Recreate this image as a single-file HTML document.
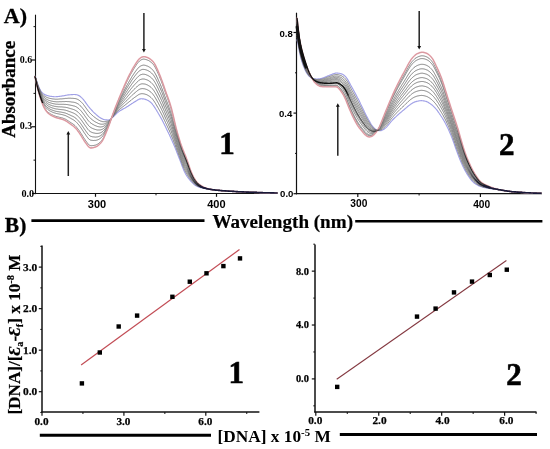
<!DOCTYPE html>
<html><head><meta charset="utf-8"><style>
html,body{margin:0;padding:0;background:#fff;}
svg{display:block;will-change:transform;}
</style></head><body>
<svg width="550" height="449" viewBox="0 0 550 449">
<rect width="550" height="449" fill="#fff"/>
<line x1="35.5" y1="14.7" x2="35.5" y2="194.1" stroke="#111" stroke-width="1.1"/>
<line x1="35" y1="193.5" x2="277.5" y2="193.5" stroke="#111" stroke-width="1.1"/>
<line x1="32" y1="193.5" x2="35.5" y2="193.5" stroke="#111" stroke-width="1.2"/>
<line x1="32" y1="126.75" x2="35.5" y2="126.75" stroke="#111" stroke-width="1.2"/>
<line x1="32" y1="60.0" x2="35.5" y2="60.0" stroke="#111" stroke-width="1.2"/>
<line x1="33.5" y1="160.125" x2="35.5" y2="160.125" stroke="#111" stroke-width="1"/>
<line x1="33.5" y1="93.375" x2="35.5" y2="93.375" stroke="#111" stroke-width="1"/>
<line x1="33.5" y1="26.625" x2="35.5" y2="26.625" stroke="#111" stroke-width="1"/>
<line x1="95.5" y1="193.5" x2="95.5" y2="196.8" stroke="#111" stroke-width="1.2"/>
<line x1="216.5" y1="193.5" x2="216.5" y2="196.8" stroke="#111" stroke-width="1.2"/>
<line x1="156.0" y1="193.5" x2="156.0" y2="195.3" stroke="#111" stroke-width="1"/>
<polyline points="35.0,76.2 35.5,77.3 36.0,78.7 36.5,80.3 37.0,81.9 37.5,83.4 38.0,84.8 38.5,86.1 39.0,87.3 39.5,88.4 40.0,89.4 40.5,90.3 41.0,91.1 41.5,91.8 42.0,92.4 42.5,92.9 43.0,93.4 43.5,93.8 44.0,94.1 44.5,94.4 45.0,94.7 45.5,94.9 46.0,95.1 46.5,95.3 47.0,95.5 47.5,95.6 48.0,95.8 48.5,95.9 49.0,96.0 49.5,96.1 50.0,96.2 50.5,96.3 51.0,96.3 51.5,96.4 52.0,96.5 52.5,96.5 53.0,96.6 53.5,96.6 54.0,96.7 54.5,96.7 55.0,96.7 55.5,96.7 56.0,96.7 56.5,96.6 57.0,96.6 57.5,96.6 58.0,96.5 58.5,96.5 59.0,96.4 59.5,96.3 60.0,96.3 60.5,96.2 61.0,96.1 61.5,96.1 62.0,96.0 62.5,95.9 63.0,95.8 63.5,95.8 64.0,95.7 64.5,95.6 65.0,95.5 65.5,95.4 66.0,95.3 66.5,95.2 67.0,95.1 67.5,95.0 68.0,94.9 68.5,94.9 69.0,94.8 69.5,94.8 70.0,94.7 70.5,94.7 71.0,94.6 71.5,94.6 72.0,94.6 72.5,94.6 73.0,94.5 73.5,94.5 74.0,94.5 74.5,94.5 75.0,94.5 75.5,94.6 76.0,94.6 76.5,94.7 77.0,94.8 77.5,95.0 78.0,95.2 78.5,95.4 79.0,95.6 79.5,95.9 80.0,96.3 80.5,96.7 81.0,97.1 81.5,97.6 82.0,98.0 82.5,98.6 83.0,99.1 83.5,99.7 84.0,100.3 84.5,101.0 85.0,101.7 85.5,102.4 86.0,103.1 86.5,103.8 87.0,104.5 87.5,105.2 88.0,105.9 88.5,106.5 89.0,107.1 89.5,107.7 90.0,108.3 90.5,108.9 91.0,109.4 91.5,110.0 92.0,110.5 92.5,111.0 93.0,111.6 93.5,112.1 94.0,112.6 94.5,113.0 95.0,113.5 95.5,113.9 96.0,114.4 96.5,114.8 97.0,115.3 97.5,115.7 98.0,116.1 98.5,116.5 99.0,116.9 99.5,117.2 100.0,117.6 100.5,117.9 101.0,118.2 101.5,118.4 102.0,118.7 102.5,118.9 103.0,119.2 103.5,119.4 104.0,119.5 104.5,119.7 105.0,119.8 105.5,119.8 106.0,119.9 106.5,119.9 107.0,119.9 107.5,120.0 108.0,120.0 108.5,120.0 109.0,119.9 109.5,119.8 110.0,119.6 110.5,119.2 111.0,118.9 111.5,118.4 112.0,117.9 112.5,117.5 113.0,117.0 113.5,116.5 114.0,116.0 114.5,115.5 115.0,115.0 115.5,114.5 116.0,114.0 116.5,113.5 117.0,113.0 117.5,112.6 118.0,112.2 118.5,111.8 119.0,111.5 119.5,111.1 120.0,110.8 120.5,110.5 121.0,110.2 121.5,109.9 122.0,109.6 122.5,109.4 123.0,109.1 123.5,108.8 124.0,108.5 124.5,108.3 125.0,108.0 125.5,107.7 126.0,107.4 126.5,107.1 127.0,106.8 127.5,106.5 128.0,106.2 128.5,105.8 129.0,105.5 129.5,105.2 130.0,104.8 130.5,104.5 131.0,104.2 131.5,103.8 132.0,103.5 132.5,103.2 133.0,102.9 133.5,102.5 134.0,102.2 134.5,101.9 135.0,101.6 135.5,101.4 136.0,101.1 136.5,100.8 137.0,100.4 137.5,100.1 138.0,99.8 138.5,99.6 139.0,99.3 139.5,99.1 140.0,98.9 140.5,98.8 141.0,98.8 141.5,98.7 142.0,98.8 142.5,98.8 143.0,98.9 143.5,98.9 144.0,99.0 144.5,99.1 145.0,99.2 145.5,99.4 146.0,99.6 146.5,99.8 147.0,100.0 147.5,100.3 148.0,100.5 148.5,100.8 149.0,101.1 149.5,101.5 150.0,101.8 150.5,102.2 151.0,102.7 151.5,103.2 152.0,103.7 152.5,104.3 153.0,105.0 153.5,105.6 154.0,106.4 154.5,107.1 155.0,107.9 155.5,108.7 156.0,109.5 156.5,110.3 157.0,111.1 157.5,112.0 158.0,112.8 158.5,113.7 159.0,114.5 159.5,115.4 160.0,116.2 160.5,117.1 161.0,118.0 161.5,118.9 162.0,119.8 162.5,120.8 163.0,121.8 163.5,122.8 164.0,123.8 164.5,124.8 165.0,125.8 165.5,126.8 166.0,127.8 166.5,128.9 167.0,129.9 167.5,130.9 168.0,132.0 168.5,133.0 169.0,134.1 169.5,135.1 170.0,136.2 170.5,137.3 171.0,138.4 171.5,139.5 172.0,140.6 172.5,141.8 173.0,142.9 173.5,144.1 174.0,145.2 174.5,146.4 175.0,147.6 175.5,148.9 176.0,150.1 176.5,151.4 177.0,152.7 177.5,153.9 178.0,155.2 178.5,156.5 179.0,157.7 179.5,159.0 180.0,160.3 180.5,161.6 181.0,163.0 181.5,164.3 182.0,165.7 182.5,167.0 183.0,168.3 183.5,169.5 184.0,170.7 184.5,171.8 185.0,172.8 185.5,173.8 186.0,174.7 186.5,175.5 187.0,176.3 187.5,177.0 188.0,177.7 188.5,178.4 189.0,179.0 189.5,179.6 190.0,180.2 190.5,180.8 191.0,181.3 191.5,181.9 192.0,182.4 192.5,182.9 193.0,183.4 193.5,183.8 194.0,184.3 194.5,184.7 195.0,185.1 195.5,185.4 196.0,185.8 196.5,186.1 197.0,186.3 197.5,186.5 198.0,186.7 198.5,186.9 199.0,187.1 199.5,187.3 200.0,187.4 200.5,187.6 201.0,187.7 201.5,187.8 202.0,188.0 202.5,188.1 203.0,188.2 203.5,188.3 204.0,188.4 204.5,188.5 205.0,188.6 205.5,188.7 206.0,188.8 206.5,188.9 207.0,189.0 207.5,189.0 208.0,189.1 208.5,189.2 209.0,189.3 209.5,189.3 210.0,189.4 210.5,189.5 211.0,189.5 211.5,189.6 212.0,189.7 212.5,189.7 213.0,189.8 213.5,189.8 214.0,189.9 214.5,189.9 215.0,190.0 215.5,190.0 216.0,190.1 216.5,190.1 217.0,190.2 217.5,190.2 218.0,190.3 218.5,190.3 219.0,190.4 219.5,190.4 220.0,190.5 220.5,190.5 221.0,190.5 221.5,190.6 222.0,190.6 222.5,190.7 223.0,190.7 223.5,190.7 224.0,190.8 224.5,190.8 225.0,190.9 225.5,190.9 226.0,190.9 226.5,191.0 227.0,191.0 227.5,191.0 228.0,191.1 228.5,191.1 229.0,191.1 229.5,191.2 230.0,191.2 230.5,191.2 231.0,191.3 231.5,191.3 232.0,191.3 232.5,191.4 233.0,191.4 233.5,191.4 234.0,191.4 234.5,191.5 235.0,191.5 235.5,191.5 236.0,191.6 236.5,191.6 237.0,191.6 237.5,191.6 238.0,191.7 238.5,191.7 239.0,191.7 239.5,191.7 240.0,191.8 240.5,191.8 241.0,191.8 241.5,191.8 242.0,191.9 242.5,191.9 243.0,191.9 243.5,191.9 244.0,192.0 244.5,192.0 245.0,192.0 245.5,192.0 246.0,192.0 246.5,192.1 247.0,192.1 247.5,192.1 248.0,192.1 248.5,192.1 249.0,192.2 249.5,192.2 250.0,192.2 250.5,192.2 251.0,192.2 251.5,192.3 252.0,192.3 252.5,192.3 253.0,192.3 253.5,192.3 254.0,192.3 254.5,192.4 255.0,192.4 255.5,192.4 256.0,192.4 256.5,192.4 257.0,192.5 257.5,192.5 258.0,192.5 258.5,192.5 259.0,192.5 259.5,192.5 260.0,192.6 260.5,192.6 261.0,192.6 261.5,192.6 262.0,192.6 262.5,192.6 263.0,192.7 263.5,192.7 264.0,192.7 264.5,192.7 265.0,192.7 265.5,192.7 266.0,192.7 266.5,192.8 267.0,192.8 267.5,192.8 268.0,192.8 268.5,192.8 269.0,192.8 269.5,192.8 270.0,192.8 270.5,192.9 271.0,192.9 271.5,192.9 272.0,192.9 272.5,192.9 273.0,192.9 273.5,192.9 274.0,192.9 274.5,193.0 275.0,193.0 275.5,193.0 276.0,193.0 276.5,193.0 277.0,193.0" fill="none" stroke="#a0a0e6" stroke-width="1.15" stroke-opacity="1.0" stroke-linejoin="round" stroke-linecap="round"/>
<polyline points="35.0,76.3 35.5,77.5 36.0,79.0 36.5,80.7 37.0,82.3 37.5,83.9 38.0,85.4 38.5,86.7 39.0,88.0 39.5,89.2 40.0,90.2 40.5,91.2 41.0,92.1 41.5,92.9 42.0,93.6 42.5,94.3 43.0,94.8 43.5,95.3 44.0,95.7 44.5,96.1 45.0,96.4 45.5,96.7 46.0,97.0 46.5,97.2 47.0,97.5 47.5,97.7 48.0,97.9 48.5,98.0 49.0,98.2 49.5,98.3 50.0,98.4 50.5,98.5 51.0,98.6 51.5,98.7 52.0,98.8 52.5,98.9 53.0,99.0 53.5,99.0 54.0,99.1 54.5,99.1 55.0,99.2 55.5,99.2 56.0,99.2 56.5,99.2 57.0,99.2 57.5,99.2 58.0,99.1 58.5,99.1 59.0,99.1 59.5,99.0 60.0,99.0 60.5,98.9 61.0,98.9 61.5,98.9 62.0,98.8 62.5,98.8 63.0,98.7 63.5,98.7 64.0,98.6 64.5,98.6 65.0,98.5 65.5,98.4 66.0,98.4 66.5,98.4 67.0,98.3 67.5,98.3 68.0,98.3 68.5,98.2 69.0,98.2 69.5,98.2 70.0,98.2 70.5,98.2 71.0,98.3 71.5,98.3 72.0,98.3 72.5,98.3 73.0,98.3 73.5,98.4 74.0,98.4 74.5,98.5 75.0,98.5 75.5,98.6 76.0,98.7 76.5,98.9 77.0,99.1 77.5,99.3 78.0,99.5 78.5,99.8 79.0,100.1 79.5,100.5 80.0,100.9 80.5,101.3 81.0,101.8 81.5,102.3 82.0,102.8 82.5,103.3 83.0,103.9 83.5,104.5 84.0,105.2 84.5,105.9 85.0,106.6 85.5,107.3 86.0,108.0 86.5,108.7 87.0,109.4 87.5,110.1 88.0,110.8 88.5,111.4 89.0,112.0 89.5,112.5 90.0,113.1 90.5,113.6 91.0,114.1 91.5,114.6 92.0,115.0 92.5,115.5 93.0,115.9 93.5,116.4 94.0,116.8 94.5,117.2 95.0,117.6 95.5,117.9 96.0,118.3 96.5,118.7 97.0,119.0 97.5,119.3 98.0,119.7 98.5,120.0 99.0,120.3 99.5,120.5 100.0,120.7 100.5,121.0 101.0,121.1 101.5,121.3 102.0,121.4 102.5,121.6 103.0,121.7 103.5,121.7 104.0,121.7 104.5,121.7 105.0,121.6 105.5,121.6 106.0,121.5 106.5,121.3 107.0,121.2 107.5,121.1 108.0,120.9 108.5,120.8 109.0,120.6 109.5,120.3 110.0,119.9 110.5,119.5 111.0,118.9 111.5,118.4 112.0,117.8 112.5,117.2 113.0,116.6 113.5,116.0 114.0,115.4 114.5,114.8 115.0,114.2 115.5,113.6 116.0,113.0 116.5,112.4 117.0,111.9 117.5,111.3 118.0,110.8 118.5,110.3 119.0,109.9 119.5,109.4 120.0,109.0 120.5,108.6 121.0,108.2 121.5,107.8 122.0,107.4 122.5,107.0 123.0,106.6 123.5,106.3 124.0,105.9 124.5,105.5 125.0,105.1 125.5,104.7 126.0,104.3 126.5,103.9 127.0,103.5 127.5,103.1 128.0,102.7 128.5,102.3 129.0,101.9 129.5,101.5 130.0,101.1 130.5,100.7 131.0,100.3 131.5,99.8 132.0,99.4 132.5,99.0 133.0,98.7 133.5,98.3 134.0,97.9 134.5,97.5 135.0,97.2 135.5,96.8 136.0,96.5 136.5,96.1 137.0,95.8 137.5,95.4 138.0,95.1 138.5,94.7 139.0,94.4 139.5,94.2 140.0,94.0 140.5,93.9 141.0,93.8 141.5,93.7 142.0,93.7 142.5,93.7 143.0,93.8 143.5,93.8 144.0,93.9 144.5,94.0 145.0,94.1 145.5,94.3 146.0,94.4 146.5,94.6 147.0,94.8 147.5,95.1 148.0,95.4 148.5,95.7 149.0,96.0 149.5,96.3 150.0,96.7 150.5,97.1 151.0,97.5 151.5,98.0 152.0,98.5 152.5,99.1 153.0,99.7 153.5,100.4 154.0,101.1 154.5,101.8 155.0,102.6 155.5,103.4 156.0,104.3 156.5,105.1 157.0,106.0 157.5,106.9 158.0,107.7 158.5,108.6 159.0,109.5 159.5,110.4 160.0,111.3 160.5,112.2 161.0,113.2 161.5,114.1 162.0,115.1 162.5,116.1 163.0,117.2 163.5,118.2 164.0,119.3 164.5,120.3 165.0,121.4 165.5,122.5 166.0,123.5 166.5,124.6 167.0,125.7 167.5,126.7 168.0,127.8 168.5,128.9 169.0,130.0 169.5,131.1 170.0,132.3 170.5,133.4 171.0,134.6 171.5,135.8 172.0,137.0 172.5,138.2 173.0,139.5 173.5,140.8 174.0,142.1 174.5,143.4 175.0,144.7 175.5,146.0 176.0,147.4 176.5,148.7 177.0,150.1 177.5,151.4 178.0,152.7 178.5,154.1 179.0,155.4 179.5,156.7 180.0,158.0 180.5,159.4 181.0,160.7 181.5,162.1 182.0,163.4 182.5,164.8 183.0,166.0 183.5,167.3 184.0,168.5 184.5,169.6 185.0,170.6 185.5,171.6 186.0,172.5 186.5,173.4 187.0,174.3 187.5,175.1 188.0,175.9 188.5,176.7 189.0,177.4 189.5,178.1 190.0,178.8 190.5,179.5 191.0,180.1 191.5,180.8 192.0,181.3 192.5,181.9 193.0,182.5 193.5,183.0 194.0,183.5 194.5,184.0 195.0,184.4 195.5,184.8 196.0,185.2 196.5,185.5 197.0,185.8 197.5,186.1 198.0,186.3 198.5,186.5 199.0,186.8 199.5,186.9 200.0,187.1 200.5,187.3 201.0,187.5 201.5,187.6 202.0,187.8 202.5,187.9 203.0,188.0 203.5,188.1 204.0,188.3 204.5,188.4 205.0,188.5 205.5,188.6 206.0,188.7 206.5,188.8 207.0,188.9 207.5,189.0 208.0,189.1 208.5,189.1 209.0,189.2 209.5,189.3 210.0,189.4 210.5,189.4 211.0,189.5 211.5,189.6 212.0,189.6 212.5,189.7 213.0,189.8 213.5,189.8 214.0,189.9 214.5,189.9 215.0,190.0 215.5,190.0 216.0,190.1 216.5,190.1 217.0,190.2 217.5,190.2 218.0,190.3 218.5,190.3 219.0,190.4 219.5,190.4 220.0,190.5 220.5,190.5 221.0,190.6 221.5,190.6 222.0,190.6 222.5,190.7 223.0,190.7 223.5,190.8 224.0,190.8 224.5,190.8 225.0,190.9 225.5,190.9 226.0,190.9 226.5,191.0 227.0,191.0 227.5,191.0 228.0,191.1 228.5,191.1 229.0,191.1 229.5,191.2 230.0,191.2 230.5,191.2 231.0,191.3 231.5,191.3 232.0,191.3 232.5,191.4 233.0,191.4 233.5,191.4 234.0,191.4 234.5,191.5 235.0,191.5 235.5,191.5 236.0,191.6 236.5,191.6 237.0,191.6 237.5,191.6 238.0,191.7 238.5,191.7 239.0,191.7 239.5,191.7 240.0,191.8 240.5,191.8 241.0,191.8 241.5,191.8 242.0,191.9 242.5,191.9 243.0,191.9 243.5,191.9 244.0,192.0 244.5,192.0 245.0,192.0 245.5,192.0 246.0,192.0 246.5,192.1 247.0,192.1 247.5,192.1 248.0,192.1 248.5,192.1 249.0,192.2 249.5,192.2 250.0,192.2 250.5,192.2 251.0,192.2 251.5,192.3 252.0,192.3 252.5,192.3 253.0,192.3 253.5,192.3 254.0,192.3 254.5,192.4 255.0,192.4 255.5,192.4 256.0,192.4 256.5,192.4 257.0,192.5 257.5,192.5 258.0,192.5 258.5,192.5 259.0,192.5 259.5,192.5 260.0,192.6 260.5,192.6 261.0,192.6 261.5,192.6 262.0,192.6 262.5,192.6 263.0,192.7 263.5,192.7 264.0,192.7 264.5,192.7 265.0,192.7 265.5,192.7 266.0,192.7 266.5,192.8 267.0,192.8 267.5,192.8 268.0,192.8 268.5,192.8 269.0,192.8 269.5,192.8 270.0,192.8 270.5,192.9 271.0,192.9 271.5,192.9 272.0,192.9 272.5,192.9 273.0,192.9 273.5,192.9 274.0,192.9 274.5,193.0 275.0,193.0 275.5,193.0 276.0,193.0 276.5,193.0 277.0,193.0" fill="none" stroke="#6c6c6c" stroke-width="0.85" stroke-opacity="1.0" stroke-linejoin="round" stroke-linecap="round"/>
<polyline points="35.0,76.3 35.5,77.6 36.0,79.3 36.5,81.1 37.0,82.8 37.5,84.5 38.0,86.0 38.5,87.4 39.0,88.7 39.5,90.0 40.0,91.1 40.5,92.2 41.0,93.2 41.5,94.1 42.0,94.9 42.5,95.6 43.0,96.2 43.5,96.8 44.0,97.3 44.5,97.8 45.0,98.2 45.5,98.6 46.0,98.9 46.5,99.2 47.0,99.5 47.5,99.7 48.0,100.0 48.5,100.2 49.0,100.4 49.5,100.5 50.0,100.7 50.5,100.8 51.0,100.9 51.5,101.1 52.0,101.2 52.5,101.3 53.0,101.4 53.5,101.5 54.0,101.5 54.5,101.6 55.0,101.7 55.5,101.7 56.0,101.7 56.5,101.8 57.0,101.8 57.5,101.8 58.0,101.8 58.5,101.8 59.0,101.7 59.5,101.7 60.0,101.7 60.5,101.7 61.0,101.7 61.5,101.7 62.0,101.6 62.5,101.6 63.0,101.6 63.5,101.6 64.0,101.6 64.5,101.6 65.0,101.5 65.5,101.5 66.0,101.5 66.5,101.5 67.0,101.6 67.5,101.6 68.0,101.6 68.5,101.6 69.0,101.7 69.5,101.7 70.0,101.8 70.5,101.8 71.0,101.9 71.5,102.0 72.0,102.0 72.5,102.1 73.0,102.2 73.5,102.2 74.0,102.3 74.5,102.4 75.0,102.6 75.5,102.7 76.0,102.9 76.5,103.1 77.0,103.3 77.5,103.6 78.0,103.9 78.5,104.2 79.0,104.6 79.5,105.0 80.0,105.5 80.5,105.9 81.0,106.5 81.5,107.0 82.0,107.6 82.5,108.2 83.0,108.8 83.5,109.4 84.0,110.1 84.5,110.8 85.0,111.5 85.5,112.2 86.0,112.9 86.5,113.6 87.0,114.3 87.5,115.0 88.0,115.7 88.5,116.3 89.0,116.9 89.5,117.4 90.0,117.9 90.5,118.3 91.0,118.8 91.5,119.2 92.0,119.6 92.5,120.0 93.0,120.3 93.5,120.7 94.0,121.0 94.5,121.4 95.0,121.7 95.5,122.0 96.0,122.3 96.5,122.5 97.0,122.8 97.5,123.0 98.0,123.3 98.5,123.5 99.0,123.7 99.5,123.8 100.0,124.0 100.5,124.1 101.0,124.1 101.5,124.2 102.0,124.2 102.5,124.2 103.0,124.2 103.5,124.1 104.0,123.9 104.5,123.8 105.0,123.5 105.5,123.3 106.0,123.0 106.5,122.8 107.0,122.5 107.5,122.2 108.0,121.9 108.5,121.6 109.0,121.2 109.5,120.8 110.0,120.3 110.5,119.7 111.0,119.0 111.5,118.3 112.0,117.6 112.5,116.9 113.0,116.2 113.5,115.5 114.0,114.8 114.5,114.1 115.0,113.4 115.5,112.7 116.0,112.0 116.5,111.3 117.0,110.7 117.5,110.0 118.0,109.4 118.5,108.9 119.0,108.3 119.5,107.8 120.0,107.2 120.5,106.7 121.0,106.2 121.5,105.7 122.0,105.2 122.5,104.7 123.0,104.2 123.5,103.7 124.0,103.2 124.5,102.7 125.0,102.2 125.5,101.7 126.0,101.2 126.5,100.8 127.0,100.3 127.5,99.8 128.0,99.3 128.5,98.8 129.0,98.3 129.5,97.8 130.0,97.3 130.5,96.8 131.0,96.3 131.5,95.8 132.0,95.3 132.5,94.9 133.0,94.4 133.5,94.0 134.0,93.5 134.5,93.1 135.0,92.7 135.5,92.3 136.0,91.9 136.5,91.4 137.0,91.0 137.5,90.6 138.0,90.2 138.5,89.9 139.0,89.5 139.5,89.3 140.0,89.0 140.5,88.9 141.0,88.8 141.5,88.7 142.0,88.6 142.5,88.6 143.0,88.6 143.5,88.7 144.0,88.7 144.5,88.8 145.0,88.9 145.5,89.1 146.0,89.2 146.5,89.4 147.0,89.7 147.5,89.9 148.0,90.2 148.5,90.4 149.0,90.7 149.5,91.1 150.0,91.4 150.5,91.8 151.0,92.2 151.5,92.7 152.0,93.2 152.5,93.8 153.0,94.4 153.5,95.1 154.0,95.8 154.5,96.5 155.0,97.3 155.5,98.2 156.0,99.0 156.5,99.9 157.0,100.8 157.5,101.7 158.0,102.6 158.5,103.5 159.0,104.5 159.5,105.4 160.0,106.3 160.5,107.3 161.0,108.3 161.5,109.3 162.0,110.4 162.5,111.4 163.0,112.5 163.5,113.6 164.0,114.7 164.5,115.8 165.0,117.0 165.5,118.1 166.0,119.2 166.5,120.3 167.0,121.4 167.5,122.5 168.0,123.7 168.5,124.8 169.0,125.9 169.5,127.1 170.0,128.3 170.5,129.5 171.0,130.7 171.5,132.0 172.0,133.3 172.5,134.7 173.0,136.0 173.5,137.4 174.0,138.9 174.5,140.3 175.0,141.7 175.5,143.2 176.0,144.6 176.5,146.0 177.0,147.5 177.5,148.9 178.0,150.2 178.5,151.6 179.0,153.0 179.5,154.4 180.0,155.7 180.5,157.1 181.0,158.5 181.5,159.8 182.0,161.2 182.5,162.5 183.0,163.8 183.5,165.0 184.0,166.2 184.5,167.4 185.0,168.4 185.5,169.4 186.0,170.4 186.5,171.4 187.0,172.3 187.5,173.2 188.0,174.1 188.5,175.0 189.0,175.8 189.5,176.6 190.0,177.4 190.5,178.2 191.0,178.9 191.5,179.6 192.0,180.3 192.5,181.0 193.0,181.6 193.5,182.2 194.0,182.7 194.5,183.2 195.0,183.7 195.5,184.2 196.0,184.6 196.5,185.0 197.0,185.3 197.5,185.6 198.0,185.9 198.5,186.2 199.0,186.4 199.5,186.6 200.0,186.8 200.5,187.0 201.0,187.2 201.5,187.4 202.0,187.5 202.5,187.7 203.0,187.9 203.5,188.0 204.0,188.1 204.5,188.3 205.0,188.4 205.5,188.5 206.0,188.6 206.5,188.7 207.0,188.8 207.5,188.9 208.0,189.0 208.5,189.1 209.0,189.2 209.5,189.3 210.0,189.3 210.5,189.4 211.0,189.5 211.5,189.6 212.0,189.6 212.5,189.7 213.0,189.8 213.5,189.8 214.0,189.9 214.5,189.9 215.0,190.0 215.5,190.0 216.0,190.1 216.5,190.2 217.0,190.2 217.5,190.2 218.0,190.3 218.5,190.3 219.0,190.4 219.5,190.4 220.0,190.5 220.5,190.5 221.0,190.6 221.5,190.6 222.0,190.6 222.5,190.7 223.0,190.7 223.5,190.8 224.0,190.8 224.5,190.8 225.0,190.9 225.5,190.9 226.0,190.9 226.5,191.0 227.0,191.0 227.5,191.0 228.0,191.1 228.5,191.1 229.0,191.1 229.5,191.2 230.0,191.2 230.5,191.2 231.0,191.3 231.5,191.3 232.0,191.3 232.5,191.4 233.0,191.4 233.5,191.4 234.0,191.4 234.5,191.5 235.0,191.5 235.5,191.5 236.0,191.6 236.5,191.6 237.0,191.6 237.5,191.6 238.0,191.7 238.5,191.7 239.0,191.7 239.5,191.7 240.0,191.8 240.5,191.8 241.0,191.8 241.5,191.8 242.0,191.9 242.5,191.9 243.0,191.9 243.5,191.9 244.0,192.0 244.5,192.0 245.0,192.0 245.5,192.0 246.0,192.0 246.5,192.1 247.0,192.1 247.5,192.1 248.0,192.1 248.5,192.1 249.0,192.2 249.5,192.2 250.0,192.2 250.5,192.2 251.0,192.2 251.5,192.3 252.0,192.3 252.5,192.3 253.0,192.3 253.5,192.3 254.0,192.3 254.5,192.4 255.0,192.4 255.5,192.4 256.0,192.4 256.5,192.4 257.0,192.5 257.5,192.5 258.0,192.5 258.5,192.5 259.0,192.5 259.5,192.5 260.0,192.6 260.5,192.6 261.0,192.6 261.5,192.6 262.0,192.6 262.5,192.6 263.0,192.7 263.5,192.7 264.0,192.7 264.5,192.7 265.0,192.7 265.5,192.7 266.0,192.7 266.5,192.8 267.0,192.8 267.5,192.8 268.0,192.8 268.5,192.8 269.0,192.8 269.5,192.8 270.0,192.8 270.5,192.9 271.0,192.9 271.5,192.9 272.0,192.9 272.5,192.9 273.0,192.9 273.5,192.9 274.0,192.9 274.5,193.0 275.0,193.0 275.5,193.0 276.0,193.0 276.5,193.0 277.0,193.0" fill="none" stroke="#6c6c6c" stroke-width="0.85" stroke-opacity="1.0" stroke-linejoin="round" stroke-linecap="round"/>
<polyline points="35.0,76.4 35.5,77.8 36.0,79.5 36.5,81.4 37.0,83.2 37.5,85.0 38.0,86.6 38.5,88.0 39.0,89.4 39.5,90.7 40.0,92.0 40.5,93.1 41.0,94.2 41.5,95.2 42.0,96.1 42.5,96.9 43.0,97.6 43.5,98.3 44.0,98.9 44.5,99.4 45.0,99.9 45.5,100.3 46.0,100.7 46.5,101.0 47.0,101.4 47.5,101.7 48.0,101.9 48.5,102.2 49.0,102.4 49.5,102.6 50.0,102.8 50.5,102.9 51.0,103.1 51.5,103.2 52.0,103.4 52.5,103.5 53.0,103.6 53.5,103.7 54.0,103.8 54.5,103.9 55.0,104.0 55.5,104.1 56.0,104.1 56.5,104.2 57.0,104.2 57.5,104.2 58.0,104.2 58.5,104.3 59.0,104.3 59.5,104.3 60.0,104.3 60.5,104.3 61.0,104.3 61.5,104.3 62.0,104.3 62.5,104.3 63.0,104.3 63.5,104.3 64.0,104.3 64.5,104.4 65.0,104.4 65.5,104.4 66.0,104.5 66.5,104.5 67.0,104.6 67.5,104.6 68.0,104.7 68.5,104.8 69.0,104.9 69.5,105.0 70.0,105.1 70.5,105.2 71.0,105.3 71.5,105.4 72.0,105.5 72.5,105.6 73.0,105.7 73.5,105.9 74.0,106.0 74.5,106.1 75.0,106.3 75.5,106.5 76.0,106.8 76.5,107.0 77.0,107.3 77.5,107.7 78.0,108.0 78.5,108.4 79.0,108.8 79.5,109.3 80.0,109.8 80.5,110.3 81.0,110.8 81.5,111.4 82.0,112.0 82.5,112.7 83.0,113.3 83.5,114.0 84.0,114.7 84.5,115.4 85.0,116.1 85.5,116.8 86.0,117.5 86.5,118.2 87.0,118.9 87.5,119.6 88.0,120.3 88.5,120.9 89.0,121.4 89.5,121.9 90.0,122.4 90.5,122.8 91.0,123.2 91.5,123.5 92.0,123.8 92.5,124.2 93.0,124.5 93.5,124.7 94.0,125.0 94.5,125.3 95.0,125.5 95.5,125.7 96.0,125.9 96.5,126.1 97.0,126.3 97.5,126.5 98.0,126.6 98.5,126.7 99.0,126.8 99.5,126.9 100.0,126.9 100.5,127.0 101.0,126.9 101.5,126.9 102.0,126.8 102.5,126.7 103.0,126.5 103.5,126.3 104.0,126.0 104.5,125.7 105.0,125.3 105.5,124.9 106.0,124.5 106.5,124.1 107.0,123.7 107.5,123.3 108.0,122.8 108.5,122.3 109.0,121.8 109.5,121.2 110.0,120.6 110.5,119.9 111.0,119.1 111.5,118.3 112.0,117.5 112.5,116.7 113.0,115.9 113.5,115.1 114.0,114.3 114.5,113.5 115.0,112.7 115.5,111.9 116.0,111.1 116.5,110.3 117.0,109.6 117.5,108.8 118.0,108.1 118.5,107.5 119.0,106.8 119.5,106.2 120.0,105.5 120.5,104.9 121.0,104.3 121.5,103.7 122.0,103.1 122.5,102.5 123.0,101.9 123.5,101.3 124.0,100.7 124.5,100.1 125.0,99.5 125.5,98.9 126.0,98.4 126.5,97.8 127.0,97.2 127.5,96.6 128.0,96.0 128.5,95.4 129.0,94.9 129.5,94.3 130.0,93.7 130.5,93.2 131.0,92.6 131.5,92.1 132.0,91.5 132.5,91.0 133.0,90.5 133.5,89.9 134.0,89.4 134.5,89.0 135.0,88.5 135.5,88.0 136.0,87.5 136.5,87.1 137.0,86.6 137.5,86.1 138.0,85.7 138.5,85.3 139.0,85.0 139.5,84.7 140.0,84.4 140.5,84.2 141.0,84.1 141.5,83.9 142.0,83.9 142.5,83.8 143.0,83.8 143.5,83.9 144.0,83.9 144.5,84.0 145.0,84.1 145.5,84.2 146.0,84.4 146.5,84.6 147.0,84.8 147.5,85.0 148.0,85.3 148.5,85.6 149.0,85.9 149.5,86.2 150.0,86.5 150.5,86.9 151.0,87.3 151.5,87.8 152.0,88.3 152.5,88.9 153.0,89.5 153.5,90.1 154.0,90.8 154.5,91.6 155.0,92.4 155.5,93.2 156.0,94.1 156.5,95.0 157.0,95.9 157.5,96.9 158.0,97.8 158.5,98.8 159.0,99.8 159.5,100.7 160.0,101.7 160.5,102.7 161.0,103.8 161.5,104.8 162.0,105.9 162.5,107.0 163.0,108.2 163.5,109.3 164.0,110.5 164.5,111.6 165.0,112.8 165.5,114.0 166.0,115.1 166.5,116.3 167.0,117.4 167.5,118.6 168.0,119.8 168.5,120.9 169.0,122.1 169.5,123.3 170.0,124.6 170.5,125.8 171.0,127.1 171.5,128.5 172.0,129.9 172.5,131.3 173.0,132.8 173.5,134.3 174.0,135.9 174.5,137.4 175.0,139.0 175.5,140.5 176.0,142.0 176.5,143.5 177.0,145.0 177.5,146.5 178.0,147.9 178.5,149.4 179.0,150.8 179.5,152.2 180.0,153.6 180.5,155.0 181.0,156.3 181.5,157.7 182.0,159.1 182.5,160.4 183.0,161.7 183.5,162.9 184.0,164.1 184.5,165.3 185.0,166.4 185.5,167.4 186.0,168.4 186.5,169.4 187.0,170.4 187.5,171.4 188.0,172.4 188.5,173.4 189.0,174.3 189.5,175.2 190.0,176.1 190.5,177.0 191.0,177.8 191.5,178.6 192.0,179.3 192.5,180.0 193.0,180.7 193.5,181.4 194.0,182.0 194.5,182.5 195.0,183.1 195.5,183.6 196.0,184.0 196.5,184.4 197.0,184.8 197.5,185.2 198.0,185.5 198.5,185.8 199.0,186.1 199.5,186.3 200.0,186.5 200.5,186.8 201.0,187.0 201.5,187.2 202.0,187.3 202.5,187.5 203.0,187.7 203.5,187.8 204.0,188.0 204.5,188.1 205.0,188.3 205.5,188.4 206.0,188.5 206.5,188.6 207.0,188.7 207.5,188.9 208.0,188.9 208.5,189.0 209.0,189.1 209.5,189.2 210.0,189.3 210.5,189.4 211.0,189.5 211.5,189.5 212.0,189.6 212.5,189.7 213.0,189.8 213.5,189.8 214.0,189.9 214.5,189.9 215.0,190.0 215.5,190.1 216.0,190.1 216.5,190.2 217.0,190.2 217.5,190.3 218.0,190.3 218.5,190.3 219.0,190.4 219.5,190.4 220.0,190.5 220.5,190.5 221.0,190.6 221.5,190.6 222.0,190.6 222.5,190.7 223.0,190.7 223.5,190.8 224.0,190.8 224.5,190.8 225.0,190.9 225.5,190.9 226.0,190.9 226.5,191.0 227.0,191.0 227.5,191.0 228.0,191.1 228.5,191.1 229.0,191.1 229.5,191.2 230.0,191.2 230.5,191.2 231.0,191.3 231.5,191.3 232.0,191.3 232.5,191.4 233.0,191.4 233.5,191.4 234.0,191.4 234.5,191.5 235.0,191.5 235.5,191.5 236.0,191.6 236.5,191.6 237.0,191.6 237.5,191.6 238.0,191.7 238.5,191.7 239.0,191.7 239.5,191.7 240.0,191.8 240.5,191.8 241.0,191.8 241.5,191.8 242.0,191.9 242.5,191.9 243.0,191.9 243.5,191.9 244.0,192.0 244.5,192.0 245.0,192.0 245.5,192.0 246.0,192.0 246.5,192.1 247.0,192.1 247.5,192.1 248.0,192.1 248.5,192.1 249.0,192.2 249.5,192.2 250.0,192.2 250.5,192.2 251.0,192.2 251.5,192.3 252.0,192.3 252.5,192.3 253.0,192.3 253.5,192.3 254.0,192.3 254.5,192.4 255.0,192.4 255.5,192.4 256.0,192.4 256.5,192.4 257.0,192.5 257.5,192.5 258.0,192.5 258.5,192.5 259.0,192.5 259.5,192.5 260.0,192.6 260.5,192.6 261.0,192.6 261.5,192.6 262.0,192.6 262.5,192.6 263.0,192.7 263.5,192.7 264.0,192.7 264.5,192.7 265.0,192.7 265.5,192.7 266.0,192.7 266.5,192.8 267.0,192.8 267.5,192.8 268.0,192.8 268.5,192.8 269.0,192.8 269.5,192.8 270.0,192.8 270.5,192.9 271.0,192.9 271.5,192.9 272.0,192.9 272.5,192.9 273.0,192.9 273.5,192.9 274.0,192.9 274.5,193.0 275.0,193.0 275.5,193.0 276.0,193.0 276.5,193.0 277.0,193.0" fill="none" stroke="#6c6c6c" stroke-width="0.85" stroke-opacity="1.0" stroke-linejoin="round" stroke-linecap="round"/>
<polyline points="35.0,76.5 35.5,77.9 36.0,79.8 36.5,81.8 37.0,83.7 37.5,85.5 38.0,87.1 38.5,88.7 39.0,90.1 39.5,91.5 40.0,92.8 40.5,94.0 41.0,95.2 41.5,96.3 42.0,97.3 42.5,98.2 43.0,99.0 43.5,99.7 44.0,100.4 44.5,101.0 45.0,101.5 45.5,102.0 46.0,102.5 46.5,102.9 47.0,103.3 47.5,103.6 48.0,103.9 48.5,104.2 49.0,104.5 49.5,104.7 50.0,104.9 50.5,105.1 51.0,105.3 51.5,105.4 52.0,105.6 52.5,105.8 53.0,105.9 53.5,106.0 54.0,106.2 54.5,106.3 55.0,106.4 55.5,106.4 56.0,106.5 56.5,106.6 57.0,106.6 57.5,106.7 58.0,106.7 58.5,106.8 59.0,106.8 59.5,106.8 60.0,106.9 60.5,106.9 61.0,106.9 61.5,106.9 62.0,107.0 62.5,107.0 63.0,107.0 63.5,107.1 64.0,107.1 64.5,107.2 65.0,107.3 65.5,107.3 66.0,107.4 66.5,107.5 67.0,107.6 67.5,107.7 68.0,107.9 68.5,108.0 69.0,108.1 69.5,108.3 70.0,108.4 70.5,108.6 71.0,108.7 71.5,108.9 72.0,109.0 72.5,109.2 73.0,109.3 73.5,109.5 74.0,109.7 74.5,109.9 75.0,110.1 75.5,110.4 76.0,110.7 76.5,111.0 77.0,111.3 77.5,111.7 78.0,112.1 78.5,112.6 79.0,113.1 79.5,113.6 80.0,114.1 80.5,114.7 81.0,115.3 81.5,115.9 82.0,116.5 82.5,117.2 83.0,117.9 83.5,118.6 84.0,119.3 84.5,120.0 85.0,120.7 85.5,121.4 86.0,122.1 86.5,122.9 87.0,123.6 87.5,124.2 88.0,124.9 88.5,125.5 89.0,126.0 89.5,126.5 90.0,126.9 90.5,127.3 91.0,127.6 91.5,127.9 92.0,128.1 92.5,128.4 93.0,128.6 93.5,128.8 94.0,129.0 94.5,129.2 95.0,129.4 95.5,129.5 96.0,129.7 96.5,129.8 97.0,129.9 97.5,130.0 98.0,130.0 98.5,130.0 99.0,130.0 99.5,130.0 100.0,130.0 100.5,129.9 101.0,129.8 101.5,129.6 102.0,129.4 102.5,129.2 103.0,128.9 103.5,128.5 104.0,128.1 104.5,127.6 105.0,127.1 105.5,126.6 106.0,126.0 106.5,125.5 107.0,124.9 107.5,124.3 108.0,123.7 108.5,123.1 109.0,122.4 109.5,121.7 110.0,120.9 110.5,120.1 111.0,119.2 111.5,118.3 112.0,117.4 112.5,116.4 113.0,115.5 113.5,114.6 114.0,113.7 114.5,112.8 115.0,111.9 115.5,111.0 116.0,110.2 116.5,109.3 117.0,108.5 117.5,107.6 118.0,106.8 118.5,106.1 119.0,105.3 119.5,104.6 120.0,103.8 120.5,103.1 121.0,102.4 121.5,101.7 122.0,101.0 122.5,100.3 123.0,99.6 123.5,98.9 124.0,98.2 124.5,97.5 125.0,96.8 125.5,96.1 126.0,95.4 126.5,94.8 127.0,94.1 127.5,93.4 128.0,92.8 128.5,92.1 129.0,91.4 129.5,90.8 130.0,90.2 130.5,89.5 131.0,88.9 131.5,88.3 132.0,87.7 132.5,87.1 133.0,86.5 133.5,85.9 134.0,85.3 134.5,84.8 135.0,84.2 135.5,83.7 136.0,83.2 136.5,82.7 137.0,82.1 137.5,81.6 138.0,81.2 138.5,80.7 139.0,80.3 139.5,80.0 140.0,79.7 140.5,79.5 141.0,79.3 141.5,79.2 142.0,79.1 142.5,79.0 143.0,79.0 143.5,79.0 144.0,79.0 144.5,79.1 145.0,79.2 145.5,79.4 146.0,79.5 146.5,79.7 147.0,79.9 147.5,80.1 148.0,80.4 148.5,80.6 149.0,80.9 149.5,81.3 150.0,81.6 150.5,82.0 151.0,82.4 151.5,82.9 152.0,83.4 152.5,83.9 153.0,84.5 153.5,85.1 154.0,85.8 154.5,86.6 155.0,87.4 155.5,88.3 156.0,89.1 156.5,90.1 157.0,91.0 157.5,92.0 158.0,93.0 158.5,94.0 159.0,95.0 159.5,96.0 160.0,97.1 160.5,98.1 161.0,99.2 161.5,100.3 162.0,101.4 162.5,102.6 163.0,103.8 163.5,105.0 164.0,106.2 164.5,107.4 165.0,108.6 165.5,109.8 166.0,111.1 166.5,112.2 167.0,113.4 167.5,114.6 168.0,115.8 168.5,117.0 169.0,118.3 169.5,119.5 170.0,120.8 170.5,122.1 171.0,123.5 171.5,124.9 172.0,126.4 172.5,128.0 173.0,129.6 173.5,131.2 174.0,132.9 174.5,134.5 175.0,136.2 175.5,137.8 176.0,139.4 176.5,141.0 177.0,142.6 177.5,144.1 178.0,145.6 178.5,147.1 179.0,148.5 179.5,150.0 180.0,151.4 180.5,152.8 181.0,154.2 181.5,155.6 182.0,156.9 182.5,158.3 183.0,159.5 183.5,160.8 184.0,162.0 184.5,163.2 185.0,164.3 185.5,165.4 186.0,166.4 186.5,167.5 187.0,168.5 187.5,169.6 188.0,170.7 188.5,171.7 189.0,172.8 189.5,173.8 190.0,174.8 190.5,175.8 191.0,176.7 191.5,177.5 192.0,178.4 192.5,179.1 193.0,179.9 193.5,180.6 194.0,181.2 194.5,181.8 195.0,182.4 195.5,183.0 196.0,183.5 196.5,183.9 197.0,184.4 197.5,184.7 198.0,185.1 198.5,185.4 199.0,185.7 199.5,186.0 200.0,186.3 200.5,186.5 201.0,186.7 201.5,186.9 202.0,187.2 202.5,187.3 203.0,187.5 203.5,187.7 204.0,187.9 204.5,188.0 205.0,188.2 205.5,188.3 206.0,188.4 206.5,188.6 207.0,188.7 207.5,188.8 208.0,188.9 208.5,189.0 209.0,189.1 209.5,189.2 210.0,189.3 210.5,189.4 211.0,189.4 211.5,189.5 212.0,189.6 212.5,189.7 213.0,189.7 213.5,189.8 214.0,189.9 214.5,189.9 215.0,190.0 215.5,190.1 216.0,190.1 216.5,190.2 217.0,190.2 217.5,190.3 218.0,190.3 218.5,190.3 219.0,190.4 219.5,190.4 220.0,190.5 220.5,190.5 221.0,190.6 221.5,190.6 222.0,190.6 222.5,190.7 223.0,190.7 223.5,190.8 224.0,190.8 224.5,190.8 225.0,190.9 225.5,190.9 226.0,190.9 226.5,191.0 227.0,191.0 227.5,191.0 228.0,191.1 228.5,191.1 229.0,191.1 229.5,191.2 230.0,191.2 230.5,191.2 231.0,191.3 231.5,191.3 232.0,191.3 232.5,191.4 233.0,191.4 233.5,191.4 234.0,191.4 234.5,191.5 235.0,191.5 235.5,191.5 236.0,191.6 236.5,191.6 237.0,191.6 237.5,191.6 238.0,191.7 238.5,191.7 239.0,191.7 239.5,191.7 240.0,191.8 240.5,191.8 241.0,191.8 241.5,191.8 242.0,191.9 242.5,191.9 243.0,191.9 243.5,191.9 244.0,192.0 244.5,192.0 245.0,192.0 245.5,192.0 246.0,192.0 246.5,192.1 247.0,192.1 247.5,192.1 248.0,192.1 248.5,192.1 249.0,192.2 249.5,192.2 250.0,192.2 250.5,192.2 251.0,192.2 251.5,192.3 252.0,192.3 252.5,192.3 253.0,192.3 253.5,192.3 254.0,192.3 254.5,192.4 255.0,192.4 255.5,192.4 256.0,192.4 256.5,192.4 257.0,192.5 257.5,192.5 258.0,192.5 258.5,192.5 259.0,192.5 259.5,192.5 260.0,192.6 260.5,192.6 261.0,192.6 261.5,192.6 262.0,192.6 262.5,192.6 263.0,192.7 263.5,192.7 264.0,192.7 264.5,192.7 265.0,192.7 265.5,192.7 266.0,192.7 266.5,192.8 267.0,192.8 267.5,192.8 268.0,192.8 268.5,192.8 269.0,192.8 269.5,192.8 270.0,192.8 270.5,192.9 271.0,192.9 271.5,192.9 272.0,192.9 272.5,192.9 273.0,192.9 273.5,192.9 274.0,192.9 274.5,193.0 275.0,193.0 275.5,193.0 276.0,193.0 276.5,193.0 277.0,193.0" fill="none" stroke="#6c6c6c" stroke-width="0.85" stroke-opacity="1.0" stroke-linejoin="round" stroke-linecap="round"/>
<polyline points="35.0,76.6 35.5,78.1 36.0,80.0 36.5,82.1 37.0,84.1 37.5,86.0 38.0,87.7 38.5,89.3 39.0,90.8 39.5,92.3 40.0,93.6 40.5,95.0 41.0,96.2 41.5,97.4 42.0,98.4 42.5,99.4 43.0,100.3 43.5,101.2 44.0,101.9 44.5,102.6 45.0,103.2 45.5,103.8 46.0,104.3 46.5,104.7 47.0,105.2 47.5,105.6 48.0,105.9 48.5,106.2 49.0,106.5 49.5,106.8 50.0,107.0 50.5,107.2 51.0,107.4 51.5,107.6 52.0,107.8 52.5,108.0 53.0,108.1 53.5,108.3 54.0,108.4 54.5,108.6 55.0,108.7 55.5,108.8 56.0,108.9 56.5,109.0 57.0,109.1 57.5,109.1 58.0,109.2 58.5,109.3 59.0,109.3 59.5,109.4 60.0,109.4 60.5,109.5 61.0,109.5 61.5,109.6 62.0,109.6 62.5,109.7 63.0,109.8 63.5,109.8 64.0,109.9 64.5,110.0 65.0,110.1 65.5,110.2 66.0,110.3 66.5,110.5 67.0,110.7 67.5,110.8 68.0,111.0 68.5,111.2 69.0,111.4 69.5,111.6 70.0,111.7 70.5,111.9 71.0,112.1 71.5,112.3 72.0,112.5 72.5,112.7 73.0,112.9 73.5,113.1 74.0,113.4 74.5,113.6 75.0,113.9 75.5,114.2 76.0,114.5 76.5,114.9 77.0,115.3 77.5,115.8 78.0,116.2 78.5,116.7 79.0,117.3 79.5,117.8 80.0,118.4 80.5,119.0 81.0,119.7 81.5,120.3 82.0,121.0 82.5,121.7 83.0,122.4 83.5,123.2 84.0,123.9 84.5,124.6 85.0,125.3 85.5,126.0 86.0,126.7 86.5,127.4 87.0,128.1 87.5,128.8 88.0,129.5 88.5,130.1 89.0,130.6 89.5,131.0 90.0,131.4 90.5,131.7 91.0,132.0 91.5,132.2 92.0,132.4 92.5,132.6 93.0,132.7 93.5,132.9 94.0,133.0 94.5,133.1 95.0,133.2 95.5,133.3 96.0,133.4 96.5,133.4 97.0,133.4 97.5,133.4 98.0,133.4 98.5,133.3 99.0,133.2 99.5,133.1 100.0,133.0 100.5,132.8 101.0,132.6 101.5,132.3 102.0,132.0 102.5,131.6 103.0,131.2 103.5,130.7 104.0,130.1 104.5,129.5 105.0,128.9 105.5,128.2 106.0,127.5 106.5,126.8 107.0,126.1 107.5,125.4 108.0,124.6 108.5,123.9 109.0,123.1 109.5,122.2 110.0,121.3 110.5,120.3 111.0,119.3 111.5,118.3 112.0,117.2 112.5,116.2 113.0,115.1 113.5,114.1 114.0,113.1 114.5,112.1 115.0,111.2 115.5,110.2 116.0,109.2 116.5,108.3 117.0,107.4 117.5,106.4 118.0,105.6 118.5,104.7 119.0,103.8 119.5,103.0 120.0,102.2 120.5,101.3 121.0,100.5 121.5,99.7 122.0,98.9 122.5,98.1 123.0,97.3 123.5,96.5 124.0,95.7 124.5,94.9 125.0,94.1 125.5,93.3 126.0,92.5 126.5,91.8 127.0,91.0 127.5,90.3 128.0,89.5 128.5,88.8 129.0,88.0 129.5,87.3 130.0,86.6 130.5,85.9 131.0,85.2 131.5,84.5 132.0,83.8 132.5,83.2 133.0,82.5 133.5,81.9 134.0,81.2 134.5,80.6 135.0,80.0 135.5,79.4 136.0,78.9 136.5,78.3 137.0,77.7 137.5,77.2 138.0,76.7 138.5,76.2 139.0,75.8 139.5,75.4 140.0,75.1 140.5,74.8 141.0,74.6 141.5,74.5 142.0,74.3 142.5,74.2 143.0,74.2 143.5,74.2 144.0,74.2 144.5,74.3 145.0,74.4 145.5,74.5 146.0,74.7 146.5,74.9 147.0,75.1 147.5,75.3 148.0,75.5 148.5,75.8 149.0,76.1 149.5,76.4 150.0,76.7 150.5,77.1 151.0,77.5 151.5,77.9 152.0,78.4 152.5,79.0 153.0,79.5 153.5,80.2 154.0,80.9 154.5,81.6 155.0,82.4 155.5,83.3 156.0,84.2 156.5,85.2 157.0,86.2 157.5,87.2 158.0,88.2 158.5,89.3 159.0,90.3 159.5,91.4 160.0,92.4 160.5,93.5 161.0,94.6 161.5,95.8 162.0,97.0 162.5,98.2 163.0,99.4 163.5,100.7 164.0,102.0 164.5,103.2 165.0,104.5 165.5,105.8 166.0,107.0 166.5,108.2 167.0,109.5 167.5,110.7 168.0,111.9 168.5,113.2 169.0,114.4 169.5,115.7 170.0,117.1 170.5,118.5 171.0,119.9 171.5,121.4 172.0,123.0 172.5,124.7 173.0,126.4 173.5,128.1 174.0,129.9 174.5,131.6 175.0,133.4 175.5,135.1 176.0,136.8 176.5,138.5 177.0,140.1 177.5,141.7 178.0,143.3 178.5,144.8 179.0,146.3 179.5,147.8 180.0,149.2 180.5,150.7 181.0,152.1 181.5,153.5 182.0,154.8 182.5,156.2 183.0,157.4 183.5,158.7 184.0,159.9 184.5,161.1 185.0,162.2 185.5,163.3 186.0,164.4 186.5,165.6 187.0,166.7 187.5,167.8 188.0,169.0 188.5,170.1 189.0,171.3 189.5,172.4 190.0,173.5 190.5,174.5 191.0,175.5 191.5,176.5 192.0,177.4 192.5,178.2 193.0,179.0 193.5,179.8 194.0,180.5 194.5,181.2 195.0,181.8 195.5,182.4 196.0,182.9 196.5,183.4 197.0,183.9 197.5,184.3 198.0,184.7 198.5,185.1 199.0,185.4 199.5,185.7 200.0,186.0 200.5,186.2 201.0,186.5 201.5,186.7 202.0,187.0 202.5,187.2 203.0,187.4 203.5,187.6 204.0,187.7 204.5,187.9 205.0,188.1 205.5,188.2 206.0,188.4 206.5,188.5 207.0,188.6 207.5,188.7 208.0,188.8 208.5,189.0 209.0,189.1 209.5,189.2 210.0,189.2 210.5,189.3 211.0,189.4 211.5,189.5 212.0,189.6 212.5,189.7 213.0,189.7 213.5,189.8 214.0,189.9 214.5,189.9 215.0,190.0 215.5,190.1 216.0,190.1 216.5,190.2 217.0,190.2 217.5,190.3 218.0,190.3 218.5,190.4 219.0,190.4 219.5,190.4 220.0,190.5 220.5,190.5 221.0,190.6 221.5,190.6 222.0,190.7 222.5,190.7 223.0,190.7 223.5,190.8 224.0,190.8 224.5,190.8 225.0,190.9 225.5,190.9 226.0,190.9 226.5,191.0 227.0,191.0 227.5,191.0 228.0,191.1 228.5,191.1 229.0,191.1 229.5,191.2 230.0,191.2 230.5,191.2 231.0,191.3 231.5,191.3 232.0,191.3 232.5,191.4 233.0,191.4 233.5,191.4 234.0,191.4 234.5,191.5 235.0,191.5 235.5,191.5 236.0,191.6 236.5,191.6 237.0,191.6 237.5,191.6 238.0,191.7 238.5,191.7 239.0,191.7 239.5,191.7 240.0,191.8 240.5,191.8 241.0,191.8 241.5,191.8 242.0,191.9 242.5,191.9 243.0,191.9 243.5,191.9 244.0,192.0 244.5,192.0 245.0,192.0 245.5,192.0 246.0,192.0 246.5,192.1 247.0,192.1 247.5,192.1 248.0,192.1 248.5,192.1 249.0,192.2 249.5,192.2 250.0,192.2 250.5,192.2 251.0,192.2 251.5,192.3 252.0,192.3 252.5,192.3 253.0,192.3 253.5,192.3 254.0,192.3 254.5,192.4 255.0,192.4 255.5,192.4 256.0,192.4 256.5,192.4 257.0,192.5 257.5,192.5 258.0,192.5 258.5,192.5 259.0,192.5 259.5,192.5 260.0,192.6 260.5,192.6 261.0,192.6 261.5,192.6 262.0,192.6 262.5,192.6 263.0,192.7 263.5,192.7 264.0,192.7 264.5,192.7 265.0,192.7 265.5,192.7 266.0,192.7 266.5,192.8 267.0,192.8 267.5,192.8 268.0,192.8 268.5,192.8 269.0,192.8 269.5,192.8 270.0,192.8 270.5,192.9 271.0,192.9 271.5,192.9 272.0,192.9 272.5,192.9 273.0,192.9 273.5,192.9 274.0,192.9 274.5,193.0 275.0,193.0 275.5,193.0 276.0,193.0 276.5,193.0 277.0,193.0" fill="none" stroke="#6c6c6c" stroke-width="0.85" stroke-opacity="1.0" stroke-linejoin="round" stroke-linecap="round"/>
<polyline points="35.0,76.7 35.5,78.3 36.0,80.3 36.5,82.4 37.0,84.5 37.5,86.5 38.0,88.3 38.5,89.9 39.0,91.5 39.5,93.0 40.0,94.5 40.5,95.9 41.0,97.2 41.5,98.5 42.0,99.6 42.5,100.7 43.0,101.7 43.5,102.6 44.0,103.4 44.5,104.2 45.0,104.9 45.5,105.5 46.0,106.1 46.5,106.6 47.0,107.1 47.5,107.5 48.0,107.9 48.5,108.2 49.0,108.6 49.5,108.8 50.0,109.1 50.5,109.4 51.0,109.6 51.5,109.8 52.0,110.0 52.5,110.2 53.0,110.4 53.5,110.6 54.0,110.7 54.5,110.9 55.0,111.0 55.5,111.2 56.0,111.3 56.5,111.4 57.0,111.5 57.5,111.6 58.0,111.7 58.5,111.7 59.0,111.8 59.5,111.9 60.0,112.0 60.5,112.0 61.0,112.1 61.5,112.2 62.0,112.3 62.5,112.4 63.0,112.5 63.5,112.6 64.0,112.7 64.5,112.8 65.0,112.9 65.5,113.1 66.0,113.3 66.5,113.5 67.0,113.7 67.5,113.9 68.0,114.1 68.5,114.4 69.0,114.6 69.5,114.8 70.0,115.1 70.5,115.3 71.0,115.5 71.5,115.8 72.0,116.0 72.5,116.2 73.0,116.5 73.5,116.7 74.0,117.0 74.5,117.3 75.0,117.6 75.5,118.0 76.0,118.4 76.5,118.9 77.0,119.3 77.5,119.8 78.0,120.4 78.5,120.9 79.0,121.5 79.5,122.1 80.0,122.7 80.5,123.4 81.0,124.0 81.5,124.7 82.0,125.5 82.5,126.2 83.0,127.0 83.5,127.7 84.0,128.5 84.5,129.2 85.0,129.9 85.5,130.6 86.0,131.3 86.5,132.0 87.0,132.7 87.5,133.4 88.0,134.1 88.5,134.6 89.0,135.1 89.5,135.6 90.0,135.9 90.5,136.2 91.0,136.4 91.5,136.5 92.0,136.7 92.5,136.8 93.0,136.8 93.5,136.9 94.0,137.0 94.5,137.0 95.0,137.0 95.5,137.1 96.0,137.1 96.5,137.0 97.0,137.0 97.5,136.9 98.0,136.7 98.5,136.6 99.0,136.4 99.5,136.2 100.0,136.0 100.5,135.7 101.0,135.4 101.5,135.0 102.0,134.6 102.5,134.1 103.0,133.5 103.5,132.9 104.0,132.2 104.5,131.5 105.0,130.7 105.5,129.9 106.0,129.0 106.5,128.2 107.0,127.3 107.5,126.4 108.0,125.6 108.5,124.6 109.0,123.7 109.5,122.7 110.0,121.6 110.5,120.5 111.0,119.4 111.5,118.2 112.0,117.1 112.5,115.9 113.0,114.8 113.5,113.7 114.0,112.6 114.5,111.5 115.0,110.4 115.5,109.4 116.0,108.3 116.5,107.3 117.0,106.3 117.5,105.3 118.0,104.3 118.5,103.3 119.0,102.3 119.5,101.4 120.0,100.5 120.5,99.5 121.0,98.6 121.5,97.7 122.0,96.8 122.5,95.9 123.0,95.0 123.5,94.1 124.0,93.2 124.5,92.3 125.0,91.4 125.5,90.5 126.0,89.7 126.5,88.8 127.0,87.9 127.5,87.1 128.0,86.3 128.5,85.5 129.0,84.7 129.5,83.9 130.0,83.1 130.5,82.3 131.0,81.5 131.5,80.7 132.0,80.0 132.5,79.3 133.0,78.5 133.5,77.8 134.0,77.1 134.5,76.5 135.0,75.8 135.5,75.2 136.0,74.5 136.5,73.9 137.0,73.3 137.5,72.7 138.0,72.1 138.5,71.6 139.0,71.2 139.5,70.8 140.0,70.5 140.5,70.2 141.0,69.9 141.5,69.7 142.0,69.6 142.5,69.4 143.0,69.4 143.5,69.4 144.0,69.4 144.5,69.5 145.0,69.6 145.5,69.7 146.0,69.8 146.5,70.0 147.0,70.2 147.5,70.4 148.0,70.6 148.5,70.9 149.0,71.2 149.5,71.5 150.0,71.8 150.5,72.2 151.0,72.6 151.5,73.0 152.0,73.5 152.5,74.0 153.0,74.6 153.5,75.2 154.0,75.9 154.5,76.7 155.0,77.5 155.5,78.4 156.0,79.3 156.5,80.3 157.0,81.3 157.5,82.4 158.0,83.4 158.5,84.5 159.0,85.6 159.5,86.7 160.0,87.8 160.5,88.9 161.0,90.1 161.5,91.3 162.0,92.5 162.5,93.8 163.0,95.1 163.5,96.4 164.0,97.7 164.5,99.0 165.0,100.4 165.5,101.7 166.0,102.9 166.5,104.2 167.0,105.5 167.5,106.8 168.0,108.0 168.5,109.3 169.0,110.6 169.5,112.0 170.0,113.4 170.5,114.8 171.0,116.3 171.5,117.9 172.0,119.6 172.5,121.3 173.0,123.1 173.5,125.0 174.0,126.9 174.5,128.8 175.0,130.6 175.5,132.5 176.0,134.3 176.5,136.0 177.0,137.7 177.5,139.3 178.0,140.9 178.5,142.5 179.0,144.1 179.5,145.6 180.0,147.1 180.5,148.6 181.0,150.0 181.5,151.4 182.0,152.7 182.5,154.1 183.0,155.3 183.5,156.6 184.0,157.8 184.5,159.0 185.0,160.1 185.5,161.3 186.0,162.5 186.5,163.6 187.0,164.8 187.5,166.0 188.0,167.3 188.5,168.5 189.0,169.7 189.5,171.0 190.0,172.2 190.5,173.3 191.0,174.4 191.5,175.4 192.0,176.4 192.5,177.3 193.0,178.2 193.5,179.0 194.0,179.7 194.5,180.5 195.0,181.1 195.5,181.8 196.0,182.4 196.5,182.9 197.0,183.4 197.5,183.9 198.0,184.3 198.5,184.7 199.0,185.0 199.5,185.4 200.0,185.7 200.5,186.0 201.0,186.3 201.5,186.5 202.0,186.8 202.5,187.0 203.0,187.2 203.5,187.4 204.0,187.6 204.5,187.8 205.0,188.0 205.5,188.1 206.0,188.3 206.5,188.4 207.0,188.6 207.5,188.7 208.0,188.8 208.5,188.9 209.0,189.0 209.5,189.1 210.0,189.2 210.5,189.3 211.0,189.4 211.5,189.5 212.0,189.6 212.5,189.7 213.0,189.7 213.5,189.8 214.0,189.9 214.5,189.9 215.0,190.0 215.5,190.1 216.0,190.1 216.5,190.2 217.0,190.2 217.5,190.3 218.0,190.3 218.5,190.4 219.0,190.4 219.5,190.4 220.0,190.5 220.5,190.5 221.0,190.6 221.5,190.6 222.0,190.7 222.5,190.7 223.0,190.7 223.5,190.8 224.0,190.8 224.5,190.8 225.0,190.9 225.5,190.9 226.0,190.9 226.5,191.0 227.0,191.0 227.5,191.0 228.0,191.1 228.5,191.1 229.0,191.1 229.5,191.2 230.0,191.2 230.5,191.2 231.0,191.3 231.5,191.3 232.0,191.3 232.5,191.4 233.0,191.4 233.5,191.4 234.0,191.4 234.5,191.5 235.0,191.5 235.5,191.5 236.0,191.6 236.5,191.6 237.0,191.6 237.5,191.6 238.0,191.7 238.5,191.7 239.0,191.7 239.5,191.7 240.0,191.8 240.5,191.8 241.0,191.8 241.5,191.8 242.0,191.9 242.5,191.9 243.0,191.9 243.5,191.9 244.0,192.0 244.5,192.0 245.0,192.0 245.5,192.0 246.0,192.0 246.5,192.1 247.0,192.1 247.5,192.1 248.0,192.1 248.5,192.1 249.0,192.2 249.5,192.2 250.0,192.2 250.5,192.2 251.0,192.2 251.5,192.3 252.0,192.3 252.5,192.3 253.0,192.3 253.5,192.3 254.0,192.3 254.5,192.4 255.0,192.4 255.5,192.4 256.0,192.4 256.5,192.4 257.0,192.5 257.5,192.5 258.0,192.5 258.5,192.5 259.0,192.5 259.5,192.5 260.0,192.6 260.5,192.6 261.0,192.6 261.5,192.6 262.0,192.6 262.5,192.6 263.0,192.7 263.5,192.7 264.0,192.7 264.5,192.7 265.0,192.7 265.5,192.7 266.0,192.7 266.5,192.8 267.0,192.8 267.5,192.8 268.0,192.8 268.5,192.8 269.0,192.8 269.5,192.8 270.0,192.8 270.5,192.9 271.0,192.9 271.5,192.9 272.0,192.9 272.5,192.9 273.0,192.9 273.5,192.9 274.0,192.9 274.5,193.0 275.0,193.0 275.5,193.0 276.0,193.0 276.5,193.0 277.0,193.0" fill="none" stroke="#6c6c6c" stroke-width="0.85" stroke-opacity="1.0" stroke-linejoin="round" stroke-linecap="round"/>
<polyline points="35.0,76.7 35.5,78.4 36.0,80.5 36.5,82.7 37.0,84.9 37.5,86.9 38.0,88.8 38.5,90.5 39.0,92.1 39.5,93.7 40.0,95.2 40.5,96.7 41.0,98.1 41.5,99.4 42.0,100.6 42.5,101.8 43.0,102.9 43.5,103.9 44.0,104.8 44.5,105.6 45.0,106.3 45.5,107.0 46.0,107.6 46.5,108.2 47.0,108.7 47.5,109.2 48.0,109.6 48.5,110.0 49.0,110.3 49.5,110.7 50.0,111.0 50.5,111.2 51.0,111.5 51.5,111.7 52.0,112.0 52.5,112.2 53.0,112.4 53.5,112.6 54.0,112.7 54.5,112.9 55.0,113.1 55.5,113.2 56.0,113.4 56.5,113.5 57.0,113.6 57.5,113.7 58.0,113.8 58.5,113.9 59.0,114.0 59.5,114.1 60.0,114.2 60.5,114.3 61.0,114.4 61.5,114.5 62.0,114.6 62.5,114.7 63.0,114.8 63.5,115.0 64.0,115.1 64.5,115.3 65.0,115.4 65.5,115.6 66.0,115.8 66.5,116.1 67.0,116.3 67.5,116.6 68.0,116.9 68.5,117.1 69.0,117.4 69.5,117.7 70.0,118.0 70.5,118.2 71.0,118.5 71.5,118.8 72.0,119.0 72.5,119.3 73.0,119.6 73.5,119.9 74.0,120.2 74.5,120.6 75.0,120.9 75.5,121.4 76.0,121.8 76.5,122.3 77.0,122.8 77.5,123.4 78.0,124.0 78.5,124.6 79.0,125.2 79.5,125.8 80.0,126.5 80.5,127.2 81.0,127.9 81.5,128.6 82.0,129.4 82.5,130.2 83.0,130.9 83.5,131.7 84.0,132.5 84.5,133.2 85.0,133.9 85.5,134.6 86.0,135.4 86.5,136.1 87.0,136.8 87.5,137.4 88.0,138.1 88.5,138.7 89.0,139.1 89.5,139.5 90.0,139.9 90.5,140.1 91.0,140.2 91.5,140.3 92.0,140.4 92.5,140.4 93.0,140.5 93.5,140.5 94.0,140.5 94.5,140.4 95.0,140.4 95.5,140.4 96.0,140.3 96.5,140.2 97.0,140.1 97.5,139.9 98.0,139.7 98.5,139.5 99.0,139.2 99.5,138.9 100.0,138.6 100.5,138.2 101.0,137.8 101.5,137.4 102.0,136.9 102.5,136.3 103.0,135.6 103.5,134.8 104.0,134.0 104.5,133.1 105.0,132.2 105.5,131.3 106.0,130.3 106.5,129.3 107.0,128.4 107.5,127.4 108.0,126.4 108.5,125.3 109.0,124.2 109.5,123.1 110.0,121.9 110.5,120.7 111.0,119.4 111.5,118.2 112.0,116.9 112.5,115.7 113.0,114.5 113.5,113.3 114.0,112.1 114.5,110.9 115.0,109.8 115.5,108.6 116.0,107.5 116.5,106.4 117.0,105.3 117.5,104.2 118.0,103.1 118.5,102.1 119.0,101.0 119.5,100.0 120.0,99.0 120.5,98.0 121.0,97.0 121.5,96.0 122.0,95.0 122.5,94.0 123.0,93.0 123.5,92.0 124.0,91.0 124.5,90.0 125.0,89.0 125.5,88.1 126.0,87.1 126.5,86.2 127.0,85.2 127.5,84.3 128.0,83.4 128.5,82.5 129.0,81.7 129.5,80.8 130.0,80.0 130.5,79.1 131.0,78.3 131.5,77.5 132.0,76.6 132.5,75.8 133.0,75.1 133.5,74.3 134.0,73.6 134.5,72.8 135.0,72.1 135.5,71.4 136.0,70.8 136.5,70.1 137.0,69.4 137.5,68.8 138.0,68.2 138.5,67.6 139.0,67.2 139.5,66.8 140.0,66.4 140.5,66.1 141.0,65.8 141.5,65.6 142.0,65.4 142.5,65.3 143.0,65.2 143.5,65.1 144.0,65.2 144.5,65.2 145.0,65.3 145.5,65.4 146.0,65.6 146.5,65.8 147.0,65.9 147.5,66.1 148.0,66.4 148.5,66.6 149.0,66.9 149.5,67.2 150.0,67.5 150.5,67.9 151.0,68.3 151.5,68.7 152.0,69.2 152.5,69.7 153.0,70.3 153.5,70.9 154.0,71.6 154.5,72.3 155.0,73.2 155.5,74.1 156.0,75.0 156.5,76.0 157.0,77.1 157.5,78.1 158.0,79.2 158.5,80.4 159.0,81.5 159.5,82.6 160.0,83.7 160.5,84.9 161.0,86.1 161.5,87.4 162.0,88.6 162.5,90.0 163.0,91.3 163.5,92.6 164.0,94.0 164.5,95.4 165.0,96.7 165.5,98.1 166.0,99.4 166.5,100.7 167.0,102.0 167.5,103.3 168.0,104.6 168.5,105.9 169.0,107.3 169.5,108.7 170.0,110.1 170.5,111.6 171.0,113.2 171.5,114.8 172.0,116.6 172.5,118.4 173.0,120.3 173.5,122.3 174.0,124.3 174.5,126.2 175.0,128.2 175.5,130.1 176.0,132.0 176.5,133.8 177.0,135.5 177.5,137.2 178.0,138.9 178.5,140.5 179.0,142.1 179.5,143.7 180.0,145.2 180.5,146.7 181.0,148.1 181.5,149.5 182.0,150.9 182.5,152.2 183.0,153.5 183.5,154.7 184.0,155.9 184.5,157.1 185.0,158.3 185.5,159.5 186.0,160.7 186.5,161.9 187.0,163.2 187.5,164.5 188.0,165.8 188.5,167.1 189.0,168.4 189.5,169.7 190.0,171.0 190.5,172.2 191.0,173.4 191.5,174.5 192.0,175.6 192.5,176.5 193.0,177.4 193.5,178.3 194.0,179.1 194.5,179.9 195.0,180.6 195.5,181.2 196.0,181.9 196.5,182.5 197.0,183.0 197.5,183.5 198.0,184.0 198.5,184.4 199.0,184.8 199.5,185.1 200.0,185.4 200.5,185.8 201.0,186.1 201.5,186.3 202.0,186.6 202.5,186.8 203.0,187.1 203.5,187.3 204.0,187.5 204.5,187.7 205.0,187.9 205.5,188.0 206.0,188.2 206.5,188.4 207.0,188.5 207.5,188.6 208.0,188.8 208.5,188.9 209.0,189.0 209.5,189.1 210.0,189.2 210.5,189.3 211.0,189.4 211.5,189.5 212.0,189.6 212.5,189.6 213.0,189.7 213.5,189.8 214.0,189.9 214.5,189.9 215.0,190.0 215.5,190.1 216.0,190.1 216.5,190.2 217.0,190.2 217.5,190.3 218.0,190.3 218.5,190.4 219.0,190.4 219.5,190.5 220.0,190.5 220.5,190.5 221.0,190.6 221.5,190.6 222.0,190.7 222.5,190.7 223.0,190.7 223.5,190.8 224.0,190.8 224.5,190.8 225.0,190.9 225.5,190.9 226.0,190.9 226.5,191.0 227.0,191.0 227.5,191.0 228.0,191.1 228.5,191.1 229.0,191.1 229.5,191.2 230.0,191.2 230.5,191.2 231.0,191.3 231.5,191.3 232.0,191.3 232.5,191.4 233.0,191.4 233.5,191.4 234.0,191.4 234.5,191.5 235.0,191.5 235.5,191.5 236.0,191.6 236.5,191.6 237.0,191.6 237.5,191.6 238.0,191.7 238.5,191.7 239.0,191.7 239.5,191.7 240.0,191.8 240.5,191.8 241.0,191.8 241.5,191.8 242.0,191.9 242.5,191.9 243.0,191.9 243.5,191.9 244.0,192.0 244.5,192.0 245.0,192.0 245.5,192.0 246.0,192.0 246.5,192.1 247.0,192.1 247.5,192.1 248.0,192.1 248.5,192.1 249.0,192.2 249.5,192.2 250.0,192.2 250.5,192.2 251.0,192.2 251.5,192.3 252.0,192.3 252.5,192.3 253.0,192.3 253.5,192.3 254.0,192.3 254.5,192.4 255.0,192.4 255.5,192.4 256.0,192.4 256.5,192.4 257.0,192.5 257.5,192.5 258.0,192.5 258.5,192.5 259.0,192.5 259.5,192.5 260.0,192.6 260.5,192.6 261.0,192.6 261.5,192.6 262.0,192.6 262.5,192.6 263.0,192.7 263.5,192.7 264.0,192.7 264.5,192.7 265.0,192.7 265.5,192.7 266.0,192.7 266.5,192.8 267.0,192.8 267.5,192.8 268.0,192.8 268.5,192.8 269.0,192.8 269.5,192.8 270.0,192.8 270.5,192.9 271.0,192.9 271.5,192.9 272.0,192.9 272.5,192.9 273.0,192.9 273.5,192.9 274.0,192.9 274.5,193.0 275.0,193.0 275.5,193.0 276.0,193.0 276.5,193.0 277.0,193.0" fill="none" stroke="#6c6c6c" stroke-width="0.85" stroke-opacity="1.0" stroke-linejoin="round" stroke-linecap="round"/>
<polyline points="35.0,76.8 35.5,78.6 36.0,80.8 36.5,83.2 37.0,85.5 37.5,87.6 38.0,89.5 38.5,91.3 39.0,93.0 39.5,94.6 40.0,96.2 40.5,97.8 41.0,99.3 41.5,100.8 42.0,102.1 42.5,103.4 43.0,104.6 43.5,105.7 44.0,106.7 44.5,107.6 45.0,108.4 45.5,109.1 46.0,109.8 46.5,110.5 47.0,111.1 47.5,111.6 48.0,112.1 48.5,112.5 49.0,112.9 49.5,113.2 50.0,113.6 50.5,113.9 51.0,114.2 51.5,114.4 52.0,114.7 52.5,114.9 53.0,115.2 53.5,115.4 54.0,115.6 54.5,115.8 55.0,116.0 55.5,116.2 56.0,116.3 56.5,116.5 57.0,116.6 57.5,116.8 58.0,116.9 58.5,117.0 59.0,117.2 59.5,117.3 60.0,117.4 60.5,117.5 61.0,117.6 61.5,117.8 62.0,117.9 62.5,118.0 63.0,118.2 63.5,118.4 64.0,118.5 64.5,118.8 65.0,119.0 65.5,119.2 66.0,119.5 66.5,119.8 67.0,120.1 67.5,120.4 68.0,120.8 68.5,121.1 69.0,121.4 69.5,121.8 70.0,122.1 70.5,122.4 71.0,122.7 71.5,123.1 72.0,123.4 72.5,123.7 73.0,124.1 73.5,124.4 74.0,124.8 74.5,125.2 75.0,125.6 75.5,126.1 76.0,126.6 76.5,127.2 77.0,127.8 77.5,128.4 78.0,129.1 78.5,129.7 79.0,130.4 79.5,131.1 80.0,131.8 80.5,132.6 81.0,133.4 81.5,134.1 82.0,135.0 82.5,135.8 83.0,136.6 83.5,137.4 84.0,138.2 84.5,138.9 85.0,139.6 85.5,140.4 86.0,141.1 86.5,141.8 87.0,142.5 87.5,143.2 88.0,143.8 88.5,144.4 89.0,144.8 89.5,145.2 90.0,145.5 90.5,145.6 91.0,145.7 91.5,145.7 92.0,145.7 92.5,145.6 93.0,145.6 93.5,145.5 94.0,145.4 94.5,145.3 95.0,145.2 95.5,145.1 96.0,144.9 96.5,144.7 97.0,144.5 97.5,144.2 98.0,143.9 98.5,143.5 99.0,143.2 99.5,142.8 100.0,142.3 100.5,141.8 101.0,141.3 101.5,140.7 102.0,140.1 102.5,139.3 103.0,138.5 103.5,137.6 104.0,136.6 104.5,135.5 105.0,134.4 105.5,133.3 106.0,132.2 106.5,131.0 107.0,129.9 107.5,128.7 108.0,127.5 108.5,126.3 109.0,125.0 109.5,123.7 110.0,122.3 110.5,120.9 111.0,119.6 111.5,118.2 112.0,116.8 112.5,115.4 113.0,114.0 113.5,112.7 114.0,111.4 114.5,110.1 115.0,108.8 115.5,107.6 116.0,106.3 116.5,105.1 117.0,103.9 117.5,102.7 118.0,101.5 118.5,100.4 119.0,99.2 119.5,98.0 120.0,96.9 120.5,95.7 121.0,94.6 121.5,93.5 122.0,92.4 122.5,91.2 123.0,90.1 123.5,89.0 124.0,87.9 124.5,86.8 125.0,85.7 125.5,84.6 126.0,83.5 126.5,82.5 127.0,81.4 127.5,80.4 128.0,79.4 128.5,78.4 129.0,77.4 129.5,76.5 130.0,75.5 130.5,74.6 131.0,73.7 131.5,72.8 132.0,71.9 132.5,71.0 133.0,70.1 133.5,69.3 134.0,68.5 134.5,67.7 135.0,66.9 135.5,66.1 136.0,65.4 136.5,64.6 137.0,63.9 137.5,63.2 138.0,62.6 138.5,62.0 139.0,61.5 139.5,61.0 140.0,60.6 140.5,60.3 141.0,60.0 141.5,59.7 142.0,59.5 142.5,59.3 143.0,59.2 143.5,59.1 144.0,59.1 144.5,59.2 145.0,59.3 145.5,59.4 146.0,59.6 146.5,59.7 147.0,59.9 147.5,60.1 148.0,60.3 148.5,60.5 149.0,60.8 149.5,61.1 150.0,61.4 150.5,61.8 151.0,62.2 151.5,62.6 152.0,63.1 152.5,63.6 153.0,64.1 153.5,64.7 154.0,65.4 154.5,66.2 155.0,67.0 155.5,67.9 156.0,68.9 156.5,69.9 157.0,71.0 157.5,72.1 158.0,73.3 158.5,74.4 159.0,75.6 159.5,76.8 160.0,78.0 160.5,79.2 161.0,80.5 161.5,81.8 162.0,83.1 162.5,84.5 163.0,85.9 163.5,87.3 164.0,88.7 164.5,90.1 165.0,91.6 165.5,93.0 166.0,94.3 166.5,95.7 167.0,97.1 167.5,98.4 168.0,99.8 168.5,101.1 169.0,102.5 169.5,104.0 170.0,105.5 170.5,107.0 171.0,108.7 171.5,110.4 172.0,112.3 172.5,114.3 173.0,116.3 173.5,118.4 174.0,120.5 174.5,122.7 175.0,124.8 175.5,126.8 176.0,128.8 176.5,130.7 177.0,132.5 177.5,134.3 178.0,136.0 178.5,137.7 179.0,139.3 179.5,141.0 180.0,142.5 180.5,144.0 181.0,145.5 181.5,146.9 182.0,148.3 182.5,149.6 183.0,150.9 183.5,152.1 184.0,153.3 184.5,154.5 185.0,155.8 185.5,157.0 186.0,158.2 186.5,159.5 187.0,160.9 187.5,162.2 188.0,163.6 188.5,165.1 189.0,166.5 189.5,168.0 190.0,169.4 190.5,170.7 191.0,172.0 191.5,173.2 192.0,174.3 192.5,175.4 193.0,176.4 193.5,177.3 194.0,178.2 194.5,179.0 195.0,179.8 195.5,180.5 196.0,181.2 196.5,181.8 197.0,182.4 197.5,183.0 198.0,183.5 198.5,183.9 199.0,184.3 199.5,184.7 200.0,185.1 200.5,185.4 201.0,185.8 201.5,186.1 202.0,186.3 202.5,186.6 203.0,186.9 203.5,187.1 204.0,187.3 204.5,187.5 205.0,187.7 205.5,187.9 206.0,188.1 206.5,188.3 207.0,188.4 207.5,188.6 208.0,188.7 208.5,188.8 209.0,188.9 209.5,189.0 210.0,189.2 210.5,189.3 211.0,189.4 211.5,189.5 212.0,189.5 212.5,189.6 213.0,189.7 213.5,189.8 214.0,189.9 214.5,189.9 215.0,190.0 215.5,190.1 216.0,190.1 216.5,190.2 217.0,190.2 217.5,190.3 218.0,190.3 218.5,190.4 219.0,190.4 219.5,190.5 220.0,190.5 220.5,190.5 221.0,190.6 221.5,190.6 222.0,190.7 222.5,190.7 223.0,190.7 223.5,190.8 224.0,190.8 224.5,190.8 225.0,190.9 225.5,190.9 226.0,190.9 226.5,191.0 227.0,191.0 227.5,191.0 228.0,191.1 228.5,191.1 229.0,191.1 229.5,191.2 230.0,191.2 230.5,191.2 231.0,191.3 231.5,191.3 232.0,191.3 232.5,191.4 233.0,191.4 233.5,191.4 234.0,191.4 234.5,191.5 235.0,191.5 235.5,191.5 236.0,191.6 236.5,191.6 237.0,191.6 237.5,191.6 238.0,191.7 238.5,191.7 239.0,191.7 239.5,191.7 240.0,191.8 240.5,191.8 241.0,191.8 241.5,191.8 242.0,191.9 242.5,191.9 243.0,191.9 243.5,191.9 244.0,192.0 244.5,192.0 245.0,192.0 245.5,192.0 246.0,192.0 246.5,192.1 247.0,192.1 247.5,192.1 248.0,192.1 248.5,192.1 249.0,192.2 249.5,192.2 250.0,192.2 250.5,192.2 251.0,192.2 251.5,192.3 252.0,192.3 252.5,192.3 253.0,192.3 253.5,192.3 254.0,192.3 254.5,192.4 255.0,192.4 255.5,192.4 256.0,192.4 256.5,192.4 257.0,192.5 257.5,192.5 258.0,192.5 258.5,192.5 259.0,192.5 259.5,192.5 260.0,192.6 260.5,192.6 261.0,192.6 261.5,192.6 262.0,192.6 262.5,192.6 263.0,192.7 263.5,192.7 264.0,192.7 264.5,192.7 265.0,192.7 265.5,192.7 266.0,192.7 266.5,192.8 267.0,192.8 267.5,192.8 268.0,192.8 268.5,192.8 269.0,192.8 269.5,192.8 270.0,192.8 270.5,192.9 271.0,192.9 271.5,192.9 272.0,192.9 272.5,192.9 273.0,192.9 273.5,192.9 274.0,192.9 274.5,193.0 275.0,193.0 275.5,193.0 276.0,193.0 276.5,193.0 277.0,193.0" fill="none" stroke="#6c6c6c" stroke-width="0.85" stroke-opacity="1.0" stroke-linejoin="round" stroke-linecap="round"/>
<polyline points="35.0,76.9 35.5,78.7 36.0,80.9 36.5,83.4 37.0,85.7 37.5,87.8 38.0,89.8 38.5,91.6 39.0,93.3 39.5,95.0 40.0,96.7 40.5,98.3 41.0,99.8 41.5,101.3 42.0,102.7 42.5,104.0 43.0,105.3 43.5,106.4 44.0,107.4 44.5,108.4 45.0,109.2 45.5,110.0 46.0,110.7 46.5,111.4 47.0,112.0 47.5,112.6 48.0,113.1 48.5,113.5 49.0,113.9 49.5,114.3 50.0,114.6 50.5,115.0 51.0,115.3 51.5,115.6 52.0,115.8 52.5,116.1 53.0,116.3 53.5,116.6 54.0,116.8 54.5,117.0 55.0,117.2 55.5,117.4 56.0,117.6 56.5,117.7 57.0,117.9 57.5,118.0 58.0,118.2 58.5,118.3 59.0,118.4 59.5,118.6 60.0,118.7 60.5,118.8 61.0,119.0 61.5,119.1 62.0,119.2 62.5,119.4 63.0,119.6 63.5,119.8 64.0,120.0 64.5,120.2 65.0,120.4 65.5,120.7 66.0,121.0 66.5,121.3 67.0,121.6 67.5,122.0 68.0,122.3 68.5,122.7 69.0,123.1 69.5,123.4 70.0,123.8 70.5,124.1 71.0,124.5 71.5,124.8 72.0,125.2 72.5,125.5 73.0,125.9 73.5,126.3 74.0,126.7 74.5,127.1 75.0,127.6 75.5,128.1 76.0,128.6 76.5,129.2 77.0,129.8 77.5,130.5 78.0,131.2 78.5,131.9 79.0,132.6 79.5,133.3 80.0,134.0 80.5,134.8 81.0,135.6 81.5,136.4 82.0,137.2 82.5,138.1 83.0,138.9 83.5,139.7 84.0,140.5 84.5,141.3 85.0,142.0 85.5,142.7 86.0,143.4 86.5,144.1 87.0,144.8 87.5,145.5 88.0,146.1 88.5,146.7 89.0,147.1 89.5,147.5 90.0,147.7 90.5,147.9 91.0,147.9 91.5,147.9 92.0,147.9 92.5,147.8 93.0,147.7 93.5,147.6 94.0,147.4 94.5,147.3 95.0,147.1 95.5,147.0 96.0,146.8 96.5,146.5 97.0,146.3 97.5,146.0 98.0,145.6 98.5,145.2 99.0,144.8 99.5,144.3 100.0,143.8 100.5,143.3 101.0,142.7 101.5,142.1 102.0,141.4 102.5,140.6 103.0,139.7 103.5,138.7 104.0,137.6 104.5,136.5 105.0,135.4 105.5,134.2 106.0,132.9 106.5,131.7 107.0,130.5 107.5,129.2 108.0,128.0 108.5,126.6 109.0,125.3 109.5,123.9 110.0,122.5 110.5,121.1 111.0,119.6 111.5,118.1 112.0,116.7 112.5,115.2 113.0,113.8 113.5,112.4 114.0,111.1 114.5,109.7 115.0,108.4 115.5,107.1 116.0,105.9 116.5,104.6 117.0,103.4 117.5,102.1 118.0,100.9 118.5,99.7 119.0,98.4 119.5,97.2 120.0,96.0 120.5,94.8 121.0,93.7 121.5,92.5 122.0,91.3 122.5,90.1 123.0,88.9 123.5,87.8 124.0,86.6 124.5,85.4 125.0,84.3 125.5,83.2 126.0,82.0 126.5,80.9 127.0,79.9 127.5,78.8 128.0,77.7 128.5,76.7 129.0,75.7 129.5,74.7 130.0,73.7 130.5,72.8 131.0,71.8 131.5,70.9 132.0,69.9 132.5,69.0 133.0,68.1 133.5,67.2 134.0,66.4 134.5,65.6 135.0,64.8 135.5,64.0 136.0,63.2 136.5,62.4 137.0,61.7 137.5,61.0 138.0,60.3 138.5,59.7 139.0,59.1 139.5,58.7 140.0,58.3 140.5,57.9 141.0,57.6 141.5,57.3 142.0,57.1 142.5,56.9 143.0,56.7 143.5,56.7 144.0,56.7 144.5,56.7 145.0,56.8 145.5,56.9 146.0,57.1 146.5,57.3 147.0,57.4 147.5,57.6 148.0,57.8 148.5,58.1 149.0,58.3 149.5,58.6 150.0,59.0 150.5,59.3 151.0,59.7 151.5,60.1 152.0,60.6 152.5,61.1 153.0,61.6 153.5,62.2 154.0,62.9 154.5,63.6 155.0,64.5 155.5,65.4 156.0,66.4 156.5,67.5 157.0,68.6 157.5,69.7 158.0,70.8 158.5,72.0 159.0,73.2 159.5,74.4 160.0,75.6 160.5,76.9 161.0,78.2 161.5,79.5 162.0,80.8 162.5,82.2 163.0,83.7 163.5,85.1 164.0,86.6 164.5,88.0 165.0,89.5 165.5,90.9 166.0,92.3 166.5,93.7 167.0,95.0 167.5,96.4 168.0,97.8 168.5,99.2 169.0,100.6 169.5,102.0 170.0,103.6 170.5,105.2 171.0,106.9 171.5,108.6 172.0,110.6 172.5,112.6 173.0,114.7 173.5,116.8 174.0,119.0 174.5,121.2 175.0,123.3 175.5,125.4 176.0,127.5 176.5,129.4 177.0,131.3 177.5,133.1 178.0,134.8 178.5,136.5 179.0,138.2 179.5,139.8 180.0,141.4 180.5,143.0 181.0,144.4 181.5,145.8 182.0,147.2 182.5,148.5 183.0,149.8 183.5,151.0 184.0,152.3 184.5,153.5 185.0,154.7 185.5,155.9 186.0,157.2 186.5,158.5 187.0,159.9 187.5,161.3 188.0,162.8 188.5,164.3 189.0,165.8 189.5,167.3 190.0,168.7 190.5,170.1 191.0,171.4 191.5,172.7 192.0,173.8 192.5,174.9 193.0,175.9 193.5,176.9 194.0,177.8 194.5,178.6 195.0,179.4 195.5,180.2 196.0,180.9 196.5,181.6 197.0,182.2 197.5,182.7 198.0,183.3 198.5,183.7 199.0,184.2 199.5,184.6 200.0,184.9 200.5,185.3 201.0,185.6 201.5,185.9 202.0,186.2 202.5,186.5 203.0,186.8 203.5,187.0 204.0,187.3 204.5,187.5 205.0,187.7 205.5,187.9 206.0,188.1 206.5,188.2 207.0,188.4 207.5,188.5 208.0,188.7 208.5,188.8 209.0,188.9 209.5,189.0 210.0,189.1 210.5,189.2 211.0,189.4 211.5,189.4 212.0,189.5 212.5,189.6 213.0,189.7 213.5,189.8 214.0,189.9 214.5,189.9 215.0,190.0 215.5,190.1 216.0,190.1 216.5,190.2 217.0,190.2 217.5,190.3 218.0,190.3 218.5,190.4 219.0,190.4 219.5,190.5 220.0,190.5 220.5,190.5 221.0,190.6 221.5,190.6 222.0,190.7 222.5,190.7 223.0,190.7 223.5,190.8 224.0,190.8 224.5,190.8 225.0,190.9 225.5,190.9 226.0,190.9 226.5,191.0 227.0,191.0 227.5,191.0 228.0,191.1 228.5,191.1 229.0,191.1 229.5,191.2 230.0,191.2 230.5,191.2 231.0,191.3 231.5,191.3 232.0,191.3 232.5,191.4 233.0,191.4 233.5,191.4 234.0,191.4 234.5,191.5 235.0,191.5 235.5,191.5 236.0,191.6 236.5,191.6 237.0,191.6 237.5,191.6 238.0,191.7 238.5,191.7 239.0,191.7 239.5,191.7 240.0,191.8 240.5,191.8 241.0,191.8 241.5,191.8 242.0,191.9 242.5,191.9 243.0,191.9 243.5,191.9 244.0,192.0 244.5,192.0 245.0,192.0 245.5,192.0 246.0,192.0 246.5,192.1 247.0,192.1 247.5,192.1 248.0,192.1 248.5,192.1 249.0,192.2 249.5,192.2 250.0,192.2 250.5,192.2 251.0,192.2 251.5,192.3 252.0,192.3 252.5,192.3 253.0,192.3 253.5,192.3 254.0,192.3 254.5,192.4 255.0,192.4 255.5,192.4 256.0,192.4 256.5,192.4 257.0,192.5 257.5,192.5 258.0,192.5 258.5,192.5 259.0,192.5 259.5,192.5 260.0,192.6 260.5,192.6 261.0,192.6 261.5,192.6 262.0,192.6 262.5,192.6 263.0,192.7 263.5,192.7 264.0,192.7 264.5,192.7 265.0,192.7 265.5,192.7 266.0,192.7 266.5,192.8 267.0,192.8 267.5,192.8 268.0,192.8 268.5,192.8 269.0,192.8 269.5,192.8 270.0,192.8 270.5,192.9 271.0,192.9 271.5,192.9 272.0,192.9 272.5,192.9 273.0,192.9 273.5,192.9 274.0,192.9 274.5,193.0 275.0,193.0 275.5,193.0 276.0,193.0 276.5,193.0 277.0,193.0" fill="none" stroke="#eeb0b7" stroke-width="1.6" stroke-opacity="1.0" stroke-linejoin="round" stroke-linecap="round"/>
<polyline points="35.0,76.9 35.5,78.7 36.0,80.9 36.5,83.4 37.0,85.7 37.5,87.8 38.0,89.8 38.5,91.6 39.0,93.3 39.5,95.0 40.0,96.7 40.5,98.3 41.0,99.8 41.5,101.3 42.0,102.7 42.5,104.0 43.0,105.3 43.5,106.4 44.0,107.4 44.5,108.4 45.0,109.2 45.5,110.0 46.0,110.7 46.5,111.4 47.0,112.0 47.5,112.6 48.0,113.1 48.5,113.5 49.0,113.9 49.5,114.3 50.0,114.6 50.5,115.0 51.0,115.3 51.5,115.6 52.0,115.8 52.5,116.1 53.0,116.3 53.5,116.6 54.0,116.8 54.5,117.0 55.0,117.2 55.5,117.4 56.0,117.6 56.5,117.7 57.0,117.9 57.5,118.0 58.0,118.2 58.5,118.3 59.0,118.4 59.5,118.6 60.0,118.7 60.5,118.8 61.0,119.0 61.5,119.1 62.0,119.2 62.5,119.4 63.0,119.6 63.5,119.8 64.0,120.0 64.5,120.2 65.0,120.4 65.5,120.7 66.0,121.0 66.5,121.3 67.0,121.6 67.5,122.0 68.0,122.3 68.5,122.7 69.0,123.1 69.5,123.4 70.0,123.8 70.5,124.1 71.0,124.5 71.5,124.8 72.0,125.2 72.5,125.5 73.0,125.9 73.5,126.3 74.0,126.7 74.5,127.1 75.0,127.6 75.5,128.1 76.0,128.6 76.5,129.2 77.0,129.8 77.5,130.5 78.0,131.2 78.5,131.9 79.0,132.6 79.5,133.3 80.0,134.0 80.5,134.8 81.0,135.6 81.5,136.4 82.0,137.2 82.5,138.1 83.0,138.9 83.5,139.7 84.0,140.5 84.5,141.3 85.0,142.0 85.5,142.7 86.0,143.4 86.5,144.1 87.0,144.8 87.5,145.5 88.0,146.1 88.5,146.7 89.0,147.1 89.5,147.5 90.0,147.7 90.5,147.9 91.0,147.9 91.5,147.9 92.0,147.9 92.5,147.8 93.0,147.7 93.5,147.6 94.0,147.4 94.5,147.3 95.0,147.1 95.5,147.0 96.0,146.8 96.5,146.5 97.0,146.3 97.5,146.0 98.0,145.6 98.5,145.2 99.0,144.8 99.5,144.3 100.0,143.8 100.5,143.3 101.0,142.7 101.5,142.1 102.0,141.4 102.5,140.6 103.0,139.7 103.5,138.7 104.0,137.6 104.5,136.5 105.0,135.4 105.5,134.2 106.0,132.9 106.5,131.7 107.0,130.5 107.5,129.2 108.0,128.0 108.5,126.6 109.0,125.3 109.5,123.9 110.0,122.5 110.5,121.1 111.0,119.6 111.5,118.1 112.0,116.7 112.5,115.2 113.0,113.8 113.5,112.4 114.0,111.1 114.5,109.7 115.0,108.4 115.5,107.1 116.0,105.9 116.5,104.6 117.0,103.4 117.5,102.1 118.0,100.9 118.5,99.7 119.0,98.4 119.5,97.2 120.0,96.0 120.5,94.8 121.0,93.7 121.5,92.5 122.0,91.3 122.5,90.1 123.0,88.9 123.5,87.8 124.0,86.6 124.5,85.4 125.0,84.3 125.5,83.2 126.0,82.0 126.5,80.9 127.0,79.9 127.5,78.8 128.0,77.7 128.5,76.7 129.0,75.7 129.5,74.7 130.0,73.7 130.5,72.8 131.0,71.8 131.5,70.9 132.0,69.9 132.5,69.0 133.0,68.1 133.5,67.2 134.0,66.4 134.5,65.6 135.0,64.8 135.5,64.0 136.0,63.2 136.5,62.4 137.0,61.7 137.5,61.0 138.0,60.3 138.5,59.7 139.0,59.1 139.5,58.7 140.0,58.3 140.5,57.9 141.0,57.6 141.5,57.3 142.0,57.1 142.5,56.9 143.0,56.7 143.5,56.7 144.0,56.7 144.5,56.7 145.0,56.8 145.5,56.9 146.0,57.1 146.5,57.3 147.0,57.4 147.5,57.6 148.0,57.8 148.5,58.1 149.0,58.3 149.5,58.6 150.0,59.0 150.5,59.3 151.0,59.7 151.5,60.1 152.0,60.6 152.5,61.1 153.0,61.6 153.5,62.2 154.0,62.9 154.5,63.6 155.0,64.5 155.5,65.4 156.0,66.4 156.5,67.5 157.0,68.6 157.5,69.7 158.0,70.8 158.5,72.0 159.0,73.2 159.5,74.4 160.0,75.6 160.5,76.9 161.0,78.2 161.5,79.5 162.0,80.8 162.5,82.2 163.0,83.7 163.5,85.1 164.0,86.6 164.5,88.0 165.0,89.5 165.5,90.9 166.0,92.3 166.5,93.7 167.0,95.0 167.5,96.4 168.0,97.8 168.5,99.2 169.0,100.6 169.5,102.0 170.0,103.6 170.5,105.2 171.0,106.9 171.5,108.6 172.0,110.6 172.5,112.6 173.0,114.7 173.5,116.8 174.0,119.0 174.5,121.2 175.0,123.3 175.5,125.4 176.0,127.5 176.5,129.4 177.0,131.3 177.5,133.1 178.0,134.8 178.5,136.5 179.0,138.2 179.5,139.8 180.0,141.4 180.5,143.0 181.0,144.4 181.5,145.8 182.0,147.2 182.5,148.5 183.0,149.8 183.5,151.0 184.0,152.3 184.5,153.5 185.0,154.7 185.5,155.9 186.0,157.2 186.5,158.5 187.0,159.9 187.5,161.3 188.0,162.8 188.5,164.3 189.0,165.8 189.5,167.3 190.0,168.7 190.5,170.1 191.0,171.4 191.5,172.7 192.0,173.8 192.5,174.9 193.0,175.9 193.5,176.9 194.0,177.8 194.5,178.6 195.0,179.4 195.5,180.2 196.0,180.9 196.5,181.6 197.0,182.2 197.5,182.7 198.0,183.3 198.5,183.7 199.0,184.2 199.5,184.6 200.0,184.9 200.5,185.3 201.0,185.6 201.5,185.9 202.0,186.2 202.5,186.5 203.0,186.8 203.5,187.0 204.0,187.3 204.5,187.5 205.0,187.7 205.5,187.9 206.0,188.1 206.5,188.2 207.0,188.4 207.5,188.5 208.0,188.7 208.5,188.8 209.0,188.9 209.5,189.0 210.0,189.1 210.5,189.2 211.0,189.4 211.5,189.4 212.0,189.5 212.5,189.6 213.0,189.7 213.5,189.8 214.0,189.9 214.5,189.9 215.0,190.0 215.5,190.1 216.0,190.1 216.5,190.2 217.0,190.2 217.5,190.3 218.0,190.3 218.5,190.4 219.0,190.4 219.5,190.5 220.0,190.5 220.5,190.5 221.0,190.6 221.5,190.6 222.0,190.7 222.5,190.7 223.0,190.7 223.5,190.8 224.0,190.8 224.5,190.8 225.0,190.9 225.5,190.9 226.0,190.9 226.5,191.0 227.0,191.0 227.5,191.0 228.0,191.1 228.5,191.1 229.0,191.1 229.5,191.2 230.0,191.2 230.5,191.2 231.0,191.3 231.5,191.3 232.0,191.3 232.5,191.4 233.0,191.4 233.5,191.4 234.0,191.4 234.5,191.5 235.0,191.5 235.5,191.5 236.0,191.6 236.5,191.6 237.0,191.6 237.5,191.6 238.0,191.7 238.5,191.7 239.0,191.7 239.5,191.7 240.0,191.8 240.5,191.8 241.0,191.8 241.5,191.8 242.0,191.9 242.5,191.9 243.0,191.9 243.5,191.9 244.0,192.0 244.5,192.0 245.0,192.0 245.5,192.0 246.0,192.0 246.5,192.1 247.0,192.1 247.5,192.1 248.0,192.1 248.5,192.1 249.0,192.2 249.5,192.2 250.0,192.2 250.5,192.2 251.0,192.2 251.5,192.3 252.0,192.3 252.5,192.3 253.0,192.3 253.5,192.3 254.0,192.3 254.5,192.4 255.0,192.4 255.5,192.4 256.0,192.4 256.5,192.4 257.0,192.5 257.5,192.5 258.0,192.5 258.5,192.5 259.0,192.5 259.5,192.5 260.0,192.6 260.5,192.6 261.0,192.6 261.5,192.6 262.0,192.6 262.5,192.6 263.0,192.7 263.5,192.7 264.0,192.7 264.5,192.7 265.0,192.7 265.5,192.7 266.0,192.7 266.5,192.8 267.0,192.8 267.5,192.8 268.0,192.8 268.5,192.8 269.0,192.8 269.5,192.8 270.0,192.8 270.5,192.9 271.0,192.9 271.5,192.9 272.0,192.9 272.5,192.9 273.0,192.9 273.5,192.9 274.0,192.9 274.5,193.0 275.0,193.0 275.5,193.0 276.0,193.0 276.5,193.0 277.0,193.0" fill="none" stroke="#a86a72" stroke-width="0.55" stroke-opacity="0.7" stroke-linejoin="round" stroke-linecap="round"/>
<defs><linearGradient id="g174" gradientUnits="userSpaceOnUse" x1="174" y1="0" x2="186" y2="0"><stop offset="0" stop-color="#2a2a2a" stop-opacity="0"/><stop offset="1" stop-color="#2a2a2a" stop-opacity="1"/></linearGradient></defs>
<polyline points="174.0,122.9 174.5,125.0 175.0,127.0 175.5,129.0 176.0,130.9 176.5,132.7 177.0,134.5 177.5,136.2 178.0,137.9 178.5,139.5 179.0,141.1 179.5,142.7 180.0,144.3 180.5,145.8 181.0,147.2 181.5,148.6 182.0,150.0 182.5,151.3 183.0,152.6 183.5,153.8 184.0,155.0 184.5,156.2 185.0,157.4 185.5,158.6 186.0,159.8 186.5,161.1 187.0,162.4 187.5,163.7 188.0,165.0 188.5,166.4 189.0,167.8 189.5,169.1 190.0,170.4 190.5,171.7 191.0,172.9 191.5,174.1 192.0,175.1 192.5,176.1 193.0,177.1 193.5,177.9 194.0,178.8 194.5,179.6 195.0,180.3 195.5,181.0 196.0,181.6 196.5,182.2 197.0,182.8 197.5,183.3 198.0,183.8 198.5,184.2 199.0,184.6 199.5,185.0 200.0,185.3 200.5,185.6 201.0,185.9" fill="none" stroke="url(#g174)" stroke-width="1.1" stroke-opacity="1.0" stroke-linejoin="round" stroke-linecap="round"/>
<defs><linearGradient id="g186" gradientUnits="userSpaceOnUse" x1="186" y1="0" x2="198" y2="0"><stop offset="0" stop-color="#1a1a2a" stop-opacity="0"/><stop offset="1" stop-color="#1a1a2a" stop-opacity="1"/></linearGradient></defs>
<polyline points="186.0,166.8 186.5,167.9 187.0,168.9 187.5,169.9 188.0,171.0 188.5,172.0 189.0,173.1 189.5,174.1 190.0,175.0 190.5,176.0 191.0,176.9 191.5,177.7 192.0,178.5 192.5,179.3 193.0,180.0 193.5,180.7 194.0,181.4 194.5,182.0 195.0,182.6 195.5,183.1 196.0,183.6 196.5,184.0 197.0,184.4 197.5,184.8 198.0,185.2 198.5,185.5 199.0,185.8 199.5,186.1 200.0,186.3 200.5,186.6 201.0,186.8 201.5,187.0 202.0,187.2 202.5,187.4 203.0,187.6 203.5,187.7 204.0,187.9 204.5,188.0 205.0,188.2" fill="none" stroke="url(#g186)" stroke-width="1.4" stroke-opacity="1.0" stroke-linejoin="round" stroke-linecap="round"/>
<polyline points="200.0,186.2 200.5,186.4 201.0,186.7 201.5,186.9 202.0,187.1 202.5,187.3 203.0,187.5 203.5,187.7 204.0,187.8 204.5,188.0 205.0,188.1 205.5,188.3 206.0,188.4 206.5,188.6 207.0,188.7 207.5,188.8 208.0,188.9 208.5,189.0 209.0,189.1 209.5,189.2 210.0,189.3 210.5,189.4 211.0,189.4 211.5,189.5 212.0,189.6 212.5,189.7 213.0,189.7 213.5,189.8 214.0,189.9 214.5,189.9 215.0,190.0 215.5,190.1 216.0,190.1 216.5,190.2 217.0,190.2 217.5,190.3 218.0,190.3 218.5,190.4 219.0,190.4 219.5,190.4 220.0,190.5 220.5,190.5 221.0,190.6 221.5,190.6 222.0,190.6 222.5,190.7 223.0,190.7 223.5,190.8 224.0,190.8 224.5,190.8 225.0,190.9 225.5,190.9 226.0,190.9 226.5,191.0 227.0,191.0 227.5,191.0 228.0,191.1 228.5,191.1 229.0,191.1 229.5,191.2 230.0,191.2 230.5,191.2 231.0,191.3 231.5,191.3 232.0,191.3 232.5,191.4 233.0,191.4 233.5,191.4 234.0,191.4 234.5,191.5 235.0,191.5 235.5,191.5 236.0,191.6 236.5,191.6 237.0,191.6 237.5,191.6 238.0,191.7 238.5,191.7 239.0,191.7 239.5,191.7 240.0,191.8 240.5,191.8 241.0,191.8 241.5,191.8 242.0,191.9 242.5,191.9 243.0,191.9 243.5,191.9 244.0,192.0 244.5,192.0 245.0,192.0 245.5,192.0 246.0,192.0 246.5,192.1 247.0,192.1 247.5,192.1 248.0,192.1 248.5,192.1 249.0,192.2 249.5,192.2 250.0,192.2 250.5,192.2 251.0,192.2 251.5,192.3 252.0,192.3 252.5,192.3 253.0,192.3 253.5,192.3 254.0,192.3 254.5,192.4 255.0,192.4 255.5,192.4 256.0,192.4 256.5,192.4 257.0,192.5 257.5,192.5 258.0,192.5 258.5,192.5 259.0,192.5 259.5,192.5 260.0,192.6 260.5,192.6 261.0,192.6 261.5,192.6 262.0,192.6 262.5,192.6 263.0,192.7 263.5,192.7 264.0,192.7 264.5,192.7 265.0,192.7 265.5,192.7 266.0,192.7 266.5,192.8 267.0,192.8 267.5,192.8 268.0,192.8 268.5,192.8 269.0,192.8 269.5,192.8 270.0,192.8 270.5,192.9 271.0,192.9 271.5,192.9 272.0,192.9 272.5,192.9 273.0,192.9 273.5,192.9 274.0,192.9 274.5,193.0 275.0,193.0 275.5,193.0 276.0,193.0 276.5,193.0 277.0,193.0" fill="none" stroke="#1a1a3a" stroke-width="1.6" stroke-opacity="1.0" stroke-linejoin="round" stroke-linecap="round"/>
<polyline points="35.0,76.8 35.5,78.5 36.0,80.6 36.5,82.9 37.0,85.1 37.5,87.1 38.0,89.0 38.5,90.8 39.0,92.4 39.5,94.0 40.0,95.6 40.5,97.1 41.0,98.5 41.5,99.9 42.0,101.2 42.5,102.4" fill="none" stroke="#111" stroke-width="1.4" stroke-opacity="1.0" stroke-linejoin="round" stroke-linecap="round"/>
<text x="32.2" y="62.8" font-family="Liberation Serif" font-weight="bold" font-size="10" text-anchor="end" >0.6</text>
<text x="32.3" y="128.8" font-family="Liberation Serif" font-weight="bold" font-size="10" text-anchor="end" >0.3</text>
<text x="34.2" y="196.8" font-family="Liberation Serif" font-weight="bold" font-size="10.2" text-anchor="end" >0.0</text>
<text x="97" y="207.5" font-family="Liberation Sans" font-weight="bold" font-size="11" text-anchor="middle" >300</text>
<text x="216.4" y="207.7" font-family="Liberation Sans" font-weight="bold" font-size="11" text-anchor="middle" >400</text>
<text x="0" y="0" font-family="Liberation Serif" font-weight="bold" font-size="19" text-anchor="middle" textLength="97" lengthAdjust="spacingAndGlyphs" stroke="#000" stroke-width="0.3" transform="translate(14.6,89.3) rotate(-90)">Absorbance</text>
<line x1="143.9" y1="13" x2="143.9" y2="50" stroke="#222" stroke-width="1.5"/>
<path d="M142,49 L145.8,49 L143.9,52.6 Z" fill="#111"/>
<line x1="68.3" y1="134" x2="68.3" y2="176" stroke="#222" stroke-width="1.5"/>
<path d="M66.4,134.6 L70.2,134.6 L68.3,131 Z" fill="#111"/>
<text x="227" y="154" font-family="Liberation Serif" font-weight="bold" font-size="31" text-anchor="middle" stroke="#000" stroke-width="0.6">1</text>
<line x1="296.5" y1="12.7" x2="296.5" y2="194.3" stroke="#111" stroke-width="1.2"/>
<line x1="295.9" y1="193.7" x2="542" y2="193.7" stroke="#111" stroke-width="1.2"/>
<line x1="293.5" y1="193.7" x2="296.5" y2="193.7" stroke="#111" stroke-width="1.2"/>
<line x1="293.5" y1="113.09999999999998" x2="296.5" y2="113.09999999999998" stroke="#111" stroke-width="1.2"/>
<line x1="293.5" y1="32.49999999999997" x2="296.5" y2="32.49999999999997" stroke="#111" stroke-width="1.2"/>
<line x1="295" y1="153.39999999999998" x2="296.5" y2="153.39999999999998" stroke="#111" stroke-width="1"/>
<line x1="295" y1="72.8" x2="296.5" y2="72.8" stroke="#111" stroke-width="1"/>
<line x1="357.8" y1="193.7" x2="357.8" y2="197" stroke="#111" stroke-width="1.2"/>
<line x1="480.4" y1="193.7" x2="480.4" y2="197" stroke="#111" stroke-width="1.2"/>
<line x1="419.1" y1="193.7" x2="419.1" y2="195.5" stroke="#111" stroke-width="1"/>
<polyline points="297.0,39.9 297.5,41.8 298.0,44.2 298.5,46.9 299.0,49.5 299.5,52.1 300.0,54.4 300.5,56.5 301.0,58.5 301.5,60.2 302.0,61.9 302.5,63.4 303.0,64.8 303.5,66.2 304.0,67.4 304.5,68.6 305.0,69.7 305.5,70.7 306.0,71.7 306.5,72.6 307.0,73.4 307.5,74.2 308.0,74.9 308.5,75.5 309.0,76.0 309.5,76.5 310.0,76.9 310.5,77.3 311.0,77.7 311.5,77.9 312.0,78.2 312.5,78.4 313.0,78.5 313.5,78.7 314.0,78.7 314.5,78.8 315.0,78.9 315.5,78.9 316.0,79.0 316.5,79.0 317.0,79.0 317.5,79.0 318.0,78.9 318.5,78.9 319.0,78.8 319.5,78.8 320.0,78.7 320.5,78.6 321.0,78.5 321.5,78.4 322.0,78.2 322.5,78.1 323.0,77.9 323.5,77.8 324.0,77.6 324.5,77.4 325.0,77.2 325.5,76.9 326.0,76.7 326.5,76.5 327.0,76.3 327.5,76.1 328.0,75.9 328.5,75.7 329.0,75.5 329.5,75.3 330.0,75.1 330.5,74.9 331.0,74.7 331.5,74.5 332.0,74.3 332.5,74.1 333.0,73.9 333.5,73.7 334.0,73.5 334.5,73.4 335.0,73.2 335.5,73.1 336.0,73.1 336.5,73.0 337.0,73.0 337.5,73.1 338.0,73.1 338.5,73.2 339.0,73.2 339.5,73.3 340.0,73.5 340.5,73.6 341.0,73.7 341.5,73.9 342.0,74.1 342.5,74.3 343.0,74.5 343.5,74.9 344.0,75.3 344.5,75.7 345.0,76.2 345.5,76.7 346.0,77.2 346.5,77.8 347.0,78.5 347.5,79.2 348.0,80.1 348.5,81.0 349.0,81.9 349.5,82.9 350.0,83.8 350.5,84.8 351.0,85.7 351.5,86.6 352.0,87.5 352.5,88.4 353.0,89.3 353.5,90.2 354.0,91.1 354.5,92.0 355.0,92.9 355.5,93.9 356.0,94.8 356.5,95.7 357.0,96.7 357.5,97.7 358.0,98.6 358.5,99.6 359.0,100.6 359.5,101.6 360.0,102.6 360.5,103.7 361.0,104.7 361.5,105.7 362.0,106.7 362.5,107.7 363.0,108.7 363.5,109.8 364.0,110.8 364.5,111.9 365.0,112.9 365.5,113.9 366.0,114.9 366.5,115.9 367.0,116.9 367.5,117.8 368.0,118.7 368.5,119.7 369.0,120.5 369.5,121.4 370.0,122.3 370.5,123.2 371.0,124.0 371.5,124.8 372.0,125.5 372.5,126.2 373.0,126.8 373.5,127.4 374.0,127.9 374.5,128.4 375.0,128.8 375.5,129.3 376.0,129.6 376.5,129.9 377.0,130.1 377.5,130.3 378.0,130.5 378.5,130.6 379.0,130.7 379.5,130.7 380.0,130.7 380.5,130.7 381.0,130.6 381.5,130.4 382.0,130.2 382.5,130.0 383.0,129.8 383.5,129.5 384.0,129.2 384.5,128.8 385.0,128.4 385.5,128.0 386.0,127.6 386.5,127.1 387.0,126.6 387.5,126.0 388.0,125.4 388.5,124.8 389.0,124.2 389.5,123.6 390.0,122.9 390.5,122.3 391.0,121.7 391.5,121.1 392.0,120.6 392.5,120.0 393.0,119.5 393.5,119.0 394.0,118.5 394.5,118.0 395.0,117.5 395.5,117.1 396.0,116.6 396.5,116.1 397.0,115.7 397.5,115.2 398.0,114.8 398.5,114.3 399.0,113.9 399.5,113.5 400.0,113.0 400.5,112.6 401.0,112.2 401.5,111.8 402.0,111.4 402.5,110.9 403.0,110.5 403.5,110.1 404.0,109.7 404.5,109.3 405.0,108.8 405.5,108.4 406.0,108.0 406.5,107.6 407.0,107.1 407.5,106.7 408.0,106.3 408.5,105.9 409.0,105.5 409.5,105.1 410.0,104.7 410.5,104.4 411.0,104.0 411.5,103.7 412.0,103.4 412.5,103.1 413.0,102.8 413.5,102.6 414.0,102.3 414.5,102.1 415.0,101.9 415.5,101.8 416.0,101.6 416.5,101.4 417.0,101.3 417.5,101.2 418.0,101.1 418.5,101.0 419.0,100.9 419.5,100.8 420.0,100.7 420.5,100.7 421.0,100.6 421.5,100.6 422.0,100.7 422.5,100.7 423.0,100.8 423.5,100.8 424.0,100.9 424.5,101.0 425.0,101.2 425.5,101.3 426.0,101.4 426.5,101.6 427.0,101.8 427.5,102.0 428.0,102.3 428.5,102.6 429.0,102.9 429.5,103.2 430.0,103.5 430.5,103.9 431.0,104.2 431.5,104.6 432.0,105.0 432.5,105.4 433.0,105.9 433.5,106.3 434.0,106.8 434.5,107.3 435.0,107.8 435.5,108.4 436.0,109.0 436.5,109.6 437.0,110.2 437.5,110.9 438.0,111.6 438.5,112.3 439.0,113.0 439.5,113.8 440.0,114.5 440.5,115.2 441.0,116.0 441.5,116.7 442.0,117.5 442.5,118.3 443.0,119.1 443.5,119.9 444.0,120.8 444.5,121.6 445.0,122.5 445.5,123.5 446.0,124.4 446.5,125.4 447.0,126.4 447.5,127.5 448.0,128.5 448.5,129.6 449.0,130.7 449.5,131.9 450.0,133.0 450.5,134.2 451.0,135.4 451.5,136.7 452.0,137.9 452.5,139.2 453.0,140.6 453.5,142.0 454.0,143.4 454.5,144.8 455.0,146.3 455.5,147.7 456.0,149.1 456.5,150.5 457.0,151.9 457.5,153.2 458.0,154.6 458.5,155.9 459.0,157.2 459.5,158.4 460.0,159.7 460.5,160.9 461.0,162.0 461.5,163.2 462.0,164.3 462.5,165.4 463.0,166.4 463.5,167.5 464.0,168.5 464.5,169.4 465.0,170.4 465.5,171.3 466.0,172.2 466.5,173.0 467.0,173.9 467.5,174.7 468.0,175.4 468.5,176.2 469.0,177.0 469.5,177.7 470.0,178.4 470.5,179.1 471.0,179.7 471.5,180.3 472.0,180.9 472.5,181.4 473.0,181.9 473.5,182.3 474.0,182.8 474.5,183.2 475.0,183.5 475.5,183.9 476.0,184.2 476.5,184.5 477.0,184.8 477.5,185.1 478.0,185.4 478.5,185.6 479.0,185.9 479.5,186.1 480.0,186.3 480.5,186.5 481.0,186.6 481.5,186.8 482.0,186.9 482.5,187.1 483.0,187.2 483.5,187.4 484.0,187.5 484.5,187.6 485.0,187.7 485.5,187.8 486.0,187.9 486.5,188.0 487.0,188.1 487.5,188.2 488.0,188.3 488.5,188.4 489.0,188.4 489.5,188.5 490.0,188.6 490.5,188.7 491.0,188.7 491.5,188.8 492.0,188.8 492.5,188.9 493.0,188.9 493.5,189.0 494.0,189.1 494.5,189.1 495.0,189.2 495.5,189.2 496.0,189.3 496.5,189.3 497.0,189.4 497.5,189.5 498.0,189.5 498.5,189.6 499.0,189.7 499.5,189.8 500.0,189.8 500.5,189.9 501.0,190.0 501.5,190.1 502.0,190.2 502.5,190.2 503.0,190.3 503.5,190.4 504.0,190.5 504.5,190.6 505.0,190.7 505.5,190.7 506.0,190.8 506.5,190.9 507.0,191.0 507.5,191.1 508.0,191.1 508.5,191.2 509.0,191.3 509.5,191.3 510.0,191.4 510.5,191.5 511.0,191.5 511.5,191.6 512.0,191.6 512.5,191.7 513.0,191.7 513.5,191.8 514.0,191.8 514.5,191.9 515.0,191.9 515.5,191.9 516.0,192.0 516.5,192.0 517.0,192.1 517.5,192.1 518.0,192.1 518.5,192.2 519.0,192.2 519.5,192.3 520.0,192.3 520.5,192.3 521.0,192.4 521.5,192.4 522.0,192.4 522.5,192.5 523.0,192.5 523.5,192.5 524.0,192.6 524.5,192.6 525.0,192.6 525.5,192.7 526.0,192.7 526.5,192.7 527.0,192.8 527.5,192.8 528.0,192.8 528.5,192.8 529.0,192.9 529.5,192.9 530.0,192.9 530.5,192.9 531.0,193.0 531.5,193.0 532.0,193.0 532.5,193.0 533.0,193.0 533.5,193.1 534.0,193.1 534.5,193.1 535.0,193.1 535.5,193.1 536.0,193.1 536.5,193.1 537.0,193.2 537.5,193.2 538.0,193.2 538.5,193.2 539.0,193.2 539.5,193.2 540.0,193.2 540.5,193.2 541.0,193.2" fill="none" stroke="#a0a0e6" stroke-width="1.15" stroke-opacity="1.0" stroke-linejoin="round" stroke-linecap="round"/>
<polyline points="297.0,37.6 297.5,39.7 298.0,42.4 298.5,45.2 299.0,48.0 299.5,50.6 300.0,53.0 300.5,55.2 301.0,57.2 301.5,59.0 302.0,60.7 302.5,62.2 303.0,63.7 303.5,65.1 304.0,66.4 304.5,67.6 305.0,68.8 305.5,69.9 306.0,70.9 306.5,71.9 307.0,72.8 307.5,73.6 308.0,74.3 308.5,75.0 309.0,75.6 309.5,76.2 310.0,76.7 310.5,77.1 311.0,77.5 311.5,77.9 312.0,78.2 312.5,78.5 313.0,78.7 313.5,78.9 314.0,79.0 314.5,79.2 315.0,79.3 315.5,79.4 316.0,79.5 316.5,79.5 317.0,79.6 317.5,79.6 318.0,79.6 318.5,79.6 319.0,79.6 319.5,79.5 320.0,79.5 320.5,79.4 321.0,79.3 321.5,79.3 322.0,79.1 322.5,79.0 323.0,78.9 323.5,78.7 324.0,78.6 324.5,78.4 325.0,78.2 325.5,78.0 326.0,77.8 326.5,77.6 327.0,77.4 327.5,77.2 328.0,77.1 328.5,76.9 329.0,76.7 329.5,76.5 330.0,76.4 330.5,76.2 331.0,76.0 331.5,75.8 332.0,75.6 332.5,75.4 333.0,75.3 333.5,75.1 334.0,75.0 334.5,74.8 335.0,74.7 335.5,74.6 336.0,74.6 336.5,74.5 337.0,74.5 337.5,74.6 338.0,74.7 338.5,74.8 339.0,74.9 339.5,75.1 340.0,75.2 340.5,75.4 341.0,75.6 341.5,75.8 342.0,76.1 342.5,76.4 343.0,76.7 343.5,77.1 344.0,77.5 344.5,78.0 345.0,78.5 345.5,79.1 346.0,79.7 346.5,80.4 347.0,81.1 347.5,81.9 348.0,82.8 348.5,83.8 349.0,84.7 349.5,85.7 350.0,86.7 350.5,87.7 351.0,88.6 351.5,89.5 352.0,90.5 352.5,91.4 353.0,92.3 353.5,93.2 354.0,94.1 354.5,95.0 355.0,96.0 355.5,96.9 356.0,97.8 356.5,98.7 357.0,99.7 357.5,100.6 358.0,101.6 358.5,102.6 359.0,103.5 359.5,104.5 360.0,105.5 360.5,106.4 361.0,107.4 361.5,108.4 362.0,109.3 362.5,110.3 363.0,111.3 363.5,112.3 364.0,113.3 364.5,114.3 365.0,115.2 365.5,116.2 366.0,117.1 366.5,118.1 367.0,119.0 367.5,119.8 368.0,120.7 368.5,121.5 369.0,122.3 369.5,123.1 370.0,123.9 370.5,124.6 371.0,125.3 371.5,126.0 372.0,126.6 372.5,127.2 373.0,127.7 373.5,128.2 374.0,128.6 374.5,129.0 375.0,129.4 375.5,129.7 376.0,129.9 376.5,130.1 377.0,130.2 377.5,130.3 378.0,130.4 378.5,130.4 379.0,130.3 379.5,130.3 380.0,130.2 380.5,130.0 381.0,129.8 381.5,129.5 382.0,129.2 382.5,128.9 383.0,128.5 383.5,128.1 384.0,127.7 384.5,127.2 385.0,126.8 385.5,126.3 386.0,125.7 386.5,125.2 387.0,124.6 387.5,124.0 388.0,123.3 388.5,122.6 389.0,122.0 389.5,121.3 390.0,120.6 390.5,119.9 391.0,119.2 391.5,118.6 392.0,117.9 392.5,117.3 393.0,116.8 393.5,116.2 394.0,115.6 394.5,115.1 395.0,114.5 395.5,114.0 396.0,113.5 396.5,112.9 397.0,112.4 397.5,111.9 398.0,111.4 398.5,110.9 399.0,110.4 399.5,109.9 400.0,109.4 400.5,109.0 401.0,108.5 401.5,108.0 402.0,107.5 402.5,107.1 403.0,106.6 403.5,106.1 404.0,105.7 404.5,105.2 405.0,104.7 405.5,104.2 406.0,103.7 406.5,103.2 407.0,102.8 407.5,102.3 408.0,101.8 408.5,101.3 409.0,100.9 409.5,100.4 410.0,100.0 410.5,99.6 411.0,99.2 411.5,98.9 412.0,98.5 412.5,98.2 413.0,97.9 413.5,97.6 414.0,97.4 414.5,97.1 415.0,96.9 415.5,96.7 416.0,96.5 416.5,96.3 417.0,96.2 417.5,96.0 418.0,95.9 418.5,95.8 419.0,95.7 419.5,95.6 420.0,95.5 420.5,95.5 421.0,95.4 421.5,95.4 422.0,95.4 422.5,95.5 423.0,95.5 423.5,95.6 424.0,95.7 424.5,95.8 425.0,95.9 425.5,96.1 426.0,96.2 426.5,96.4 427.0,96.6 427.5,96.8 428.0,97.1 428.5,97.4 429.0,97.7 429.5,98.0 430.0,98.4 430.5,98.7 431.0,99.1 431.5,99.5 432.0,99.9 432.5,100.4 433.0,100.9 433.5,101.4 434.0,101.9 434.5,102.5 435.0,103.0 435.5,103.6 436.0,104.3 436.5,104.9 437.0,105.6 437.5,106.4 438.0,107.1 438.5,107.8 439.0,108.6 439.5,109.4 440.0,110.2 440.5,111.0 441.0,111.8 441.5,112.6 442.0,113.4 442.5,114.3 443.0,115.1 443.5,116.0 444.0,117.0 444.5,117.9 445.0,118.9 445.5,119.9 446.0,120.9 446.5,122.0 447.0,123.1 447.5,124.2 448.0,125.3 448.5,126.4 449.0,127.6 449.5,128.8 450.0,130.0 450.5,131.2 451.0,132.4 451.5,133.7 452.0,135.0 452.5,136.3 453.0,137.7 453.5,139.1 454.0,140.5 454.5,141.9 455.0,143.4 455.5,144.8 456.0,146.3 456.5,147.7 457.0,149.1 457.5,150.5 458.0,151.8 458.5,153.2 459.0,154.5 459.5,155.8 460.0,157.1 460.5,158.4 461.0,159.6 461.5,160.8 462.0,162.0 462.5,163.1 463.0,164.2 463.5,165.3 464.0,166.4 464.5,167.5 465.0,168.5 465.5,169.4 466.0,170.4 466.5,171.3 467.0,172.1 467.5,173.0 468.0,173.8 468.5,174.6 469.0,175.4 469.5,176.2 470.0,176.9 470.5,177.6 471.0,178.3 471.5,179.0 472.0,179.6 472.5,180.2 473.0,180.7 473.5,181.2 474.0,181.7 474.5,182.1 475.0,182.5 475.5,182.9 476.0,183.3 476.5,183.7 477.0,184.0 477.5,184.4 478.0,184.7 478.5,185.0 479.0,185.2 479.5,185.5 480.0,185.7 480.5,185.9 481.0,186.1 481.5,186.3 482.0,186.5 482.5,186.7 483.0,186.8 483.5,187.0 484.0,187.1 484.5,187.3 485.0,187.4 485.5,187.5 486.0,187.6 486.5,187.7 487.0,187.8 487.5,187.9 488.0,188.0 488.5,188.1 489.0,188.2 489.5,188.3 490.0,188.4 490.5,188.5 491.0,188.6 491.5,188.6 492.0,188.7 492.5,188.8 493.0,188.8 493.5,188.9 494.0,189.0 494.5,189.0 495.0,189.1 495.5,189.2 496.0,189.2 496.5,189.3 497.0,189.4 497.5,189.5 498.0,189.5 498.5,189.6 499.0,189.7 499.5,189.8 500.0,189.8 500.5,189.9 501.0,190.0 501.5,190.1 502.0,190.2 502.5,190.3 503.0,190.3 503.5,190.4 504.0,190.5 504.5,190.6 505.0,190.7 505.5,190.8 506.0,190.8 506.5,190.9 507.0,191.0 507.5,191.1 508.0,191.1 508.5,191.2 509.0,191.3 509.5,191.4 510.0,191.4 510.5,191.5 511.0,191.5 511.5,191.6 512.0,191.6 512.5,191.7 513.0,191.7 513.5,191.8 514.0,191.8 514.5,191.9 515.0,191.9 515.5,191.9 516.0,192.0 516.5,192.0 517.0,192.1 517.5,192.1 518.0,192.1 518.5,192.2 519.0,192.2 519.5,192.3 520.0,192.3 520.5,192.3 521.0,192.4 521.5,192.4 522.0,192.4 522.5,192.5 523.0,192.5 523.5,192.5 524.0,192.6 524.5,192.6 525.0,192.6 525.5,192.7 526.0,192.7 526.5,192.7 527.0,192.8 527.5,192.8 528.0,192.8 528.5,192.8 529.0,192.9 529.5,192.9 530.0,192.9 530.5,192.9 531.0,193.0 531.5,193.0 532.0,193.0 532.5,193.0 533.0,193.0 533.5,193.1 534.0,193.1 534.5,193.1 535.0,193.1 535.5,193.1 536.0,193.1 536.5,193.1 537.0,193.2 537.5,193.2 538.0,193.2 538.5,193.2 539.0,193.2 539.5,193.2 540.0,193.2 540.5,193.2 541.0,193.2" fill="none" stroke="#6c6c6c" stroke-width="0.85" stroke-opacity="1.0" stroke-linejoin="round" stroke-linecap="round"/>
<polyline points="297.0,35.4 297.5,37.7 298.0,40.6 298.5,43.6 299.0,46.6 299.5,49.3 300.0,51.7 300.5,53.9 301.0,55.9 301.5,57.8 302.0,59.5 302.5,61.1 303.0,62.6 303.5,64.1 304.0,65.4 304.5,66.7 305.0,67.9 305.5,69.1 306.0,70.2 306.5,71.2 307.0,72.1 307.5,73.0 308.0,73.8 308.5,74.5 309.0,75.2 309.5,75.8 310.0,76.4 310.5,76.9 311.0,77.4 311.5,77.8 312.0,78.2 312.5,78.5 313.0,78.8 313.5,79.1 314.0,79.3 314.5,79.5 315.0,79.7 315.5,79.9 316.0,80.0 316.5,80.1 317.0,80.2 317.5,80.2 318.0,80.3 318.5,80.3 319.0,80.3 319.5,80.3 320.0,80.3 320.5,80.2 321.0,80.2 321.5,80.1 322.0,80.0 322.5,79.9 323.0,79.8 323.5,79.7 324.0,79.5 324.5,79.4 325.0,79.2 325.5,79.0 326.0,78.9 326.5,78.7 327.0,78.5 327.5,78.4 328.0,78.2 328.5,78.1 329.0,77.9 329.5,77.8 330.0,77.6 330.5,77.4 331.0,77.3 331.5,77.1 332.0,76.9 332.5,76.8 333.0,76.6 333.5,76.5 334.0,76.3 334.5,76.2 335.0,76.1 335.5,76.1 336.0,76.0 336.5,76.0 337.0,76.0 337.5,76.1 338.0,76.2 338.5,76.4 339.0,76.5 339.5,76.8 340.0,77.0 340.5,77.2 341.0,77.5 341.5,77.7 342.0,78.0 342.5,78.4 343.0,78.8 343.5,79.2 344.0,79.7 344.5,80.3 345.0,80.8 345.5,81.5 346.0,82.2 346.5,82.9 347.0,83.7 347.5,84.6 348.0,85.5 348.5,86.5 349.0,87.5 349.5,88.5 350.0,89.5 350.5,90.5 351.0,91.4 351.5,92.4 352.0,93.3 352.5,94.3 353.0,95.2 353.5,96.1 354.0,97.0 354.5,98.0 355.0,98.9 355.5,99.8 356.0,100.7 356.5,101.7 357.0,102.6 357.5,103.5 358.0,104.5 358.5,105.4 359.0,106.3 359.5,107.3 360.0,108.2 360.5,109.1 361.0,110.1 361.5,111.0 362.0,111.9 362.5,112.9 363.0,113.8 363.5,114.7 364.0,115.7 364.5,116.6 365.0,117.5 365.5,118.4 366.0,119.3 366.5,120.2 367.0,121.0 367.5,121.8 368.0,122.6 368.5,123.3 369.0,124.0 369.5,124.7 370.0,125.4 370.5,126.0 371.0,126.7 371.5,127.2 372.0,127.8 372.5,128.2 373.0,128.7 373.5,129.0 374.0,129.3 374.5,129.6 375.0,129.9 375.5,130.0 376.0,130.2 376.5,130.3 377.0,130.3 377.5,130.3 378.0,130.2 378.5,130.1 379.0,130.0 379.5,129.8 380.0,129.6 380.5,129.3 381.0,129.0 381.5,128.6 382.0,128.2 382.5,127.7 383.0,127.3 383.5,126.8 384.0,126.3 384.5,125.7 385.0,125.1 385.5,124.6 386.0,124.0 386.5,123.3 387.0,122.7 387.5,122.0 388.0,121.3 388.5,120.5 389.0,119.8 389.5,119.0 390.0,118.3 390.5,117.5 391.0,116.8 391.5,116.1 392.0,115.4 392.5,114.7 393.0,114.1 393.5,113.5 394.0,112.8 394.5,112.2 395.0,111.6 395.5,111.0 396.0,110.4 396.5,109.8 397.0,109.3 397.5,108.7 398.0,108.1 398.5,107.6 399.0,107.0 399.5,106.5 400.0,105.9 400.5,105.4 401.0,104.9 401.5,104.3 402.0,103.8 402.5,103.3 403.0,102.8 403.5,102.3 404.0,101.7 404.5,101.2 405.0,100.7 405.5,100.1 406.0,99.6 406.5,99.0 407.0,98.5 407.5,98.0 408.0,97.4 408.5,96.9 409.0,96.4 409.5,95.9 410.0,95.5 410.5,95.0 411.0,94.6 411.5,94.2 412.0,93.8 412.5,93.4 413.0,93.1 413.5,92.8 414.0,92.5 414.5,92.2 415.0,92.0 415.5,91.8 416.0,91.6 416.5,91.4 417.0,91.2 417.5,91.1 418.0,90.9 418.5,90.8 419.0,90.7 419.5,90.6 420.0,90.5 420.5,90.4 421.0,90.4 421.5,90.3 422.0,90.3 422.5,90.4 423.0,90.4 423.5,90.5 424.0,90.6 424.5,90.7 425.0,90.8 425.5,91.0 426.0,91.1 426.5,91.3 427.0,91.5 427.5,91.8 428.0,92.0 428.5,92.3 429.0,92.6 429.5,93.0 430.0,93.3 430.5,93.7 431.0,94.1 431.5,94.6 432.0,95.0 432.5,95.5 433.0,96.0 433.5,96.5 434.0,97.1 434.5,97.7 435.0,98.4 435.5,99.0 436.0,99.7 436.5,100.4 437.0,101.2 437.5,101.9 438.0,102.7 438.5,103.5 439.0,104.3 439.5,105.1 440.0,105.9 440.5,106.8 441.0,107.6 441.5,108.5 442.0,109.4 442.5,110.3 443.0,111.3 443.5,112.3 444.0,113.3 444.5,114.3 445.0,115.3 445.5,116.4 446.0,117.5 446.5,118.6 447.0,119.8 447.5,121.0 448.0,122.1 448.5,123.3 449.0,124.5 449.5,125.8 450.0,127.0 450.5,128.2 451.0,129.5 451.5,130.8 452.0,132.1 452.5,133.5 453.0,134.9 453.5,136.3 454.0,137.7 454.5,139.2 455.0,140.6 455.5,142.1 456.0,143.5 456.5,144.9 457.0,146.3 457.5,147.8 458.0,149.1 458.5,150.5 459.0,151.9 459.5,153.3 460.0,154.6 460.5,156.0 461.0,157.3 461.5,158.5 462.0,159.7 462.5,161.0 463.0,162.1 463.5,163.3 464.0,164.4 464.5,165.5 465.0,166.6 465.5,167.6 466.0,168.6 466.5,169.5 467.0,170.4 467.5,171.3 468.0,172.2 468.5,173.0 469.0,173.9 469.5,174.7 470.0,175.5 470.5,176.2 471.0,177.0 471.5,177.7 472.0,178.3 472.5,178.9 473.0,179.5 473.5,180.1 474.0,180.6 474.5,181.1 475.0,181.5 475.5,182.0 476.0,182.4 476.5,182.8 477.0,183.2 477.5,183.6 478.0,184.0 478.5,184.3 479.0,184.6 479.5,184.9 480.0,185.2 480.5,185.4 481.0,185.7 481.5,185.9 482.0,186.1 482.5,186.3 483.0,186.4 483.5,186.6 484.0,186.8 484.5,186.9 485.0,187.1 485.5,187.2 486.0,187.3 486.5,187.5 487.0,187.6 487.5,187.7 488.0,187.8 488.5,187.9 489.0,188.0 489.5,188.1 490.0,188.2 490.5,188.3 491.0,188.4 491.5,188.5 492.0,188.6 492.5,188.7 493.0,188.7 493.5,188.8 494.0,188.9 494.5,189.0 495.0,189.1 495.5,189.1 496.0,189.2 496.5,189.3 497.0,189.4 497.5,189.4 498.0,189.5 498.5,189.6 499.0,189.7 499.5,189.8 500.0,189.8 500.5,189.9 501.0,190.0 501.5,190.1 502.0,190.2 502.5,190.3 503.0,190.3 503.5,190.4 504.0,190.5 504.5,190.6 505.0,190.7 505.5,190.8 506.0,190.8 506.5,190.9 507.0,191.0 507.5,191.1 508.0,191.1 508.5,191.2 509.0,191.3 509.5,191.4 510.0,191.4 510.5,191.5 511.0,191.5 511.5,191.6 512.0,191.6 512.5,191.7 513.0,191.7 513.5,191.8 514.0,191.8 514.5,191.9 515.0,191.9 515.5,191.9 516.0,192.0 516.5,192.0 517.0,192.1 517.5,192.1 518.0,192.1 518.5,192.2 519.0,192.2 519.5,192.3 520.0,192.3 520.5,192.3 521.0,192.4 521.5,192.4 522.0,192.4 522.5,192.5 523.0,192.5 523.5,192.5 524.0,192.6 524.5,192.6 525.0,192.6 525.5,192.7 526.0,192.7 526.5,192.7 527.0,192.8 527.5,192.8 528.0,192.8 528.5,192.8 529.0,192.9 529.5,192.9 530.0,192.9 530.5,192.9 531.0,193.0 531.5,193.0 532.0,193.0 532.5,193.0 533.0,193.0 533.5,193.1 534.0,193.1 534.5,193.1 535.0,193.1 535.5,193.1 536.0,193.1 536.5,193.1 537.0,193.2 537.5,193.2 538.0,193.2 538.5,193.2 539.0,193.2 539.5,193.2 540.0,193.2 540.5,193.2 541.0,193.2" fill="none" stroke="#6c6c6c" stroke-width="0.85" stroke-opacity="1.0" stroke-linejoin="round" stroke-linecap="round"/>
<polyline points="297.0,33.4 297.5,35.9 298.0,39.0 298.5,42.2 299.0,45.3 299.5,48.1 300.0,50.5 300.5,52.8 301.0,54.8 301.5,56.7 302.0,58.5 302.5,60.1 303.0,61.7 303.5,63.2 304.0,64.6 304.5,65.9 305.0,67.2 305.5,68.3 306.0,69.5 306.5,70.5 307.0,71.5 307.5,72.4 308.0,73.3 308.5,74.1 309.0,74.8 309.5,75.5 310.0,76.1 310.5,76.7 311.0,77.2 311.5,77.7 312.0,78.2 312.5,78.6 313.0,79.0 313.5,79.3 314.0,79.6 314.5,79.8 315.0,80.1 315.5,80.3 316.0,80.4 316.5,80.6 317.0,80.7 317.5,80.8 318.0,80.9 318.5,80.9 319.0,81.0 319.5,81.0 320.0,81.0 320.5,81.0 321.0,80.9 321.5,80.9 322.0,80.8 322.5,80.7 323.0,80.6 323.5,80.5 324.0,80.4 324.5,80.2 325.0,80.1 325.5,79.9 326.0,79.8 326.5,79.6 327.0,79.5 327.5,79.4 328.0,79.2 328.5,79.1 329.0,78.9 329.5,78.8 330.0,78.7 330.5,78.5 331.0,78.4 331.5,78.2 332.0,78.1 332.5,78.0 333.0,77.8 333.5,77.7 334.0,77.6 334.5,77.5 335.0,77.4 335.5,77.3 336.0,77.3 336.5,77.3 337.0,77.3 337.5,77.4 338.0,77.5 338.5,77.7 339.0,78.0 339.5,78.2 340.0,78.5 340.5,78.8 341.0,79.1 341.5,79.4 342.0,79.8 342.5,80.1 343.0,80.6 343.5,81.1 344.0,81.6 344.5,82.2 345.0,82.9 345.5,83.6 346.0,84.3 346.5,85.1 347.0,86.0 347.5,86.9 348.0,87.8 348.5,88.8 349.0,89.9 349.5,90.9 350.0,91.9 350.5,92.9 351.0,93.9 351.5,94.9 352.0,95.8 352.5,96.8 353.0,97.7 353.5,98.7 354.0,99.6 354.5,100.5 355.0,101.5 355.5,102.4 356.0,103.3 356.5,104.2 357.0,105.2 357.5,106.1 358.0,107.0 358.5,107.9 359.0,108.8 359.5,109.7 360.0,110.6 360.5,111.5 361.0,112.4 361.5,113.3 362.0,114.2 362.5,115.1 363.0,116.0 363.5,116.9 364.0,117.8 364.5,118.7 365.0,119.5 365.5,120.4 366.0,121.2 366.5,122.0 367.0,122.8 367.5,123.5 368.0,124.2 368.5,124.9 369.0,125.5 369.5,126.2 370.0,126.7 370.5,127.3 371.0,127.8 371.5,128.3 372.0,128.7 372.5,129.1 373.0,129.5 373.5,129.7 374.0,130.0 374.5,130.1 375.0,130.3 375.5,130.4 376.0,130.4 376.5,130.4 377.0,130.4 377.5,130.3 378.0,130.1 378.5,130.0 379.0,129.7 379.5,129.4 380.0,129.1 380.5,128.7 381.0,128.3 381.5,127.8 382.0,127.3 382.5,126.7 383.0,126.2 383.5,125.6 384.0,125.0 384.5,124.4 385.0,123.7 385.5,123.1 386.0,122.4 386.5,121.7 387.0,121.0 387.5,120.2 388.0,119.4 388.5,118.7 389.0,117.9 389.5,117.1 390.0,116.3 390.5,115.5 391.0,114.7 391.5,113.9 392.0,113.2 392.5,112.5 393.0,111.8 393.5,111.1 394.0,110.4 394.5,109.7 395.0,109.1 395.5,108.4 396.0,107.8 396.5,107.1 397.0,106.5 397.5,105.9 398.0,105.2 398.5,104.6 399.0,104.0 399.5,103.4 400.0,102.9 400.5,102.3 401.0,101.7 401.5,101.1 402.0,100.6 402.5,100.0 403.0,99.4 403.5,98.9 404.0,98.3 404.5,97.7 405.0,97.1 405.5,96.5 406.0,95.9 406.5,95.3 407.0,94.8 407.5,94.2 408.0,93.6 408.5,93.0 409.0,92.5 409.5,92.0 410.0,91.5 410.5,91.0 411.0,90.5 411.5,90.1 412.0,89.7 412.5,89.3 413.0,88.9 413.5,88.6 414.0,88.3 414.5,88.0 415.0,87.7 415.5,87.4 416.0,87.2 416.5,87.0 417.0,86.8 417.5,86.7 418.0,86.5 418.5,86.4 419.0,86.3 419.5,86.1 420.0,86.0 420.5,86.0 421.0,85.9 421.5,85.9 422.0,85.9 422.5,85.9 423.0,86.0 423.5,86.1 424.0,86.2 424.5,86.3 425.0,86.4 425.5,86.5 426.0,86.7 426.5,86.9 427.0,87.1 427.5,87.3 428.0,87.6 428.5,87.9 429.0,88.2 429.5,88.6 430.0,89.0 430.5,89.3 431.0,89.8 431.5,90.2 432.0,90.7 432.5,91.2 433.0,91.7 433.5,92.3 434.0,92.9 434.5,93.6 435.0,94.3 435.5,95.0 436.0,95.7 436.5,96.5 437.0,97.2 437.5,98.0 438.0,98.8 438.5,99.7 439.0,100.5 439.5,101.4 440.0,102.2 440.5,103.1 441.0,104.0 441.5,105.0 442.0,105.9 442.5,106.9 443.0,107.9 443.5,109.0 444.0,110.0 444.5,111.1 445.0,112.2 445.5,113.4 446.0,114.5 446.5,115.7 447.0,116.9 447.5,118.1 448.0,119.4 448.5,120.6 449.0,121.9 449.5,123.1 450.0,124.4 450.5,125.7 451.0,127.0 451.5,128.3 452.0,129.6 452.5,131.0 453.0,132.4 453.5,133.8 454.0,135.2 454.5,136.7 455.0,138.2 455.5,139.6 456.0,141.1 456.5,142.5 457.0,144.0 457.5,145.4 458.0,146.8 458.5,148.2 459.0,149.7 459.5,151.1 460.0,152.5 460.5,153.9 461.0,155.2 461.5,156.5 462.0,157.8 462.5,159.1 463.0,160.3 463.5,161.5 464.0,162.7 464.5,163.8 465.0,164.9 465.5,166.0 466.0,167.0 466.5,168.0 467.0,168.9 467.5,169.9 468.0,170.8 468.5,171.7 469.0,172.5 469.5,173.4 470.0,174.2 470.5,175.0 471.0,175.8 471.5,176.5 472.0,177.2 472.5,177.9 473.0,178.5 473.5,179.1 474.0,179.6 474.5,180.2 475.0,180.7 475.5,181.2 476.0,181.6 476.5,182.1 477.0,182.5 477.5,183.0 478.0,183.4 478.5,183.7 479.0,184.1 479.5,184.4 480.0,184.7 480.5,185.0 481.0,185.2 481.5,185.5 482.0,185.7 482.5,185.9 483.0,186.1 483.5,186.3 484.0,186.5 484.5,186.6 485.0,186.8 485.5,186.9 486.0,187.1 486.5,187.2 487.0,187.3 487.5,187.5 488.0,187.6 488.5,187.7 489.0,187.8 489.5,187.9 490.0,188.0 490.5,188.1 491.0,188.3 491.5,188.4 492.0,188.5 492.5,188.6 493.0,188.6 493.5,188.7 494.0,188.8 494.5,188.9 495.0,189.0 495.5,189.1 496.0,189.2 496.5,189.3 497.0,189.3 497.5,189.4 498.0,189.5 498.5,189.6 499.0,189.7 499.5,189.8 500.0,189.8 500.5,189.9 501.0,190.0 501.5,190.1 502.0,190.2 502.5,190.3 503.0,190.4 503.5,190.4 504.0,190.5 504.5,190.6 505.0,190.7 505.5,190.8 506.0,190.8 506.5,190.9 507.0,191.0 507.5,191.1 508.0,191.2 508.5,191.2 509.0,191.3 509.5,191.4 510.0,191.4 510.5,191.5 511.0,191.5 511.5,191.6 512.0,191.7 512.5,191.7 513.0,191.7 513.5,191.8 514.0,191.8 514.5,191.9 515.0,191.9 515.5,191.9 516.0,192.0 516.5,192.0 517.0,192.1 517.5,192.1 518.0,192.1 518.5,192.2 519.0,192.2 519.5,192.3 520.0,192.3 520.5,192.3 521.0,192.4 521.5,192.4 522.0,192.4 522.5,192.5 523.0,192.5 523.5,192.5 524.0,192.6 524.5,192.6 525.0,192.6 525.5,192.7 526.0,192.7 526.5,192.7 527.0,192.8 527.5,192.8 528.0,192.8 528.5,192.8 529.0,192.9 529.5,192.9 530.0,192.9 530.5,192.9 531.0,193.0 531.5,193.0 532.0,193.0 532.5,193.0 533.0,193.0 533.5,193.1 534.0,193.1 534.5,193.1 535.0,193.1 535.5,193.1 536.0,193.1 536.5,193.1 537.0,193.2 537.5,193.2 538.0,193.2 538.5,193.2 539.0,193.2 539.5,193.2 540.0,193.2 540.5,193.2 541.0,193.2" fill="none" stroke="#6c6c6c" stroke-width="0.85" stroke-opacity="1.0" stroke-linejoin="round" stroke-linecap="round"/>
<polyline points="297.0,31.4 297.5,34.1 298.0,37.4 298.5,40.8 299.0,44.0 299.5,46.9 300.0,49.4 300.5,51.6 301.0,53.7 301.5,55.6 302.0,57.5 302.5,59.2 303.0,60.8 303.5,62.3 304.0,63.7 304.5,65.1 305.0,66.4 305.5,67.6 306.0,68.8 306.5,69.9 307.0,71.0 307.5,71.9 308.0,72.8 308.5,73.7 309.0,74.5 309.5,75.2 310.0,75.9 310.5,76.5 311.0,77.1 311.5,77.7 312.0,78.2 312.5,78.6 313.0,79.1 313.5,79.5 314.0,79.8 314.5,80.1 315.0,80.4 315.5,80.7 316.0,80.9 316.5,81.0 317.0,81.2 317.5,81.3 318.0,81.4 318.5,81.5 319.0,81.6 319.5,81.6 320.0,81.7 320.5,81.7 321.0,81.6 321.5,81.6 322.0,81.5 322.5,81.5 323.0,81.4 323.5,81.3 324.0,81.2 324.5,81.1 325.0,80.9 325.5,80.8 326.0,80.7 326.5,80.6 327.0,80.4 327.5,80.3 328.0,80.2 328.5,80.1 329.0,80.0 329.5,79.9 330.0,79.7 330.5,79.6 331.0,79.5 331.5,79.4 332.0,79.2 332.5,79.1 333.0,79.0 333.5,78.9 334.0,78.8 334.5,78.7 335.0,78.6 335.5,78.6 336.0,78.5 336.5,78.5 337.0,78.6 337.5,78.7 338.0,78.9 338.5,79.1 339.0,79.4 339.5,79.7 340.0,80.0 340.5,80.3 341.0,80.7 341.5,81.1 342.0,81.5 342.5,81.9 343.0,82.4 343.5,82.9 344.0,83.5 344.5,84.2 345.0,84.9 345.5,85.6 346.0,86.4 346.5,87.3 347.0,88.2 347.5,89.1 348.0,90.2 348.5,91.2 349.0,92.2 349.5,93.3 350.0,94.3 350.5,95.4 351.0,96.4 351.5,97.4 352.0,98.3 352.5,99.3 353.0,100.3 353.5,101.2 354.0,102.1 354.5,103.1 355.0,104.0 355.5,104.9 356.0,105.9 356.5,106.8 357.0,107.7 357.5,108.6 358.0,109.5 358.5,110.4 359.0,111.3 359.5,112.1 360.0,113.0 360.5,113.9 361.0,114.7 361.5,115.6 362.0,116.4 362.5,117.3 363.0,118.1 363.5,119.0 364.0,119.8 364.5,120.7 365.0,121.5 365.5,122.3 366.0,123.1 366.5,123.8 367.0,124.5 367.5,125.2 368.0,125.8 368.5,126.5 369.0,127.0 369.5,127.6 370.0,128.1 370.5,128.5 371.0,129.0 371.5,129.4 372.0,129.7 372.5,130.0 373.0,130.3 373.5,130.5 374.0,130.6 374.5,130.7 375.0,130.7 375.5,130.7 376.0,130.7 376.5,130.6 377.0,130.5 377.5,130.3 378.0,130.0 378.5,129.8 379.0,129.4 379.5,129.1 380.0,128.6 380.5,128.1 381.0,127.6 381.5,127.0 382.0,126.4 382.5,125.8 383.0,125.1 383.5,124.4 384.0,123.7 384.5,123.0 385.0,122.3 385.5,121.6 386.0,120.9 386.5,120.1 387.0,119.3 387.5,118.5 388.0,117.7 388.5,116.8 389.0,116.0 389.5,115.1 390.0,114.3 390.5,113.4 391.0,112.6 391.5,111.8 392.0,111.0 392.5,110.2 393.0,109.5 393.5,108.7 394.0,108.0 394.5,107.2 395.0,106.5 395.5,105.8 396.0,105.1 396.5,104.4 397.0,103.7 397.5,103.1 398.0,102.4 398.5,101.7 399.0,101.1 399.5,100.5 400.0,99.8 400.5,99.2 401.0,98.6 401.5,98.0 402.0,97.3 402.5,96.7 403.0,96.1 403.5,95.5 404.0,94.9 404.5,94.3 405.0,93.6 405.5,93.0 406.0,92.3 406.5,91.7 407.0,91.1 407.5,90.4 408.0,89.8 408.5,89.2 409.0,88.6 409.5,88.1 410.0,87.5 410.5,87.0 411.0,86.5 411.5,86.0 412.0,85.6 412.5,85.2 413.0,84.8 413.5,84.4 414.0,84.1 414.5,83.7 415.0,83.4 415.5,83.2 416.0,82.9 416.5,82.7 417.0,82.5 417.5,82.3 418.0,82.2 418.5,82.0 419.0,81.9 419.5,81.8 420.0,81.7 420.5,81.6 421.0,81.5 421.5,81.5 422.0,81.5 422.5,81.5 423.0,81.6 423.5,81.6 424.0,81.7 424.5,81.9 425.0,82.0 425.5,82.1 426.0,82.3 426.5,82.5 427.0,82.7 427.5,82.9 428.0,83.2 428.5,83.5 429.0,83.9 429.5,84.2 430.0,84.6 430.5,85.0 431.0,85.5 431.5,85.9 432.0,86.4 432.5,86.9 433.0,87.5 433.5,88.1 434.0,88.8 434.5,89.5 435.0,90.2 435.5,91.0 436.0,91.8 436.5,92.5 437.0,93.4 437.5,94.2 438.0,95.0 438.5,95.9 439.0,96.8 439.5,97.7 440.0,98.6 440.5,99.5 441.0,100.5 441.5,101.4 442.0,102.5 442.5,103.5 443.0,104.6 443.5,105.7 444.0,106.8 444.5,108.0 445.0,109.2 445.5,110.4 446.0,111.6 446.5,112.8 447.0,114.1 447.5,115.4 448.0,116.6 448.5,117.9 449.0,119.2 449.5,120.5 450.0,121.8 450.5,123.1 451.0,124.4 451.5,125.8 452.0,127.1 452.5,128.5 453.0,129.9 453.5,131.4 454.0,132.8 454.5,134.3 455.0,135.8 455.5,137.2 456.0,138.7 456.5,140.1 457.0,141.6 457.5,143.0 458.0,144.5 458.5,146.0 459.0,147.4 459.5,148.9 460.0,150.3 460.5,151.8 461.0,153.2 461.5,154.5 462.0,155.9 462.5,157.2 463.0,158.5 463.5,159.7 464.0,161.0 464.5,162.1 465.0,163.3 465.5,164.4 466.0,165.5 466.5,166.5 467.0,167.5 467.5,168.5 468.0,169.4 468.5,170.3 469.0,171.2 469.5,172.1 470.0,173.0 470.5,173.8 471.0,174.6 471.5,175.4 472.0,176.1 472.5,176.8 473.0,177.5 473.5,178.1 474.0,178.7 474.5,179.3 475.0,179.8 475.5,180.4 476.0,180.9 476.5,181.4 477.0,181.9 477.5,182.3 478.0,182.8 478.5,183.2 479.0,183.6 479.5,183.9 480.0,184.3 480.5,184.6 481.0,184.8 481.5,185.1 482.0,185.3 482.5,185.5 483.0,185.8 483.5,186.0 484.0,186.1 484.5,186.3 485.0,186.5 485.5,186.7 486.0,186.8 486.5,187.0 487.0,187.1 487.5,187.2 488.0,187.4 488.5,187.5 489.0,187.6 489.5,187.8 490.0,187.9 490.5,188.0 491.0,188.1 491.5,188.2 492.0,188.3 492.5,188.5 493.0,188.6 493.5,188.7 494.0,188.8 494.5,188.9 495.0,189.0 495.5,189.1 496.0,189.1 496.5,189.2 497.0,189.3 497.5,189.4 498.0,189.5 498.5,189.6 499.0,189.7 499.5,189.8 500.0,189.8 500.5,189.9 501.0,190.0 501.5,190.1 502.0,190.2 502.5,190.3 503.0,190.4 503.5,190.4 504.0,190.5 504.5,190.6 505.0,190.7 505.5,190.8 506.0,190.9 506.5,190.9 507.0,191.0 507.5,191.1 508.0,191.2 508.5,191.2 509.0,191.3 509.5,191.4 510.0,191.4 510.5,191.5 511.0,191.5 511.5,191.6 512.0,191.7 512.5,191.7 513.0,191.7 513.5,191.8 514.0,191.8 514.5,191.9 515.0,191.9 515.5,191.9 516.0,192.0 516.5,192.0 517.0,192.1 517.5,192.1 518.0,192.1 518.5,192.2 519.0,192.2 519.5,192.3 520.0,192.3 520.5,192.3 521.0,192.4 521.5,192.4 522.0,192.4 522.5,192.5 523.0,192.5 523.5,192.5 524.0,192.6 524.5,192.6 525.0,192.6 525.5,192.7 526.0,192.7 526.5,192.7 527.0,192.8 527.5,192.8 528.0,192.8 528.5,192.8 529.0,192.9 529.5,192.9 530.0,192.9 530.5,192.9 531.0,193.0 531.5,193.0 532.0,193.0 532.5,193.0 533.0,193.0 533.5,193.1 534.0,193.1 534.5,193.1 535.0,193.1 535.5,193.1 536.0,193.1 536.5,193.1 537.0,193.2 537.5,193.2 538.0,193.2 538.5,193.2 539.0,193.2 539.5,193.2 540.0,193.2 540.5,193.2 541.0,193.2" fill="none" stroke="#6c6c6c" stroke-width="0.85" stroke-opacity="1.0" stroke-linejoin="round" stroke-linecap="round"/>
<polyline points="297.0,29.7 297.5,32.5 298.0,36.0 298.5,39.6 299.0,42.9 299.5,45.8 300.0,48.4 300.5,50.7 301.0,52.8 301.5,54.7 302.0,56.6 302.5,58.3 303.0,59.9 303.5,61.5 304.0,63.0 304.5,64.4 305.0,65.7 305.5,67.0 306.0,68.2 306.5,69.4 307.0,70.5 307.5,71.5 308.0,72.4 308.5,73.3 309.0,74.1 309.5,74.9 310.0,75.7 310.5,76.4 311.0,77.0 311.5,77.6 312.0,78.2 312.5,78.7 313.0,79.2 313.5,79.6 314.0,80.0 314.5,80.4 315.0,80.7 315.5,81.0 316.0,81.3 316.5,81.5 317.0,81.6 317.5,81.8 318.0,82.0 318.5,82.1 319.0,82.2 319.5,82.2 320.0,82.3 320.5,82.3 321.0,82.3 321.5,82.3 322.0,82.2 322.5,82.1 323.0,82.1 323.5,82.0 324.0,81.9 324.5,81.8 325.0,81.7 325.5,81.6 326.0,81.5 326.5,81.4 327.0,81.3 327.5,81.2 328.0,81.1 328.5,81.0 329.0,80.9 329.5,80.8 330.0,80.7 330.5,80.6 331.0,80.5 331.5,80.3 332.0,80.2 332.5,80.1 333.0,80.0 333.5,79.9 334.0,79.8 334.5,79.8 335.0,79.7 335.5,79.6 336.0,79.6 336.5,79.6 337.0,79.7 337.5,79.8 338.0,80.0 338.5,80.3 339.0,80.6 339.5,81.0 340.0,81.3 340.5,81.7 341.0,82.1 341.5,82.5 342.0,83.0 342.5,83.4 343.0,84.0 343.5,84.6 344.0,85.2 344.5,85.9 345.0,86.6 345.5,87.4 346.0,88.3 346.5,89.2 347.0,90.1 347.5,91.1 348.0,92.2 348.5,93.3 349.0,94.3 349.5,95.4 350.0,96.5 350.5,97.5 351.0,98.5 351.5,99.5 352.0,100.5 352.5,101.5 353.0,102.5 353.5,103.4 354.0,104.4 354.5,105.3 355.0,106.3 355.5,107.2 356.0,108.1 356.5,109.0 357.0,109.9 357.5,110.8 358.0,111.7 358.5,112.6 359.0,113.4 359.5,114.3 360.0,115.1 360.5,115.9 361.0,116.7 361.5,117.6 362.0,118.4 362.5,119.2 363.0,120.0 363.5,120.8 364.0,121.7 364.5,122.5 365.0,123.2 365.5,124.0 366.0,124.7 366.5,125.4 367.0,126.1 367.5,126.7 368.0,127.3 368.5,127.8 369.0,128.3 369.5,128.8 370.0,129.2 370.5,129.6 371.0,130.0 371.5,130.3 372.0,130.6 372.5,130.8 373.0,131.0 373.5,131.1 374.0,131.1 374.5,131.1 375.0,131.1 375.5,131.0 376.0,130.9 376.5,130.8 377.0,130.5 377.5,130.3 378.0,130.0 378.5,129.6 379.0,129.2 379.5,128.7 380.0,128.2 380.5,127.6 381.0,127.0 381.5,126.3 382.0,125.6 382.5,124.9 383.0,124.2 383.5,123.4 384.0,122.6 384.5,121.9 385.0,121.1 385.5,120.3 386.0,119.5 386.5,118.7 387.0,117.8 387.5,117.0 388.0,116.1 388.5,115.2 389.0,114.3 389.5,113.4 390.0,112.5 390.5,111.6 391.0,110.8 391.5,109.9 392.0,109.1 392.5,108.2 393.0,107.4 393.5,106.6 394.0,105.8 394.5,105.1 395.0,104.3 395.5,103.5 396.0,102.8 396.5,102.1 397.0,101.3 397.5,100.6 398.0,99.9 398.5,99.2 399.0,98.5 399.5,97.8 400.0,97.2 400.5,96.5 401.0,95.8 401.5,95.2 402.0,94.5 402.5,93.9 403.0,93.2 403.5,92.5 404.0,91.9 404.5,91.2 405.0,90.5 405.5,89.9 406.0,89.2 406.5,88.5 407.0,87.8 407.5,87.2 408.0,86.5 408.5,85.9 409.0,85.2 409.5,84.6 410.0,84.0 410.5,83.5 411.0,82.9 411.5,82.4 412.0,82.0 412.5,81.5 413.0,81.1 413.5,80.7 414.0,80.4 414.5,80.0 415.0,79.7 415.5,79.4 416.0,79.2 416.5,78.9 417.0,78.7 417.5,78.5 418.0,78.4 418.5,78.2 419.0,78.1 419.5,77.9 420.0,77.8 420.5,77.7 421.0,77.7 421.5,77.6 422.0,77.6 422.5,77.6 423.0,77.7 423.5,77.8 424.0,77.9 424.5,78.0 425.0,78.1 425.5,78.3 426.0,78.4 426.5,78.6 427.0,78.8 427.5,79.1 428.0,79.4 428.5,79.7 429.0,80.0 429.5,80.4 430.0,80.8 430.5,81.2 431.0,81.7 431.5,82.1 432.0,82.7 432.5,83.2 433.0,83.8 433.5,84.5 434.0,85.2 434.5,85.9 435.0,86.7 435.5,87.5 436.0,88.3 436.5,89.1 437.0,89.9 437.5,90.8 438.0,91.7 438.5,92.6 439.0,93.5 439.5,94.4 440.0,95.4 440.5,96.3 441.0,97.3 441.5,98.4 442.0,99.4 442.5,100.5 443.0,101.7 443.5,102.8 444.0,104.0 444.5,105.2 445.0,106.5 445.5,107.7 446.0,109.0 446.5,110.3 447.0,111.6 447.5,112.9 448.0,114.2 448.5,115.5 449.0,116.9 449.5,118.2 450.0,119.5 450.5,120.9 451.0,122.2 451.5,123.6 452.0,125.0 452.5,126.4 453.0,127.8 453.5,129.2 454.0,130.7 454.5,132.2 455.0,133.6 455.5,135.1 456.0,136.6 456.5,138.0 457.0,139.5 457.5,141.0 458.0,142.5 458.5,144.0 459.0,145.5 459.5,147.0 460.0,148.5 460.5,149.9 461.0,151.4 461.5,152.8 462.0,154.2 462.5,155.5 463.0,156.9 463.5,158.2 464.0,159.5 464.5,160.7 465.0,161.9 465.5,163.0 466.0,164.1 466.5,165.2 467.0,166.2 467.5,167.2 468.0,168.2 468.5,169.1 469.0,170.1 469.5,171.0 470.0,171.9 470.5,172.7 471.0,173.6 471.5,174.4 472.0,175.2 472.5,175.9 473.0,176.6 473.5,177.3 474.0,177.9 474.5,178.5 475.0,179.1 475.5,179.6 476.0,180.2 476.5,180.7 477.0,181.3 477.5,181.7 478.0,182.2 478.5,182.7 479.0,183.1 479.5,183.5 480.0,183.8 480.5,184.2 481.0,184.5 481.5,184.7 482.0,185.0 482.5,185.2 483.0,185.5 483.5,185.7 484.0,185.9 484.5,186.1 485.0,186.2 485.5,186.4 486.0,186.6 486.5,186.7 487.0,186.9 487.5,187.0 488.0,187.2 488.5,187.3 489.0,187.5 489.5,187.6 490.0,187.7 490.5,187.9 491.0,188.0 491.5,188.1 492.0,188.2 492.5,188.4 493.0,188.5 493.5,188.6 494.0,188.7 494.5,188.8 495.0,188.9 495.5,189.0 496.0,189.1 496.5,189.2 497.0,189.3 497.5,189.4 498.0,189.5 498.5,189.6 499.0,189.7 499.5,189.8 500.0,189.8 500.5,189.9 501.0,190.0 501.5,190.1 502.0,190.2 502.5,190.3 503.0,190.4 503.5,190.5 504.0,190.5 504.5,190.6 505.0,190.7 505.5,190.8 506.0,190.9 506.5,190.9 507.0,191.0 507.5,191.1 508.0,191.2 508.5,191.2 509.0,191.3 509.5,191.4 510.0,191.4 510.5,191.5 511.0,191.5 511.5,191.6 512.0,191.7 512.5,191.7 513.0,191.7 513.5,191.8 514.0,191.8 514.5,191.9 515.0,191.9 515.5,191.9 516.0,192.0 516.5,192.0 517.0,192.1 517.5,192.1 518.0,192.1 518.5,192.2 519.0,192.2 519.5,192.3 520.0,192.3 520.5,192.3 521.0,192.4 521.5,192.4 522.0,192.4 522.5,192.5 523.0,192.5 523.5,192.5 524.0,192.6 524.5,192.6 525.0,192.6 525.5,192.7 526.0,192.7 526.5,192.7 527.0,192.8 527.5,192.8 528.0,192.8 528.5,192.8 529.0,192.9 529.5,192.9 530.0,192.9 530.5,192.9 531.0,193.0 531.5,193.0 532.0,193.0 532.5,193.0 533.0,193.0 533.5,193.1 534.0,193.1 534.5,193.1 535.0,193.1 535.5,193.1 536.0,193.1 536.5,193.1 537.0,193.2 537.5,193.2 538.0,193.2 538.5,193.2 539.0,193.2 539.5,193.2 540.0,193.2 540.5,193.2 541.0,193.2" fill="none" stroke="#6c6c6c" stroke-width="0.85" stroke-opacity="1.0" stroke-linejoin="round" stroke-linecap="round"/>
<polyline points="297.0,27.7 297.5,30.8 298.0,34.5 298.5,38.2 299.0,41.6 299.5,44.6 300.0,47.2 300.5,49.5 301.0,51.7 301.5,53.7 302.0,55.5 302.5,57.3 303.0,59.0 303.5,60.6 304.0,62.1 304.5,63.6 305.0,65.0 305.5,66.3 306.0,67.6 306.5,68.8 307.0,69.9 307.5,70.9 308.0,71.9 308.5,72.9 309.0,73.8 309.5,74.6 310.0,75.4 310.5,76.2 311.0,76.9 311.5,77.5 312.0,78.2 312.5,78.8 313.0,79.3 313.5,79.8 314.0,80.3 314.5,80.7 315.0,81.1 315.5,81.4 316.0,81.7 316.5,81.9 317.0,82.2 317.5,82.4 318.0,82.5 318.5,82.7 319.0,82.8 319.5,82.9 320.0,83.0 320.5,83.0 321.0,83.0 321.5,83.0 322.0,83.0 322.5,82.9 323.0,82.9 323.5,82.8 324.0,82.7 324.5,82.7 325.0,82.6 325.5,82.5 326.0,82.4 326.5,82.3 327.0,82.2 327.5,82.2 328.0,82.1 328.5,82.0 329.0,81.9 329.5,81.8 330.0,81.7 330.5,81.6 331.0,81.6 331.5,81.5 332.0,81.4 332.5,81.3 333.0,81.2 333.5,81.1 334.0,81.0 334.5,81.0 335.0,80.9 335.5,80.9 336.0,80.9 336.5,80.9 337.0,81.0 337.5,81.1 338.0,81.4 338.5,81.7 339.0,82.0 339.5,82.4 340.0,82.8 340.5,83.3 341.0,83.7 341.5,84.2 342.0,84.7 342.5,85.2 343.0,85.8 343.5,86.4 344.0,87.1 344.5,87.8 345.0,88.6 345.5,89.5 346.0,90.4 346.5,91.4 347.0,92.4 347.5,93.4 348.0,94.5 348.5,95.6 349.0,96.7 349.5,97.8 350.0,98.9 350.5,99.9 351.0,101.0 351.5,102.0 352.0,103.0 352.5,104.0 353.0,105.0 353.5,106.0 354.0,106.9 354.5,107.9 355.0,108.8 355.5,109.7 356.0,110.6 356.5,111.6 357.0,112.4 357.5,113.3 358.0,114.2 358.5,115.0 359.0,115.9 359.5,116.7 360.0,117.5 360.5,118.3 361.0,119.1 361.5,119.8 362.0,120.6 362.5,121.4 363.0,122.2 363.5,123.0 364.0,123.7 364.5,124.5 365.0,125.2 365.5,125.9 366.0,126.6 366.5,127.2 367.0,127.8 367.5,128.4 368.0,128.9 368.5,129.4 369.0,129.8 369.5,130.2 370.0,130.5 370.5,130.8 371.0,131.1 371.5,131.4 372.0,131.5 372.5,131.7 373.0,131.8 373.5,131.8 374.0,131.7 374.5,131.7 375.0,131.5 375.5,131.4 376.0,131.2 376.5,130.9 377.0,130.6 377.5,130.3 378.0,129.9 378.5,129.4 379.0,128.9 379.5,128.3 380.0,127.7 380.5,127.0 381.0,126.3 381.5,125.5 382.0,124.7 382.5,123.9 383.0,123.1 383.5,122.3 384.0,121.4 384.5,120.5 385.0,119.7 385.5,118.8 386.0,118.0 386.5,117.1 387.0,116.2 387.5,115.2 388.0,114.3 388.5,113.4 389.0,112.4 389.5,111.5 390.0,110.5 390.5,109.6 391.0,108.7 391.5,107.7 392.0,106.9 392.5,106.0 393.0,105.1 393.5,104.3 394.0,103.4 394.5,102.6 395.0,101.8 395.5,101.0 396.0,100.2 396.5,99.4 397.0,98.6 397.5,97.8 398.0,97.1 398.5,96.3 399.0,95.6 399.5,94.8 400.0,94.1 400.5,93.4 401.0,92.7 401.5,92.0 402.0,91.3 402.5,90.6 403.0,89.9 403.5,89.2 404.0,88.5 404.5,87.8 405.0,87.0 405.5,86.3 406.0,85.6 406.5,84.9 407.0,84.1 407.5,83.4 408.0,82.7 408.5,82.0 409.0,81.3 409.5,80.7 410.0,80.1 410.5,79.5 411.0,78.9 411.5,78.4 412.0,77.9 412.5,77.4 413.0,77.0 413.5,76.6 414.0,76.2 414.5,75.8 415.0,75.5 415.5,75.1 416.0,74.9 416.5,74.6 417.0,74.4 417.5,74.2 418.0,74.0 418.5,73.9 419.0,73.7 419.5,73.6 420.0,73.4 420.5,73.3 421.0,73.3 421.5,73.2 422.0,73.2 422.5,73.2 423.0,73.3 423.5,73.4 424.0,73.5 424.5,73.6 425.0,73.7 425.5,73.9 426.0,74.0 426.5,74.2 427.0,74.4 427.5,74.7 428.0,75.0 428.5,75.3 429.0,75.6 429.5,76.0 430.0,76.4 430.5,76.9 431.0,77.4 431.5,77.9 432.0,78.4 432.5,79.0 433.0,79.6 433.5,80.3 434.0,81.0 434.5,81.8 435.0,82.6 435.5,83.5 436.0,84.3 436.5,85.2 437.0,86.1 437.5,87.0 438.0,87.9 438.5,88.8 439.0,89.8 439.5,90.7 440.0,91.7 440.5,92.7 441.0,93.8 441.5,94.8 442.0,96.0 442.5,97.1 443.0,98.3 443.5,99.6 444.0,100.8 444.5,102.1 445.0,103.4 445.5,104.7 446.0,106.0 446.5,107.4 447.0,108.8 447.5,110.1 448.0,111.5 448.5,112.9 449.0,114.2 449.5,115.6 450.0,116.9 450.5,118.3 451.0,119.7 451.5,121.1 452.0,122.5 452.5,123.9 453.0,125.3 453.5,126.8 454.0,128.3 454.5,129.7 455.0,131.2 455.5,132.7 456.0,134.2 456.5,135.7 457.0,137.1 457.5,138.6 458.0,140.1 458.5,141.7 459.0,143.2 459.5,144.8 460.0,146.3 460.5,147.8 461.0,149.3 461.5,150.8 462.0,152.2 462.5,153.7 463.0,155.1 463.5,156.4 464.0,157.7 464.5,159.0 465.0,160.2 465.5,161.4 466.0,162.5 466.5,163.7 467.0,164.7 467.5,165.8 468.0,166.8 468.5,167.8 469.0,168.8 469.5,169.7 470.0,170.6 470.5,171.5 471.0,172.4 471.5,173.3 472.0,174.1 472.5,174.8 473.0,175.6 473.5,176.3 474.0,177.0 474.5,177.6 475.0,178.2 475.5,178.8 476.0,179.4 476.5,180.0 477.0,180.6 477.5,181.1 478.0,181.6 478.5,182.1 479.0,182.6 479.5,183.0 480.0,183.4 480.5,183.7 481.0,184.1 481.5,184.3 482.0,184.6 482.5,184.9 483.0,185.1 483.5,185.3 484.0,185.6 484.5,185.8 485.0,186.0 485.5,186.2 486.0,186.3 486.5,186.5 487.0,186.7 487.5,186.8 488.0,187.0 488.5,187.1 489.0,187.3 489.5,187.4 490.0,187.6 490.5,187.7 491.0,187.9 491.5,188.0 492.0,188.1 492.5,188.3 493.0,188.4 493.5,188.5 494.0,188.6 494.5,188.8 495.0,188.9 495.5,189.0 496.0,189.1 496.5,189.2 497.0,189.3 497.5,189.4 498.0,189.5 498.5,189.6 499.0,189.7 499.5,189.7 500.0,189.8 500.5,189.9 501.0,190.0 501.5,190.1 502.0,190.2 502.5,190.3 503.0,190.4 503.5,190.5 504.0,190.5 504.5,190.6 505.0,190.7 505.5,190.8 506.0,190.9 506.5,190.9 507.0,191.0 507.5,191.1 508.0,191.2 508.5,191.2 509.0,191.3 509.5,191.4 510.0,191.4 510.5,191.5 511.0,191.5 511.5,191.6 512.0,191.7 512.5,191.7 513.0,191.7 513.5,191.8 514.0,191.8 514.5,191.9 515.0,191.9 515.5,192.0 516.0,192.0 516.5,192.0 517.0,192.1 517.5,192.1 518.0,192.1 518.5,192.2 519.0,192.2 519.5,192.3 520.0,192.3 520.5,192.3 521.0,192.4 521.5,192.4 522.0,192.4 522.5,192.5 523.0,192.5 523.5,192.5 524.0,192.6 524.5,192.6 525.0,192.6 525.5,192.7 526.0,192.7 526.5,192.7 527.0,192.8 527.5,192.8 528.0,192.8 528.5,192.8 529.0,192.9 529.5,192.9 530.0,192.9 530.5,192.9 531.0,193.0 531.5,193.0 532.0,193.0 532.5,193.0 533.0,193.0 533.5,193.1 534.0,193.1 534.5,193.1 535.0,193.1 535.5,193.1 536.0,193.1 536.5,193.1 537.0,193.2 537.5,193.2 538.0,193.2 538.5,193.2 539.0,193.2 539.5,193.2 540.0,193.2 540.5,193.2 541.0,193.2" fill="none" stroke="#6c6c6c" stroke-width="0.85" stroke-opacity="1.0" stroke-linejoin="round" stroke-linecap="round"/>
<polyline points="297.0,25.7 297.5,29.0 298.0,32.9 298.5,36.8 299.0,40.4 299.5,43.4 300.0,46.0 300.5,48.4 301.0,50.6 301.5,52.6 302.0,54.5 302.5,56.3 303.0,58.1 303.5,59.7 304.0,61.3 304.5,62.8 305.0,64.2 305.5,65.6 306.0,66.9 306.5,68.1 307.0,69.3 307.5,70.4 308.0,71.5 308.5,72.5 309.0,73.4 309.5,74.3 310.0,75.2 310.5,76.0 311.0,76.8 311.5,77.5 312.0,78.2 312.5,78.8 313.0,79.4 313.5,80.0 314.0,80.5 314.5,81.0 315.0,81.4 315.5,81.8 316.0,82.1 316.5,82.4 317.0,82.7 317.5,82.9 318.0,83.1 318.5,83.3 319.0,83.5 319.5,83.6 320.0,83.7 320.5,83.7 321.0,83.7 321.5,83.7 322.0,83.7 322.5,83.7 323.0,83.7 323.5,83.6 324.0,83.6 324.5,83.5 325.0,83.5 325.5,83.4 326.0,83.3 326.5,83.3 327.0,83.2 327.5,83.1 328.0,83.1 328.5,83.0 329.0,82.9 329.5,82.9 330.0,82.8 330.5,82.7 331.0,82.7 331.5,82.6 332.0,82.5 332.5,82.5 333.0,82.4 333.5,82.3 334.0,82.3 334.5,82.2 335.0,82.2 335.5,82.1 336.0,82.1 336.5,82.2 337.0,82.3 337.5,82.4 338.0,82.7 338.5,83.1 339.0,83.5 339.5,83.9 340.0,84.4 340.5,84.8 341.0,85.3 341.5,85.8 342.0,86.4 342.5,87.0 343.0,87.6 343.5,88.3 344.0,89.0 344.5,89.8 345.0,90.6 345.5,91.6 346.0,92.5 346.5,93.6 347.0,94.6 347.5,95.7 348.0,96.8 348.5,98.0 349.0,99.1 349.5,100.2 350.0,101.3 350.5,102.4 351.0,103.4 351.5,104.5 352.0,105.5 352.5,106.5 353.0,107.5 353.5,108.5 354.0,109.5 354.5,110.4 355.0,111.4 355.5,112.3 356.0,113.2 356.5,114.1 357.0,115.0 357.5,115.9 358.0,116.7 358.5,117.5 359.0,118.3 359.5,119.1 360.0,119.9 360.5,120.6 361.0,121.4 361.5,122.1 362.0,122.9 362.5,123.6 363.0,124.4 363.5,125.1 364.0,125.8 364.5,126.5 365.0,127.2 365.5,127.9 366.0,128.5 366.5,129.0 367.0,129.6 367.5,130.1 368.0,130.6 368.5,131.0 369.0,131.3 369.5,131.6 370.0,131.9 370.5,132.1 371.0,132.3 371.5,132.4 372.0,132.5 372.5,132.6 373.0,132.6 373.5,132.5 374.0,132.4 374.5,132.2 375.0,132.0 375.5,131.7 376.0,131.4 376.5,131.1 377.0,130.7 377.5,130.3 378.0,129.8 378.5,129.2 379.0,128.6 379.5,127.9 380.0,127.2 380.5,126.4 381.0,125.6 381.5,124.7 382.0,123.9 382.5,122.9 383.0,122.0 383.5,121.1 384.0,120.1 384.5,119.2 385.0,118.3 385.5,117.3 386.0,116.4 386.5,115.4 387.0,114.5 387.5,113.5 388.0,112.5 388.5,111.5 389.0,110.5 389.5,109.5 390.0,108.5 390.5,107.5 391.0,106.5 391.5,105.6 392.0,104.6 392.5,103.7 393.0,102.8 393.5,101.9 394.0,101.0 394.5,100.1 395.0,99.2 395.5,98.4 396.0,97.5 396.5,96.6 397.0,95.8 397.5,95.0 398.0,94.2 398.5,93.4 399.0,92.6 399.5,91.8 400.0,91.0 400.5,90.3 401.0,89.5 401.5,88.8 402.0,88.0 402.5,87.3 403.0,86.5 403.5,85.8 404.0,85.0 404.5,84.3 405.0,83.5 405.5,82.7 406.0,82.0 406.5,81.2 407.0,80.4 407.5,79.6 408.0,78.9 408.5,78.1 409.0,77.4 409.5,76.7 410.0,76.1 410.5,75.4 411.0,74.8 411.5,74.3 412.0,73.7 412.5,73.2 413.0,72.8 413.5,72.3 414.0,71.9 414.5,71.5 415.0,71.2 415.5,70.8 416.0,70.5 416.5,70.3 417.0,70.0 417.5,69.8 418.0,69.6 418.5,69.5 419.0,69.3 419.5,69.1 420.0,69.0 420.5,68.9 421.0,68.8 421.5,68.8 422.0,68.8 422.5,68.8 423.0,68.8 423.5,68.9 424.0,69.0 424.5,69.1 425.0,69.3 425.5,69.4 426.0,69.6 426.5,69.8 427.0,70.0 427.5,70.2 428.0,70.5 428.5,70.9 429.0,71.2 429.5,71.6 430.0,72.0 430.5,72.5 431.0,73.0 431.5,73.5 432.0,74.1 432.5,74.7 433.0,75.3 433.5,76.0 434.0,76.8 434.5,77.7 435.0,78.5 435.5,79.4 436.0,80.3 436.5,81.2 437.0,82.1 437.5,83.1 438.0,84.0 438.5,85.0 439.0,86.0 439.5,87.0 440.0,88.0 440.5,89.1 441.0,90.2 441.5,91.3 442.0,92.5 442.5,93.7 443.0,94.9 443.5,96.2 444.0,97.6 444.5,98.9 445.0,100.3 445.5,101.7 446.0,103.1 446.5,104.5 447.0,105.9 447.5,107.3 448.0,108.7 448.5,110.1 449.0,111.5 449.5,112.9 450.0,114.3 450.5,115.7 451.0,117.1 451.5,118.5 452.0,120.0 452.5,121.4 453.0,122.9 453.5,124.3 454.0,125.8 454.5,127.3 455.0,128.8 455.5,130.3 456.0,131.8 456.5,133.3 457.0,134.8 457.5,136.3 458.0,137.8 458.5,139.4 459.0,141.0 459.5,142.5 460.0,144.1 460.5,145.7 461.0,147.3 461.5,148.8 462.0,150.3 462.5,151.8 463.0,153.2 463.5,154.6 464.0,156.0 464.5,157.3 465.0,158.6 465.5,159.8 466.0,161.0 466.5,162.1 467.0,163.2 467.5,164.3 468.0,165.4 468.5,166.4 469.0,167.4 469.5,168.4 470.0,169.4 470.5,170.3 471.0,171.2 471.5,172.1 472.0,173.0 472.5,173.8 473.0,174.6 473.5,175.3 474.0,176.0 474.5,176.7 475.0,177.4 475.5,178.0 476.0,178.7 476.5,179.3 477.0,179.9 477.5,180.4 478.0,181.0 478.5,181.5 479.0,182.0 479.5,182.5 480.0,182.9 480.5,183.3 481.0,183.6 481.5,184.0 482.0,184.2 482.5,184.5 483.0,184.8 483.5,185.0 484.0,185.2 484.5,185.5 485.0,185.7 485.5,185.9 486.0,186.1 486.5,186.3 487.0,186.4 487.5,186.6 488.0,186.8 488.5,186.9 489.0,187.1 489.5,187.3 490.0,187.4 490.5,187.6 491.0,187.7 491.5,187.9 492.0,188.0 492.5,188.2 493.0,188.3 493.5,188.4 494.0,188.6 494.5,188.7 495.0,188.8 495.5,188.9 496.0,189.1 496.5,189.2 497.0,189.3 497.5,189.4 498.0,189.5 498.5,189.6 499.0,189.7 499.5,189.7 500.0,189.8 500.5,189.9 501.0,190.0 501.5,190.1 502.0,190.2 502.5,190.3 503.0,190.4 503.5,190.5 504.0,190.6 504.5,190.6 505.0,190.7 505.5,190.8 506.0,190.9 506.5,191.0 507.0,191.0 507.5,191.1 508.0,191.2 508.5,191.2 509.0,191.3 509.5,191.4 510.0,191.4 510.5,191.5 511.0,191.5 511.5,191.6 512.0,191.7 512.5,191.7 513.0,191.7 513.5,191.8 514.0,191.8 514.5,191.9 515.0,191.9 515.5,192.0 516.0,192.0 516.5,192.0 517.0,192.1 517.5,192.1 518.0,192.1 518.5,192.2 519.0,192.2 519.5,192.3 520.0,192.3 520.5,192.3 521.0,192.4 521.5,192.4 522.0,192.4 522.5,192.5 523.0,192.5 523.5,192.5 524.0,192.6 524.5,192.6 525.0,192.6 525.5,192.7 526.0,192.7 526.5,192.7 527.0,192.8 527.5,192.8 528.0,192.8 528.5,192.8 529.0,192.9 529.5,192.9 530.0,192.9 530.5,192.9 531.0,193.0 531.5,193.0 532.0,193.0 532.5,193.0 533.0,193.0 533.5,193.1 534.0,193.1 534.5,193.1 535.0,193.1 535.5,193.1 536.0,193.1 536.5,193.1 537.0,193.2 537.5,193.2 538.0,193.2 538.5,193.2 539.0,193.2 539.5,193.2 540.0,193.2 540.5,193.2 541.0,193.2" fill="none" stroke="#6c6c6c" stroke-width="0.85" stroke-opacity="1.0" stroke-linejoin="round" stroke-linecap="round"/>
<polyline points="297.0,23.7 297.5,27.2 298.0,31.3 298.5,35.4 299.0,39.1 299.5,42.2 300.0,44.9 300.5,47.2 301.0,49.4 301.5,51.5 302.0,53.5 302.5,55.3 303.0,57.1 303.5,58.8 304.0,60.4 304.5,62.0 305.0,63.4 305.5,64.8 306.0,66.2 306.5,67.5 307.0,68.7 307.5,69.9 308.0,71.0 308.5,72.0 309.0,73.1 309.5,74.0 310.0,74.9 310.5,75.8 311.0,76.6 311.5,77.4 312.0,78.2 312.5,78.9 313.0,79.6 313.5,80.2 314.0,80.8 314.5,81.3 315.0,81.8 315.5,82.2 316.0,82.6 316.5,82.9 317.0,83.2 317.5,83.5 318.0,83.7 318.5,83.9 319.0,84.1 319.5,84.3 320.0,84.4 320.5,84.4 321.0,84.5 321.5,84.5 322.0,84.5 322.5,84.5 323.0,84.5 323.5,84.4 324.0,84.4 324.5,84.4 325.0,84.4 325.5,84.3 326.0,84.3 326.5,84.2 327.0,84.2 327.5,84.1 328.0,84.1 328.5,84.0 329.0,84.0 329.5,83.9 330.0,83.9 330.5,83.9 331.0,83.8 331.5,83.7 332.0,83.7 332.5,83.6 333.0,83.6 333.5,83.5 334.0,83.5 334.5,83.5 335.0,83.4 335.5,83.4 336.0,83.4 336.5,83.5 337.0,83.6 337.5,83.8 338.0,84.1 338.5,84.5 339.0,84.9 339.5,85.4 340.0,85.9 340.5,86.4 341.0,87.0 341.5,87.5 342.0,88.1 342.5,88.8 343.0,89.4 343.5,90.2 344.0,91.0 344.5,91.8 345.0,92.7 345.5,93.7 346.0,94.7 346.5,95.8 347.0,96.9 347.5,98.1 348.0,99.2 348.5,100.4 349.0,101.5 349.5,102.7 350.0,103.8 350.5,104.9 351.0,106.0 351.5,107.0 352.0,108.1 352.5,109.1 353.0,110.1 353.5,111.1 354.0,112.1 354.5,113.0 355.0,114.0 355.5,114.9 356.0,115.8 356.5,116.7 357.0,117.6 357.5,118.4 358.0,119.3 358.5,120.0 359.0,120.8 359.5,121.6 360.0,122.3 360.5,123.0 361.0,123.8 361.5,124.5 362.0,125.2 362.5,125.9 363.0,126.6 363.5,127.3 364.0,128.0 364.5,128.6 365.0,129.2 365.5,129.8 366.0,130.4 366.5,130.9 367.0,131.4 367.5,131.8 368.0,132.2 368.5,132.6 369.0,132.8 369.5,133.1 370.0,133.2 370.5,133.4 371.0,133.5 371.5,133.5 372.0,133.5 372.5,133.5 373.0,133.4 373.5,133.2 374.0,133.0 374.5,132.7 375.0,132.4 375.5,132.1 376.0,131.7 376.5,131.2 377.0,130.8 377.5,130.3 378.0,129.7 378.5,129.0 379.0,128.3 379.5,127.5 380.0,126.7 380.5,125.8 381.0,124.9 381.5,123.9 382.0,123.0 382.5,121.9 383.0,120.9 383.5,119.9 384.0,118.9 384.5,117.9 385.0,116.8 385.5,115.8 386.0,114.8 386.5,113.8 387.0,112.8 387.5,111.7 388.0,110.7 388.5,109.6 389.0,108.6 389.5,107.5 390.0,106.5 390.5,105.4 391.0,104.4 391.5,103.4 392.0,102.4 392.5,101.4 393.0,100.4 393.5,99.5 394.0,98.5 394.5,97.6 395.0,96.6 395.5,95.7 396.0,94.8 396.5,93.9 397.0,93.0 397.5,92.1 398.0,91.3 398.5,90.4 399.0,89.6 399.5,88.8 400.0,87.9 400.5,87.1 401.0,86.3 401.5,85.5 402.0,84.7 402.5,83.9 403.0,83.2 403.5,82.4 404.0,81.6 404.5,80.8 405.0,79.9 405.5,79.1 406.0,78.3 406.5,77.5 407.0,76.6 407.5,75.8 408.0,75.0 408.5,74.2 409.0,73.5 409.5,72.7 410.0,72.0 410.5,71.4 411.0,70.7 411.5,70.1 412.0,69.6 412.5,69.0 413.0,68.5 413.5,68.1 414.0,67.6 414.5,67.2 415.0,66.8 415.5,66.5 416.0,66.1 416.5,65.9 417.0,65.6 417.5,65.4 418.0,65.2 418.5,65.0 419.0,64.8 419.5,64.7 420.0,64.5 420.5,64.4 421.0,64.3 421.5,64.3 422.0,64.3 422.5,64.3 423.0,64.3 423.5,64.4 424.0,64.5 424.5,64.6 425.0,64.7 425.5,64.9 426.0,65.1 426.5,65.3 427.0,65.5 427.5,65.8 428.0,66.1 428.5,66.4 429.0,66.8 429.5,67.2 430.0,67.6 430.5,68.1 431.0,68.6 431.5,69.1 432.0,69.7 432.5,70.3 433.0,71.0 433.5,71.8 434.0,72.6 434.5,73.5 435.0,74.4 435.5,75.3 436.0,76.3 436.5,77.2 437.0,78.2 437.5,79.1 438.0,80.1 438.5,81.1 439.0,82.2 439.5,83.2 440.0,84.3 440.5,85.4 441.0,86.5 441.5,87.7 442.0,88.9 442.5,90.2 443.0,91.5 443.5,92.9 444.0,94.3 444.5,95.7 445.0,97.2 445.5,98.6 446.0,100.0 446.5,101.5 447.0,103.0 447.5,104.5 448.0,105.9 448.5,107.4 449.0,108.8 449.5,110.3 450.0,111.7 450.5,113.1 451.0,114.5 451.5,116.0 452.0,117.4 452.5,118.9 453.0,120.4 453.5,121.9 454.0,123.3 454.5,124.8 455.0,126.3 455.5,127.8 456.0,129.3 456.5,130.8 457.0,132.3 457.5,133.9 458.0,135.4 458.5,137.0 459.0,138.7 459.5,140.3 460.0,141.9 460.5,143.6 461.0,145.2 461.5,146.8 462.0,148.3 462.5,149.8 463.0,151.3 463.5,152.8 464.0,154.2 464.5,155.6 465.0,156.9 465.5,158.2 466.0,159.4 466.5,160.6 467.0,161.8 467.5,162.9 468.0,164.0 468.5,165.0 469.0,166.1 469.5,167.1 470.0,168.1 470.5,169.1 471.0,170.0 471.5,170.9 472.0,171.8 472.5,172.7 473.0,173.5 473.5,174.3 474.0,175.1 474.5,175.8 475.0,176.5 475.5,177.2 476.0,177.9 476.5,178.5 477.0,179.2 477.5,179.8 478.0,180.4 478.5,180.9 479.0,181.5 479.5,182.0 480.0,182.4 480.5,182.8 481.0,183.2 481.5,183.6 482.0,183.9 482.5,184.2 483.0,184.4 483.5,184.7 484.0,184.9 484.5,185.2 485.0,185.4 485.5,185.6 486.0,185.8 486.5,186.0 487.0,186.2 487.5,186.4 488.0,186.6 488.5,186.7 489.0,186.9 489.5,187.1 490.0,187.2 490.5,187.4 491.0,187.6 491.5,187.7 492.0,187.9 492.5,188.1 493.0,188.2 493.5,188.4 494.0,188.5 494.5,188.6 495.0,188.8 495.5,188.9 496.0,189.0 496.5,189.1 497.0,189.2 497.5,189.3 498.0,189.4 498.5,189.5 499.0,189.6 499.5,189.7 500.0,189.8 500.5,189.9 501.0,190.0 501.5,190.1 502.0,190.2 502.5,190.3 503.0,190.4 503.5,190.5 504.0,190.6 504.5,190.6 505.0,190.7 505.5,190.8 506.0,190.9 506.5,191.0 507.0,191.0 507.5,191.1 508.0,191.2 508.5,191.2 509.0,191.3 509.5,191.4 510.0,191.4 510.5,191.5 511.0,191.6 511.5,191.6 512.0,191.7 512.5,191.7 513.0,191.7 513.5,191.8 514.0,191.8 514.5,191.9 515.0,191.9 515.5,192.0 516.0,192.0 516.5,192.0 517.0,192.1 517.5,192.1 518.0,192.1 518.5,192.2 519.0,192.2 519.5,192.3 520.0,192.3 520.5,192.3 521.0,192.4 521.5,192.4 522.0,192.4 522.5,192.5 523.0,192.5 523.5,192.5 524.0,192.6 524.5,192.6 525.0,192.6 525.5,192.7 526.0,192.7 526.5,192.7 527.0,192.8 527.5,192.8 528.0,192.8 528.5,192.8 529.0,192.9 529.5,192.9 530.0,192.9 530.5,192.9 531.0,193.0 531.5,193.0 532.0,193.0 532.5,193.0 533.0,193.0 533.5,193.1 534.0,193.1 534.5,193.1 535.0,193.1 535.5,193.1 536.0,193.1 536.5,193.1 537.0,193.2 537.5,193.2 538.0,193.2 538.5,193.2 539.0,193.2 539.5,193.2 540.0,193.2 540.5,193.2 541.0,193.2" fill="none" stroke="#6c6c6c" stroke-width="0.85" stroke-opacity="1.0" stroke-linejoin="round" stroke-linecap="round"/>
<polyline points="297.0,21.2 297.5,24.9 298.0,29.3 298.5,33.6 299.0,37.4 299.5,40.6 300.0,43.4 300.5,45.8 301.0,48.0 301.5,50.1 302.0,52.2 302.5,54.1 303.0,55.9 303.5,57.7 304.0,59.3 304.5,60.9 305.0,62.5 305.5,63.9 306.0,65.3 306.5,66.7 307.0,68.0 307.5,69.2 308.0,70.4 308.5,71.5 309.0,72.6 309.5,73.6 310.0,74.6 310.5,75.6 311.0,76.5 311.5,77.3 312.0,78.2 312.5,78.9 313.0,79.7 313.5,80.4 314.0,81.1 314.5,81.7 315.0,82.3 315.5,82.7 316.0,83.2 316.5,83.5 317.0,83.9 317.5,84.2 318.0,84.5 318.5,84.7 319.0,84.9 319.5,85.1 320.0,85.3 320.5,85.4 321.0,85.4 321.5,85.5 322.0,85.5 322.5,85.5 323.0,85.5 323.5,85.5 324.0,85.5 324.5,85.5 325.0,85.5 325.5,85.5 326.0,85.5 326.5,85.4 327.0,85.4 327.5,85.4 328.0,85.4 328.5,85.4 329.0,85.3 329.5,85.3 330.0,85.3 330.5,85.3 331.0,85.2 331.5,85.2 332.0,85.2 332.5,85.1 333.0,85.1 333.5,85.1 334.0,85.1 334.5,85.1 335.0,85.0 335.5,85.0 336.0,85.0 336.5,85.1 337.0,85.2 337.5,85.4 338.0,85.8 338.5,86.2 339.0,86.7 339.5,87.3 340.0,87.9 340.5,88.4 341.0,89.0 341.5,89.7 342.0,90.3 342.5,91.0 343.0,91.8 343.5,92.6 344.0,93.4 344.5,94.3 345.0,95.3 345.5,96.3 346.0,97.4 346.5,98.6 347.0,99.8 347.5,101.0 348.0,102.2 348.5,103.4 349.0,104.6 349.5,105.8 350.0,106.9 350.5,108.0 351.0,109.1 351.5,110.2 352.0,111.3 352.5,112.3 353.0,113.4 353.5,114.4 354.0,115.4 354.5,116.3 355.0,117.3 355.5,118.2 356.0,119.1 356.5,120.0 357.0,120.9 357.5,121.7 358.0,122.5 358.5,123.3 359.0,124.0 359.5,124.7 360.0,125.4 360.5,126.1 361.0,126.7 361.5,127.4 362.0,128.1 362.5,128.7 363.0,129.4 363.5,130.0 364.0,130.6 364.5,131.2 365.0,131.8 365.5,132.3 366.0,132.8 366.5,133.2 367.0,133.7 367.5,134.0 368.0,134.3 368.5,134.6 369.0,134.8 369.5,134.9 370.0,134.9 370.5,135.0 371.0,134.9 371.5,134.9 372.0,134.8 372.5,134.6 373.0,134.4 373.5,134.2 374.0,133.8 374.5,133.4 375.0,133.0 375.5,132.5 376.0,132.0 376.5,131.5 377.0,130.9 377.5,130.2 378.0,129.5 378.5,128.8 379.0,127.9 379.5,127.1 380.0,126.1 380.5,125.1 381.0,124.0 381.5,122.9 382.0,121.8 382.5,120.7 383.0,119.5 383.5,118.4 384.0,117.3 384.5,116.1 385.0,115.0 385.5,113.9 386.0,112.8 386.5,111.7 387.0,110.6 387.5,109.5 388.0,108.4 388.5,107.2 389.0,106.1 389.5,105.0 390.0,103.9 390.5,102.8 391.0,101.7 391.5,100.6 392.0,99.5 392.5,98.5 393.0,97.4 393.5,96.4 394.0,95.4 394.5,94.4 395.0,93.4 395.5,92.4 396.0,91.4 396.5,90.4 397.0,89.5 397.5,88.5 398.0,87.6 398.5,86.7 399.0,85.8 399.5,84.9 400.0,84.0 400.5,83.1 401.0,82.3 401.5,81.4 402.0,80.6 402.5,79.7 403.0,78.9 403.5,78.0 404.0,77.1 404.5,76.3 405.0,75.4 405.5,74.5 406.0,73.6 406.5,72.7 407.0,71.8 407.5,71.0 408.0,70.1 408.5,69.3 409.0,68.5 409.5,67.7 410.0,66.9 410.5,66.2 411.0,65.5 411.5,64.9 412.0,64.3 412.5,63.7 413.0,63.2 413.5,62.7 414.0,62.2 414.5,61.7 415.0,61.3 415.5,60.9 416.0,60.6 416.5,60.3 417.0,60.0 417.5,59.8 418.0,59.6 418.5,59.4 419.0,59.2 419.5,59.0 420.0,58.9 420.5,58.7 421.0,58.6 421.5,58.6 422.0,58.5 422.5,58.6 423.0,58.6 423.5,58.7 424.0,58.8 424.5,58.9 425.0,59.0 425.5,59.2 426.0,59.4 426.5,59.6 427.0,59.8 427.5,60.1 428.0,60.4 428.5,60.7 429.0,61.1 429.5,61.5 430.0,62.0 430.5,62.5 431.0,63.0 431.5,63.6 432.0,64.2 432.5,64.8 433.0,65.5 433.5,66.3 434.0,67.2 434.5,68.2 435.0,69.1 435.5,70.1 436.0,71.1 436.5,72.1 437.0,73.1 437.5,74.2 438.0,75.2 438.5,76.2 439.0,77.3 439.5,78.4 440.0,79.5 440.5,80.7 441.0,81.9 441.5,83.1 442.0,84.4 442.5,85.8 443.0,87.2 443.5,88.7 444.0,90.1 444.5,91.6 445.0,93.2 445.5,94.7 446.0,96.2 446.5,97.8 447.0,99.3 447.5,100.8 448.0,102.4 448.5,103.9 449.0,105.4 449.5,106.9 450.0,108.3 450.5,109.8 451.0,111.3 451.5,112.7 452.0,114.2 452.5,115.7 453.0,117.2 453.5,118.7 454.0,120.2 454.5,121.7 455.0,123.2 455.5,124.7 456.0,126.2 456.5,127.7 457.0,129.3 457.5,130.8 458.0,132.4 458.5,134.1 459.0,135.8 459.5,137.5 460.0,139.2 460.5,140.9 461.0,142.5 461.5,144.2 462.0,145.8 462.5,147.4 463.0,149.0 463.5,150.5 464.0,152.0 464.5,153.4 465.0,154.8 465.5,156.1 466.0,157.4 466.5,158.6 467.0,159.9 467.5,161.0 468.0,162.2 468.5,163.3 469.0,164.4 469.5,165.4 470.0,166.5 470.5,167.5 471.0,168.5 471.5,169.5 472.0,170.4 472.5,171.3 473.0,172.2 473.5,173.1 474.0,173.9 474.5,174.6 475.0,175.4 475.5,176.1 476.0,176.9 476.5,177.6 477.0,178.3 477.5,178.9 478.0,179.6 478.5,180.2 479.0,180.8 479.5,181.3 480.0,181.8 480.5,182.3 481.0,182.7 481.5,183.0 482.0,183.4 482.5,183.7 483.0,184.0 483.5,184.3 484.0,184.5 484.5,184.8 485.0,185.0 485.5,185.3 486.0,185.5 486.5,185.7 487.0,185.9 487.5,186.1 488.0,186.3 488.5,186.5 489.0,186.7 489.5,186.8 490.0,187.0 490.5,187.2 491.0,187.4 491.5,187.6 492.0,187.8 492.5,187.9 493.0,188.1 493.5,188.3 494.0,188.4 494.5,188.6 495.0,188.7 495.5,188.9 496.0,189.0 496.5,189.1 497.0,189.2 497.5,189.3 498.0,189.4 498.5,189.5 499.0,189.6 499.5,189.7 500.0,189.8 500.5,189.9 501.0,190.0 501.5,190.1 502.0,190.2 502.5,190.3 503.0,190.4 503.5,190.5 504.0,190.6 504.5,190.7 505.0,190.7 505.5,190.8 506.0,190.9 506.5,191.0 507.0,191.0 507.5,191.1 508.0,191.2 508.5,191.3 509.0,191.3 509.5,191.4 510.0,191.4 510.5,191.5 511.0,191.6 511.5,191.6 512.0,191.7 512.5,191.7 513.0,191.7 513.5,191.8 514.0,191.8 514.5,191.9 515.0,191.9 515.5,192.0 516.0,192.0 516.5,192.0 517.0,192.1 517.5,192.1 518.0,192.1 518.5,192.2 519.0,192.2 519.5,192.3 520.0,192.3 520.5,192.3 521.0,192.4 521.5,192.4 522.0,192.4 522.5,192.5 523.0,192.5 523.5,192.5 524.0,192.6 524.5,192.6 525.0,192.6 525.5,192.7 526.0,192.7 526.5,192.7 527.0,192.8 527.5,192.8 528.0,192.8 528.5,192.8 529.0,192.9 529.5,192.9 530.0,192.9 530.5,192.9 531.0,193.0 531.5,193.0 532.0,193.0 532.5,193.0 533.0,193.0 533.5,193.1 534.0,193.1 534.5,193.1 535.0,193.1 535.5,193.1 536.0,193.1 536.5,193.1 537.0,193.2 537.5,193.2 538.0,193.2 538.5,193.2 539.0,193.2 539.5,193.2 540.0,193.2 540.5,193.2 541.0,193.2" fill="none" stroke="#6c6c6c" stroke-width="0.85" stroke-opacity="1.0" stroke-linejoin="round" stroke-linecap="round"/>
<polyline points="297.0,19.9 297.5,23.7 298.0,28.3 298.5,32.8 299.0,36.6 299.5,39.9 300.0,42.6 300.5,45.1 301.0,47.3 301.5,49.5 302.0,51.5 302.5,53.5 303.0,55.3 303.5,57.1 304.0,58.8 304.5,60.4 305.0,62.0 305.5,63.5 306.0,64.9 306.5,66.3 307.0,67.6 307.5,68.9 308.0,70.1 308.5,71.3 309.0,72.4 309.5,73.4 310.0,74.5 310.5,75.5 311.0,76.4 311.5,77.3 312.0,78.2 312.5,79.0 313.0,79.8 313.5,80.6 314.0,81.3 314.5,81.9 315.0,82.5 315.5,83.0 316.0,83.4 316.5,83.8 317.0,84.2 317.5,84.5 318.0,84.8 318.5,85.1 319.0,85.3 319.5,85.5 320.0,85.7 320.5,85.8 321.0,85.9 321.5,85.9 322.0,86.0 322.5,86.0 323.0,86.0 323.5,86.0 324.0,86.0 324.5,86.0 325.0,86.0 325.5,86.0 326.0,86.0 326.5,86.0 327.0,86.0 327.5,86.0 328.0,86.0 328.5,86.0 329.0,86.0 329.5,86.0 330.0,85.9 330.5,85.9 331.0,85.9 331.5,85.9 332.0,85.9 332.5,85.9 333.0,85.9 333.5,85.8 334.0,85.8 334.5,85.8 335.0,85.8 335.5,85.8 336.0,85.8 336.5,85.9 337.0,86.0 337.5,86.3 338.0,86.6 338.5,87.1 339.0,87.6 339.5,88.2 340.0,88.8 340.5,89.4 341.0,90.0 341.5,90.7 342.0,91.4 342.5,92.1 343.0,92.9 343.5,93.7 344.0,94.6 344.5,95.5 345.0,96.5 345.5,97.6 346.0,98.7 346.5,99.9 347.0,101.2 347.5,102.4 348.0,103.7 348.5,104.9 349.0,106.1 349.5,107.3 350.0,108.4 350.5,109.5 351.0,110.7 351.5,111.8 352.0,112.8 352.5,113.9 353.0,114.9 353.5,115.9 354.0,116.9 354.5,117.9 355.0,118.9 355.5,119.8 356.0,120.7 356.5,121.6 357.0,122.5 357.5,123.3 358.0,124.1 358.5,124.8 359.0,125.5 359.5,126.2 360.0,126.9 360.5,127.5 361.0,128.2 361.5,128.8 362.0,129.5 362.5,130.1 363.0,130.7 363.5,131.3 364.0,131.9 364.5,132.5 365.0,133.0 365.5,133.5 366.0,134.0 366.5,134.4 367.0,134.8 367.5,135.1 368.0,135.4 368.5,135.6 369.0,135.7 369.5,135.8 370.0,135.8 370.5,135.7 371.0,135.7 371.5,135.5 372.0,135.4 372.5,135.2 373.0,134.9 373.5,134.6 374.0,134.2 374.5,133.7 375.0,133.2 375.5,132.7 376.0,132.2 376.5,131.6 377.0,130.9 377.5,130.2 378.0,129.5 378.5,128.7 379.0,127.8 379.5,126.8 380.0,125.8 380.5,124.7 381.0,123.6 381.5,122.4 382.0,121.3 382.5,120.1 383.0,118.9 383.5,117.7 384.0,116.5 384.5,115.3 385.0,114.1 385.5,113.0 386.0,111.9 386.5,110.7 387.0,109.6 387.5,108.4 388.0,107.2 388.5,106.1 389.0,104.9 389.5,103.8 390.0,102.6 390.5,101.5 391.0,100.4 391.5,99.3 392.0,98.2 392.5,97.1 393.0,96.0 393.5,94.9 394.0,93.9 394.5,92.8 395.0,91.8 395.5,90.7 396.0,89.7 396.5,88.7 397.0,87.7 397.5,86.8 398.0,85.8 398.5,84.9 399.0,83.9 399.5,83.0 400.0,82.1 400.5,81.2 401.0,80.3 401.5,79.4 402.0,78.5 402.5,77.7 403.0,76.8 403.5,75.9 404.0,75.0 404.5,74.1 405.0,73.2 405.5,72.3 406.0,71.4 406.5,70.4 407.0,69.5 407.5,68.6 408.0,67.7 408.5,66.9 409.0,66.0 409.5,65.2 410.0,64.4 410.5,63.7 411.0,63.0 411.5,62.3 412.0,61.7 412.5,61.1 413.0,60.6 413.5,60.0 414.0,59.5 414.5,59.1 415.0,58.6 415.5,58.2 416.0,57.9 416.5,57.6 417.0,57.3 417.5,57.1 418.0,56.8 418.5,56.6 419.0,56.5 419.5,56.3 420.0,56.1 420.5,56.0 421.0,55.9 421.5,55.8 422.0,55.8 422.5,55.8 423.0,55.8 423.5,55.9 424.0,56.0 424.5,56.1 425.0,56.3 425.5,56.4 426.0,56.6 426.5,56.8 427.0,57.1 427.5,57.3 428.0,57.6 428.5,58.0 429.0,58.3 429.5,58.8 430.0,59.2 430.5,59.8 431.0,60.3 431.5,60.9 432.0,61.5 432.5,62.2 433.0,62.9 433.5,63.7 434.0,64.6 434.5,65.6 435.0,66.6 435.5,67.6 436.0,68.7 436.5,69.7 437.0,70.7 437.5,71.8 438.0,72.8 438.5,73.9 439.0,75.0 439.5,76.1 440.0,77.2 440.5,78.4 441.0,79.7 441.5,80.9 442.0,82.3 442.5,83.7 443.0,85.1 443.5,86.6 444.0,88.1 444.5,89.7 445.0,91.2 445.5,92.8 446.0,94.4 446.5,95.9 447.0,97.5 447.5,99.1 448.0,100.7 448.5,102.2 449.0,103.7 449.5,105.2 450.0,106.7 450.5,108.2 451.0,109.7 451.5,111.2 452.0,112.7 452.5,114.2 453.0,115.7 453.5,117.2 454.0,118.7 454.5,120.2 455.0,121.7 455.5,123.2 456.0,124.7 456.5,126.2 457.0,127.8 457.5,129.4 458.0,131.0 458.5,132.7 459.0,134.4 459.5,136.1 460.0,137.8 460.5,139.5 461.0,141.3 461.5,142.9 462.0,144.6 462.5,146.2 463.0,147.8 463.5,149.4 464.0,150.9 464.5,152.4 465.0,153.8 465.5,155.1 466.0,156.4 466.5,157.7 467.0,158.9 467.5,160.1 468.0,161.3 468.5,162.4 469.0,163.6 469.5,164.6 470.0,165.7 470.5,166.7 471.0,167.8 471.5,168.8 472.0,169.7 472.5,170.7 473.0,171.6 473.5,172.4 474.0,173.3 474.5,174.1 475.0,174.9 475.5,175.6 476.0,176.4 476.5,177.1 477.0,177.8 477.5,178.5 478.0,179.2 478.5,179.9 479.0,180.5 479.5,181.0 480.0,181.5 480.5,182.0 481.0,182.4 481.5,182.8 482.0,183.1 482.5,183.5 483.0,183.8 483.5,184.1 484.0,184.3 484.5,184.6 485.0,184.8 485.5,185.1 486.0,185.3 486.5,185.5 487.0,185.7 487.5,185.9 488.0,186.2 488.5,186.3 489.0,186.5 489.5,186.7 490.0,186.9 490.5,187.1 491.0,187.3 491.5,187.5 492.0,187.7 492.5,187.9 493.0,188.0 493.5,188.2 494.0,188.4 494.5,188.5 495.0,188.7 495.5,188.8 496.0,189.0 496.5,189.1 497.0,189.2 497.5,189.3 498.0,189.4 498.5,189.5 499.0,189.6 499.5,189.7 500.0,189.8 500.5,189.9 501.0,190.0 501.5,190.1 502.0,190.2 502.5,190.3 503.0,190.4 503.5,190.5 504.0,190.6 504.5,190.7 505.0,190.7 505.5,190.8 506.0,190.9 506.5,191.0 507.0,191.1 507.5,191.1 508.0,191.2 508.5,191.3 509.0,191.3 509.5,191.4 510.0,191.4 510.5,191.5 511.0,191.6 511.5,191.6 512.0,191.7 512.5,191.7 513.0,191.7 513.5,191.8 514.0,191.8 514.5,191.9 515.0,191.9 515.5,192.0 516.0,192.0 516.5,192.0 517.0,192.1 517.5,192.1 518.0,192.1 518.5,192.2 519.0,192.2 519.5,192.3 520.0,192.3 520.5,192.3 521.0,192.4 521.5,192.4 522.0,192.4 522.5,192.5 523.0,192.5 523.5,192.5 524.0,192.6 524.5,192.6 525.0,192.6 525.5,192.7 526.0,192.7 526.5,192.7 527.0,192.8 527.5,192.8 528.0,192.8 528.5,192.8 529.0,192.9 529.5,192.9 530.0,192.9 530.5,192.9 531.0,193.0 531.5,193.0 532.0,193.0 532.5,193.0 533.0,193.0 533.5,193.1 534.0,193.1 534.5,193.1 535.0,193.1 535.5,193.1 536.0,193.1 536.5,193.1 537.0,193.2 537.5,193.2 538.0,193.2 538.5,193.2 539.0,193.2 539.5,193.2 540.0,193.2 540.5,193.2 541.0,193.2" fill="none" stroke="#6c6c6c" stroke-width="0.85" stroke-opacity="1.0" stroke-linejoin="round" stroke-linecap="round"/>
<polyline points="297.0,18.4 297.5,22.3 298.0,27.0 298.5,31.6 299.0,35.6 299.5,38.9 300.0,41.7 300.5,44.2 301.0,46.5 301.5,48.6 302.0,50.7 302.5,52.7 303.0,54.6 303.5,56.4 304.0,58.1 304.5,59.8 305.0,61.4 305.5,62.9 306.0,64.4 306.5,65.8 307.0,67.2 307.5,68.5 308.0,69.7 308.5,70.9 309.0,72.1 309.5,73.2 310.0,74.3 310.5,75.3 311.0,76.3 311.5,77.2 312.0,78.1 312.5,79.0 313.0,79.9 313.5,80.7 314.0,81.5 314.5,82.2 315.0,82.8 315.5,83.3 316.0,83.8 316.5,84.2 317.0,84.6 317.5,85.0 318.0,85.3 318.5,85.6 319.0,85.8 319.5,86.1 320.0,86.2 320.5,86.4 321.0,86.5 321.5,86.5 322.0,86.6 322.5,86.6 323.0,86.6 323.5,86.7 324.0,86.7 324.5,86.7 325.0,86.7 325.5,86.7 326.0,86.8 326.5,86.8 327.0,86.8 327.5,86.8 328.0,86.8 328.5,86.8 329.0,86.8 329.5,86.8 330.0,86.8 330.5,86.8 331.0,86.8 331.5,86.8 332.0,86.8 332.5,86.8 333.0,86.8 333.5,86.8 334.0,86.8 334.5,86.8 335.0,86.8 335.5,86.8 336.0,86.8 336.5,86.9 337.0,87.0 337.5,87.3 338.0,87.7 338.5,88.2 339.0,88.8 339.5,89.4 340.0,90.0 340.5,90.6 341.0,91.3 341.5,92.0 342.0,92.8 342.5,93.5 343.0,94.4 343.5,95.2 344.0,96.1 344.5,97.1 345.0,98.1 345.5,99.3 346.0,100.4 346.5,101.7 347.0,103.0 347.5,104.3 348.0,105.5 348.5,106.8 349.0,108.0 349.5,109.2 350.0,110.3 350.5,111.5 351.0,112.6 351.5,113.7 352.0,114.8 352.5,115.9 353.0,117.0 353.5,118.0 354.0,119.0 354.5,120.0 355.0,120.9 355.5,121.8 356.0,122.8 356.5,123.6 357.0,124.5 357.5,125.3 358.0,126.1 358.5,126.8 359.0,127.5 359.5,128.2 360.0,128.8 360.5,129.4 361.0,130.0 361.5,130.6 362.0,131.2 362.5,131.8 363.0,132.4 363.5,133.0 364.0,133.6 364.5,134.1 365.0,134.6 365.5,135.1 366.0,135.5 366.5,135.8 367.0,136.2 367.5,136.4 368.0,136.7 368.5,136.8 369.0,136.9 369.5,136.9 370.0,136.8 370.5,136.7 371.0,136.6 371.5,136.4 372.0,136.2 372.5,135.9 373.0,135.6 373.5,135.2 374.0,134.7 374.5,134.2 375.0,133.6 375.5,133.0 376.0,132.4 376.5,131.7 377.0,131.0 377.5,130.2 378.0,129.4 378.5,128.5 379.0,127.5 379.5,126.5 380.0,125.4 380.5,124.2 381.0,123.0 381.5,121.8 382.0,120.6 382.5,119.3 383.0,118.0 383.5,116.7 384.0,115.5 384.5,114.2 385.0,113.0 385.5,111.8 386.0,110.6 386.5,109.4 387.0,108.2 387.5,107.0 388.0,105.8 388.5,104.6 389.0,103.4 389.5,102.2 390.0,101.0 390.5,99.9 391.0,98.7 391.5,97.5 392.0,96.4 392.5,95.3 393.0,94.1 393.5,93.0 394.0,91.9 394.5,90.8 395.0,89.7 395.5,88.7 396.0,87.6 396.5,86.6 397.0,85.5 397.5,84.5 398.0,83.5 398.5,82.5 399.0,81.6 399.5,80.6 400.0,79.7 400.5,78.7 401.0,77.8 401.5,76.9 402.0,75.9 402.5,75.0 403.0,74.1 403.5,73.2 404.0,72.3 404.5,71.3 405.0,70.4 405.5,69.4 406.0,68.5 406.5,67.5 407.0,66.6 407.5,65.6 408.0,64.7 408.5,63.8 409.0,62.9 409.5,62.1 410.0,61.3 410.5,60.5 411.0,59.7 411.5,59.1 412.0,58.4 412.5,57.8 413.0,57.2 413.5,56.7 414.0,56.2 414.5,55.7 415.0,55.2 415.5,54.8 416.0,54.4 416.5,54.1 417.0,53.8 417.5,53.6 418.0,53.4 418.5,53.2 419.0,53.0 419.5,52.8 420.0,52.6 420.5,52.5 421.0,52.4 421.5,52.3 422.0,52.3 422.5,52.3 423.0,52.3 423.5,52.4 424.0,52.5 424.5,52.6 425.0,52.7 425.5,52.9 426.0,53.1 426.5,53.3 427.0,53.5 427.5,53.8 428.0,54.1 428.5,54.4 429.0,54.8 429.5,55.3 430.0,55.8 430.5,56.3 431.0,56.8 431.5,57.4 432.0,58.1 432.5,58.7 433.0,59.5 433.5,60.4 434.0,61.3 434.5,62.3 435.0,63.4 435.5,64.4 436.0,65.5 436.5,66.5 437.0,67.6 437.5,68.7 438.0,69.7 438.5,70.8 439.0,72.0 439.5,73.1 440.0,74.3 440.5,75.5 441.0,76.8 441.5,78.1 442.0,79.5 442.5,80.9 443.0,82.4 443.5,84.0 444.0,85.6 444.5,87.2 445.0,88.8 445.5,90.4 446.0,92.0 446.5,93.6 447.0,95.2 447.5,96.9 448.0,98.5 448.5,100.0 449.0,101.6 449.5,103.1 450.0,104.6 450.5,106.2 451.0,107.7 451.5,109.2 452.0,110.7 452.5,112.2 453.0,113.7 453.5,115.2 454.0,116.7 454.5,118.2 455.0,119.7 455.5,121.2 456.0,122.8 456.5,124.3 457.0,125.9 457.5,127.5 458.0,129.1 458.5,130.8 459.0,132.6 459.5,134.3 460.0,136.1 460.5,137.9 461.0,139.6 461.5,141.3 462.0,143.0 462.5,144.7 463.0,146.4 463.5,148.0 464.0,149.5 464.5,151.0 465.0,152.5 465.5,153.8 466.0,155.2 466.5,156.5 467.0,157.8 467.5,159.0 468.0,160.2 468.5,161.4 469.0,162.5 469.5,163.6 470.0,164.7 470.5,165.8 471.0,166.8 471.5,167.9 472.0,168.9 472.5,169.8 473.0,170.8 473.5,171.7 474.0,172.5 474.5,173.4 475.0,174.2 475.5,175.0 476.0,175.8 476.5,176.5 477.0,177.3 477.5,178.0 478.0,178.7 478.5,179.4 479.0,180.0 479.5,180.6 480.0,181.2 480.5,181.6 481.0,182.1 481.5,182.5 482.0,182.8 482.5,183.2 483.0,183.5 483.5,183.8 484.0,184.1 484.5,184.4 485.0,184.6 485.5,184.9 486.0,185.1 486.5,185.3 487.0,185.6 487.5,185.8 488.0,186.0 488.5,186.2 489.0,186.4 489.5,186.6 490.0,186.8 490.5,187.0 491.0,187.2 491.5,187.4 492.0,187.6 492.5,187.8 493.0,188.0 493.5,188.2 494.0,188.3 494.5,188.5 495.0,188.6 495.5,188.8 496.0,188.9 496.5,189.1 497.0,189.2 497.5,189.3 498.0,189.4 498.5,189.5 499.0,189.6 499.5,189.7 500.0,189.8 500.5,189.9 501.0,190.0 501.5,190.1 502.0,190.2 502.5,190.3 503.0,190.4 503.5,190.5 504.0,190.6 504.5,190.7 505.0,190.8 505.5,190.8 506.0,190.9 506.5,191.0 507.0,191.1 507.5,191.1 508.0,191.2 508.5,191.3 509.0,191.3 509.5,191.4 510.0,191.4 510.5,191.5 511.0,191.6 511.5,191.6 512.0,191.7 512.5,191.7 513.0,191.7 513.5,191.8 514.0,191.8 514.5,191.9 515.0,191.9 515.5,192.0 516.0,192.0 516.5,192.0 517.0,192.1 517.5,192.1 518.0,192.1 518.5,192.2 519.0,192.2 519.5,192.3 520.0,192.3 520.5,192.3 521.0,192.4 521.5,192.4 522.0,192.4 522.5,192.5 523.0,192.5 523.5,192.5 524.0,192.6 524.5,192.6 525.0,192.6 525.5,192.7 526.0,192.7 526.5,192.7 527.0,192.8 527.5,192.8 528.0,192.8 528.5,192.8 529.0,192.9 529.5,192.9 530.0,192.9 530.5,192.9 531.0,193.0 531.5,193.0 532.0,193.0 532.5,193.0 533.0,193.0 533.5,193.1 534.0,193.1 534.5,193.1 535.0,193.1 535.5,193.1 536.0,193.1 536.5,193.1 537.0,193.2 537.5,193.2 538.0,193.2 538.5,193.2 539.0,193.2 539.5,193.2 540.0,193.2 540.5,193.2 541.0,193.2" fill="none" stroke="#eeb0b7" stroke-width="1.6" stroke-opacity="1.0" stroke-linejoin="round" stroke-linecap="round"/>
<polyline points="297.0,18.4 297.5,22.3 298.0,27.0 298.5,31.6 299.0,35.6 299.5,38.9 300.0,41.7 300.5,44.2 301.0,46.5 301.5,48.6 302.0,50.7 302.5,52.7 303.0,54.6 303.5,56.4 304.0,58.1 304.5,59.8 305.0,61.4 305.5,62.9 306.0,64.4 306.5,65.8 307.0,67.2 307.5,68.5 308.0,69.7 308.5,70.9 309.0,72.1 309.5,73.2 310.0,74.3 310.5,75.3 311.0,76.3 311.5,77.2 312.0,78.1 312.5,79.0 313.0,79.9 313.5,80.7 314.0,81.5 314.5,82.2 315.0,82.8 315.5,83.3 316.0,83.8 316.5,84.2 317.0,84.6 317.5,85.0 318.0,85.3 318.5,85.6 319.0,85.8 319.5,86.1 320.0,86.2 320.5,86.4 321.0,86.5 321.5,86.5 322.0,86.6 322.5,86.6 323.0,86.6 323.5,86.7 324.0,86.7 324.5,86.7 325.0,86.7 325.5,86.7 326.0,86.8 326.5,86.8 327.0,86.8 327.5,86.8 328.0,86.8 328.5,86.8 329.0,86.8 329.5,86.8 330.0,86.8 330.5,86.8 331.0,86.8 331.5,86.8 332.0,86.8 332.5,86.8 333.0,86.8 333.5,86.8 334.0,86.8 334.5,86.8 335.0,86.8 335.5,86.8 336.0,86.8 336.5,86.9 337.0,87.0 337.5,87.3 338.0,87.7 338.5,88.2 339.0,88.8 339.5,89.4 340.0,90.0 340.5,90.6 341.0,91.3 341.5,92.0 342.0,92.8 342.5,93.5 343.0,94.4 343.5,95.2 344.0,96.1 344.5,97.1 345.0,98.1 345.5,99.3 346.0,100.4 346.5,101.7 347.0,103.0 347.5,104.3 348.0,105.5 348.5,106.8 349.0,108.0 349.5,109.2 350.0,110.3 350.5,111.5 351.0,112.6 351.5,113.7 352.0,114.8 352.5,115.9 353.0,117.0 353.5,118.0 354.0,119.0 354.5,120.0 355.0,120.9 355.5,121.8 356.0,122.8 356.5,123.6 357.0,124.5 357.5,125.3 358.0,126.1 358.5,126.8 359.0,127.5 359.5,128.2 360.0,128.8 360.5,129.4 361.0,130.0 361.5,130.6 362.0,131.2 362.5,131.8 363.0,132.4 363.5,133.0 364.0,133.6 364.5,134.1 365.0,134.6 365.5,135.1 366.0,135.5 366.5,135.8 367.0,136.2 367.5,136.4 368.0,136.7 368.5,136.8 369.0,136.9 369.5,136.9 370.0,136.8 370.5,136.7 371.0,136.6 371.5,136.4 372.0,136.2 372.5,135.9 373.0,135.6 373.5,135.2 374.0,134.7 374.5,134.2 375.0,133.6 375.5,133.0 376.0,132.4 376.5,131.7 377.0,131.0 377.5,130.2 378.0,129.4 378.5,128.5 379.0,127.5 379.5,126.5 380.0,125.4 380.5,124.2 381.0,123.0 381.5,121.8 382.0,120.6 382.5,119.3 383.0,118.0 383.5,116.7 384.0,115.5 384.5,114.2 385.0,113.0 385.5,111.8 386.0,110.6 386.5,109.4 387.0,108.2 387.5,107.0 388.0,105.8 388.5,104.6 389.0,103.4 389.5,102.2 390.0,101.0 390.5,99.9 391.0,98.7 391.5,97.5 392.0,96.4 392.5,95.3 393.0,94.1 393.5,93.0 394.0,91.9 394.5,90.8 395.0,89.7 395.5,88.7 396.0,87.6 396.5,86.6 397.0,85.5 397.5,84.5 398.0,83.5 398.5,82.5 399.0,81.6 399.5,80.6 400.0,79.7 400.5,78.7 401.0,77.8 401.5,76.9 402.0,75.9 402.5,75.0 403.0,74.1 403.5,73.2 404.0,72.3 404.5,71.3 405.0,70.4 405.5,69.4 406.0,68.5 406.5,67.5 407.0,66.6 407.5,65.6 408.0,64.7 408.5,63.8 409.0,62.9 409.5,62.1 410.0,61.3 410.5,60.5 411.0,59.7 411.5,59.1 412.0,58.4 412.5,57.8 413.0,57.2 413.5,56.7 414.0,56.2 414.5,55.7 415.0,55.2 415.5,54.8 416.0,54.4 416.5,54.1 417.0,53.8 417.5,53.6 418.0,53.4 418.5,53.2 419.0,53.0 419.5,52.8 420.0,52.6 420.5,52.5 421.0,52.4 421.5,52.3 422.0,52.3 422.5,52.3 423.0,52.3 423.5,52.4 424.0,52.5 424.5,52.6 425.0,52.7 425.5,52.9 426.0,53.1 426.5,53.3 427.0,53.5 427.5,53.8 428.0,54.1 428.5,54.4 429.0,54.8 429.5,55.3 430.0,55.8 430.5,56.3 431.0,56.8 431.5,57.4 432.0,58.1 432.5,58.7 433.0,59.5 433.5,60.4 434.0,61.3 434.5,62.3 435.0,63.4 435.5,64.4 436.0,65.5 436.5,66.5 437.0,67.6 437.5,68.7 438.0,69.7 438.5,70.8 439.0,72.0 439.5,73.1 440.0,74.3 440.5,75.5 441.0,76.8 441.5,78.1 442.0,79.5 442.5,80.9 443.0,82.4 443.5,84.0 444.0,85.6 444.5,87.2 445.0,88.8 445.5,90.4 446.0,92.0 446.5,93.6 447.0,95.2 447.5,96.9 448.0,98.5 448.5,100.0 449.0,101.6 449.5,103.1 450.0,104.6 450.5,106.2 451.0,107.7 451.5,109.2 452.0,110.7 452.5,112.2 453.0,113.7 453.5,115.2 454.0,116.7 454.5,118.2 455.0,119.7 455.5,121.2 456.0,122.8 456.5,124.3 457.0,125.9 457.5,127.5 458.0,129.1 458.5,130.8 459.0,132.6 459.5,134.3 460.0,136.1 460.5,137.9 461.0,139.6 461.5,141.3 462.0,143.0 462.5,144.7 463.0,146.4 463.5,148.0 464.0,149.5 464.5,151.0 465.0,152.5 465.5,153.8 466.0,155.2 466.5,156.5 467.0,157.8 467.5,159.0 468.0,160.2 468.5,161.4 469.0,162.5 469.5,163.6 470.0,164.7 470.5,165.8 471.0,166.8 471.5,167.9 472.0,168.9 472.5,169.8 473.0,170.8 473.5,171.7 474.0,172.5 474.5,173.4 475.0,174.2 475.5,175.0 476.0,175.8 476.5,176.5 477.0,177.3 477.5,178.0 478.0,178.7 478.5,179.4 479.0,180.0 479.5,180.6 480.0,181.2 480.5,181.6 481.0,182.1 481.5,182.5 482.0,182.8 482.5,183.2 483.0,183.5 483.5,183.8 484.0,184.1 484.5,184.4 485.0,184.6 485.5,184.9 486.0,185.1 486.5,185.3 487.0,185.6 487.5,185.8 488.0,186.0 488.5,186.2 489.0,186.4 489.5,186.6 490.0,186.8 490.5,187.0 491.0,187.2 491.5,187.4 492.0,187.6 492.5,187.8 493.0,188.0 493.5,188.2 494.0,188.3 494.5,188.5 495.0,188.6 495.5,188.8 496.0,188.9 496.5,189.1 497.0,189.2 497.5,189.3 498.0,189.4 498.5,189.5 499.0,189.6 499.5,189.7 500.0,189.8 500.5,189.9 501.0,190.0 501.5,190.1 502.0,190.2 502.5,190.3 503.0,190.4 503.5,190.5 504.0,190.6 504.5,190.7 505.0,190.8 505.5,190.8 506.0,190.9 506.5,191.0 507.0,191.1 507.5,191.1 508.0,191.2 508.5,191.3 509.0,191.3 509.5,191.4 510.0,191.4 510.5,191.5 511.0,191.6 511.5,191.6 512.0,191.7 512.5,191.7 513.0,191.7 513.5,191.8 514.0,191.8 514.5,191.9 515.0,191.9 515.5,192.0 516.0,192.0 516.5,192.0 517.0,192.1 517.5,192.1 518.0,192.1 518.5,192.2 519.0,192.2 519.5,192.3 520.0,192.3 520.5,192.3 521.0,192.4 521.5,192.4 522.0,192.4 522.5,192.5 523.0,192.5 523.5,192.5 524.0,192.6 524.5,192.6 525.0,192.6 525.5,192.7 526.0,192.7 526.5,192.7 527.0,192.8 527.5,192.8 528.0,192.8 528.5,192.8 529.0,192.9 529.5,192.9 530.0,192.9 530.5,192.9 531.0,193.0 531.5,193.0 532.0,193.0 532.5,193.0 533.0,193.0 533.5,193.1 534.0,193.1 534.5,193.1 535.0,193.1 535.5,193.1 536.0,193.1 536.5,193.1 537.0,193.2 537.5,193.2 538.0,193.2 538.5,193.2 539.0,193.2 539.5,193.2 540.0,193.2 540.5,193.2 541.0,193.2" fill="none" stroke="#a86a72" stroke-width="0.55" stroke-opacity="0.7" stroke-linejoin="round" stroke-linecap="round"/>
<polyline points="297.0,18.4 297.5,22.3 298.0,27.0 298.5,31.6 299.0,35.6 299.5,38.9 300.0,41.7 300.5,44.2 301.0,46.4 301.5,48.6 302.0,50.6 302.5,52.5 303.0,54.3 303.5,56.0 304.0,57.7 304.5,59.3 305.0,60.9 305.5,62.5 306.0,64.0 306.5,65.5 307.0,66.9 307.5,68.3 308.0,69.7 308.5,70.9 309.0,72.2 309.5,73.3 310.0,74.4 310.5,75.3 311.0,76.2 311.5,77.0 312.0,77.8 312.5,78.4 313.0,79.0 313.5,79.5 314.0,80.0 314.5,80.4 315.0,80.7 315.5,81.0 316.0,81.3 316.5,81.5 317.0,81.7 317.5,81.9 318.0,82.1 318.5,82.2 319.0,82.4 319.5,82.5 320.0,82.6 320.5,82.7 321.0,82.8 321.5,82.9 322.0,82.9 322.5,83.0 323.0,83.0 323.5,83.1 324.0,83.1 324.5,83.2 325.0,83.2 325.5,83.3 326.0,83.3 326.5,83.3 327.0,83.3 327.5,83.4 328.0,83.4 328.5,83.4 329.0,83.4 329.5,83.4 330.0,83.4 330.5,83.3 331.0,83.3 331.5,83.2 332.0,83.2 332.5,83.1 333.0,83.1 333.5,83.0 334.0,83.0 334.5,82.9 335.0,82.9 335.5,82.9 336.0,82.8 336.5,82.8 337.0,82.9 337.5,83.0 338.0,83.1 338.5,83.3 339.0,83.6 339.5,83.9 340.0,84.2 340.5,84.5 341.0,84.8 341.5,85.2 342.0,85.6 342.5,86.1 343.0,86.6 343.5,87.1 344.0,87.7 344.5,88.4 345.0,89.1 345.5,89.9 346.0,90.8 346.5,91.7 347.0,92.7 347.5,93.8 348.0,94.9" fill="none" stroke="#111" stroke-width="1.4" stroke-opacity="1.0" stroke-linejoin="round" stroke-linecap="round"/>
<polyline points="347.0,92.7 347.5,93.8 348.0,94.9 348.5,96.0 349.0,97.1 349.5,98.2 350.0,99.3 350.5,100.4 351.0,101.5 351.5,102.5 352.0,103.5 352.5,104.6 353.0,105.6 353.5,106.6 354.0,107.6 354.5,108.6 355.0,109.6 355.5,110.6 356.0,111.5 356.5,112.4 357.0,113.3 357.5,114.2 358.0,115.0 358.5,115.9 359.0,116.7 359.5,117.5 360.0,118.3 360.5,119.1 361.0,119.8 361.5,120.6 362.0,121.3 362.5,122.0 363.0,122.7 363.5,123.3 364.0,124.0 364.5,124.7 365.0,125.4 365.5,126.0 366.0,126.6 366.5,127.2 367.0,127.8 367.5,128.3 368.0,128.7 368.5,129.1 369.0,129.5 369.5,129.8 370.0,130.1 370.5,130.3 371.0,130.6 371.5,130.8 372.0,131.0 372.5,131.2 373.0,131.3 373.5,131.4 374.0,131.4 374.5,131.4 375.0,131.4 375.5,131.2 376.0,131.1 376.5,130.9 377.0,130.7 377.5,130.4 378.0,130.2 378.5,130.0" fill="none" stroke="#333" stroke-width="1.0" stroke-opacity="1.0" stroke-linejoin="round" stroke-linecap="round"/>
<defs><linearGradient id="g455" gradientUnits="userSpaceOnUse" x1="455" y1="0" x2="467" y2="0"><stop offset="0" stop-color="#2a2a2a" stop-opacity="0"/><stop offset="1" stop-color="#2a2a2a" stop-opacity="1"/></linearGradient></defs>
<polyline points="455.0,123.7 455.5,125.2 456.0,126.7 456.5,128.2 457.0,129.8 457.5,131.4 458.0,133.0 458.5,134.6 459.0,136.2 459.5,137.9 460.0,139.6 460.5,141.3 461.0,143.0 461.5,144.6 462.0,146.2 462.5,147.8 463.0,149.4 463.5,150.9 464.0,152.4 464.5,153.8 465.0,155.1 465.5,156.5 466.0,157.7 466.5,159.0 467.0,160.2 467.5,161.3 468.0,162.5 468.5,163.6 469.0,164.7 469.5,165.7 470.0,166.8 470.5,167.8 471.0,168.8 471.5,169.7 472.0,170.7 472.5,171.6 473.0,172.4 473.5,173.3 474.0,174.1 474.5,174.8 475.0,175.6 475.5,176.3 476.0,177.0 476.5,177.7 477.0,178.4 477.5,179.1 478.0,179.7 478.5,180.3 479.0,180.9 479.5,181.4 480.0,181.9 480.5,182.4 481.0,182.8 481.5,183.1 482.0,183.5 482.5,183.8 483.0,184.1 483.5,184.3 484.0,184.6 484.5,184.8 485.0,185.1 485.5,185.3 486.0,185.5 486.5,185.7 487.0,185.9 487.5,186.1 488.0,186.3 488.5,186.5 489.0,186.7 489.5,186.9 490.0,187.1" fill="none" stroke="url(#g455)" stroke-width="1.1" stroke-opacity="1.0" stroke-linejoin="round" stroke-linecap="round"/>
<defs><linearGradient id="g466" gradientUnits="userSpaceOnUse" x1="466" y1="0" x2="478" y2="0"><stop offset="0" stop-color="#1a1a2a" stop-opacity="0"/><stop offset="1" stop-color="#1a1a2a" stop-opacity="1"/></linearGradient></defs>
<polyline points="466.0,164.5 466.5,165.6 467.0,166.6 467.5,167.6 468.0,168.6 468.5,169.5 469.0,170.4 469.5,171.4 470.0,172.2 470.5,173.1 471.0,173.9 471.5,174.7 472.0,175.5 472.5,176.2 473.0,176.9 473.5,177.5 474.0,178.2 474.5,178.8 475.0,179.3 475.5,179.9 476.0,180.4 476.5,180.9 477.0,181.4 477.5,181.9 478.0,182.4 478.5,182.8 479.0,183.2 479.5,183.6 480.0,184.0 480.5,184.3 481.0,184.6 481.5,184.9 482.0,185.1 482.5,185.3 483.0,185.6 483.5,185.8 484.0,186.0 484.5,186.1 485.0,186.3 485.5,186.5 486.0,186.7 486.5,186.8 487.0,187.0 487.5,187.1 488.0,187.3 488.5,187.4 489.0,187.5 489.5,187.7 490.0,187.8" fill="none" stroke="url(#g466)" stroke-width="1.5" stroke-opacity="1.0" stroke-linejoin="round" stroke-linecap="round"/>
<polyline points="484.0,185.8 484.5,186.0 485.0,186.2 485.5,186.3 486.0,186.5 486.5,186.7 487.0,186.8 487.5,187.0 488.0,187.1 488.5,187.3 489.0,187.4 489.5,187.6 490.0,187.7 490.5,187.8 491.0,188.0 491.5,188.1 492.0,188.2 492.5,188.3 493.0,188.5 493.5,188.6 494.0,188.7 494.5,188.8 495.0,188.9 495.5,189.0 496.0,189.1 496.5,189.2 497.0,189.3 497.5,189.4 498.0,189.5 498.5,189.6 499.0,189.7 499.5,189.8 500.0,189.8 500.5,189.9 501.0,190.0 501.5,190.1 502.0,190.2 502.5,190.3 503.0,190.4 503.5,190.5 504.0,190.5 504.5,190.6 505.0,190.7 505.5,190.8 506.0,190.9 506.5,190.9 507.0,191.0 507.5,191.1 508.0,191.2 508.5,191.2 509.0,191.3 509.5,191.4 510.0,191.4 510.5,191.5 511.0,191.5 511.5,191.6 512.0,191.7 512.5,191.7 513.0,191.7 513.5,191.8 514.0,191.8 514.5,191.9 515.0,191.9 515.5,191.9 516.0,192.0 516.5,192.0 517.0,192.1 517.5,192.1 518.0,192.1 518.5,192.2 519.0,192.2 519.5,192.3 520.0,192.3 520.5,192.3 521.0,192.4 521.5,192.4 522.0,192.4 522.5,192.5 523.0,192.5 523.5,192.5 524.0,192.6 524.5,192.6 525.0,192.6 525.5,192.7 526.0,192.7 526.5,192.7 527.0,192.8 527.5,192.8 528.0,192.8 528.5,192.8 529.0,192.9 529.5,192.9 530.0,192.9 530.5,192.9 531.0,193.0 531.5,193.0 532.0,193.0 532.5,193.0 533.0,193.0 533.5,193.1 534.0,193.1 534.5,193.1 535.0,193.1 535.5,193.1 536.0,193.1 536.5,193.1 537.0,193.2 537.5,193.2 538.0,193.2 538.5,193.2 539.0,193.2 539.5,193.2 540.0,193.2 540.5,193.2 541.0,193.2" fill="none" stroke="#1a1a3a" stroke-width="1.6" stroke-opacity="1.0" stroke-linejoin="round" stroke-linecap="round"/>
<polyline points="297.0,27.0 297.5,30.1 298.0,33.9 298.5,37.7 299.0,41.2 299.5,44.2 300.0,46.8 300.5,49.1 301.0,51.3 301.5,53.3 302.0,55.2 302.5,57.0 303.0,58.7 303.5,60.3 304.0,61.8 304.5,63.3 305.0,64.7 305.5,66.0 306.0,67.3" fill="none" stroke="#111" stroke-width="2.8" stroke-opacity="1.0" stroke-linejoin="round" stroke-linecap="round"/>
<text x="292.8" y="36.8" font-family="Liberation Sans" font-weight="bold" font-size="9.6" text-anchor="end" >0.8</text>
<text x="292.3" y="116.9" font-family="Liberation Sans" font-weight="bold" font-size="9.6" text-anchor="end" >0.4</text>
<text x="293.4" y="196.9" font-family="Liberation Sans" font-weight="bold" font-size="9.6" text-anchor="end" >0.0</text>
<text x="358.8" y="207.4" font-family="Liberation Sans" font-weight="bold" font-size="10.2" text-anchor="middle" >300</text>
<text x="481.7" y="207.6" font-family="Liberation Sans" font-weight="bold" font-size="10.2" text-anchor="middle" >400</text>
<line x1="419.2" y1="11" x2="419.2" y2="47" stroke="#222" stroke-width="1.5"/>
<path d="M417.3,46 L421.1,46 L419.2,49.6 Z" fill="#111"/>
<line x1="337.8" y1="106" x2="337.8" y2="155.8" stroke="#222" stroke-width="1.5"/>
<path d="M335.9,106.8 L339.7,106.8 L337.8,103.2 Z" fill="#111"/>
<text x="506.7" y="154.5" font-family="Liberation Serif" font-weight="bold" font-size="31" text-anchor="middle" stroke="#000" stroke-width="0.6">2</text>
<text x="3.8" y="22.9" font-family="Liberation Serif" font-weight="bold" font-size="22" text-anchor="start" stroke="#000" stroke-width="0.3">A)</text>
<text x="4.8" y="232.3" font-family="Liberation Serif" font-weight="bold" font-size="21.5" text-anchor="start" stroke="#000" stroke-width="0.3">B)</text>
<line x1="31.4" y1="220.6" x2="204.5" y2="220.6" stroke="#000" stroke-width="2.6"/>
<text x="212.5" y="228" font-family="Liberation Serif" font-weight="bold" font-size="18.6" text-anchor="start" textLength="140.5" lengthAdjust="spacingAndGlyphs" stroke="#000" stroke-width="0.2">Wavelength (nm)</text>
<line x1="355.2" y1="221.2" x2="542.4" y2="221.2" stroke="#000" stroke-width="2.6"/>
<line x1="42" y1="245.6" x2="42" y2="412.6" stroke="#111" stroke-width="1.5"/>
<line x1="41.3" y1="412" x2="259.4" y2="412" stroke="#111" stroke-width="1.5"/>
<line x1="38.8" y1="391.7" x2="42" y2="391.7" stroke="#111" stroke-width="1.2"/>
<line x1="38.8" y1="350.16999999999996" x2="42" y2="350.16999999999996" stroke="#111" stroke-width="1.2"/>
<line x1="38.8" y1="308.64" x2="42" y2="308.64" stroke="#111" stroke-width="1.2"/>
<line x1="38.8" y1="267.11" x2="42" y2="267.11" stroke="#111" stroke-width="1.2"/>
<line x1="40.3" y1="412.465" x2="42" y2="412.465" stroke="#111" stroke-width="1"/>
<line x1="40.3" y1="370.935" x2="42" y2="370.935" stroke="#111" stroke-width="1"/>
<line x1="40.3" y1="329.405" x2="42" y2="329.405" stroke="#111" stroke-width="1"/>
<line x1="40.3" y1="287.875" x2="42" y2="287.875" stroke="#111" stroke-width="1"/>
<line x1="40.3" y1="246.34499999999997" x2="42" y2="246.34499999999997" stroke="#111" stroke-width="1"/>
<line x1="42.0" y1="412" x2="42.0" y2="415.7" stroke="#111" stroke-width="1.2"/>
<line x1="123.9" y1="412" x2="123.9" y2="415.7" stroke="#111" stroke-width="1.2"/>
<line x1="205.8" y1="412" x2="205.8" y2="415.7" stroke="#111" stroke-width="1.2"/>
<line x1="82.95" y1="412" x2="82.95" y2="414" stroke="#111" stroke-width="1"/>
<line x1="164.85000000000002" y1="412" x2="164.85000000000002" y2="414" stroke="#111" stroke-width="1"/>
<line x1="246.75" y1="412" x2="246.75" y2="414" stroke="#111" stroke-width="1"/>
<text x="37.2" y="395.3" font-family="Liberation Serif" font-weight="bold" font-size="11.4" text-anchor="end" stroke="#000" stroke-width="0.25">0.0</text>
<text x="37.2" y="353.77" font-family="Liberation Serif" font-weight="bold" font-size="11.4" text-anchor="end" stroke="#000" stroke-width="0.25">1.0</text>
<text x="37.2" y="312.24" font-family="Liberation Serif" font-weight="bold" font-size="11.4" text-anchor="end" stroke="#000" stroke-width="0.25">2.0</text>
<text x="37.2" y="270.71000000000004" font-family="Liberation Serif" font-weight="bold" font-size="11.4" text-anchor="end" stroke="#000" stroke-width="0.25">3.0</text>
<text x="41.5" y="425" font-family="Liberation Serif" font-weight="bold" font-size="11.2" text-anchor="middle" stroke="#000" stroke-width="0.25">0.0</text>
<text x="123.4" y="425" font-family="Liberation Serif" font-weight="bold" font-size="11.2" text-anchor="middle" stroke="#000" stroke-width="0.25">3.0</text>
<text x="205.3" y="425" font-family="Liberation Serif" font-weight="bold" font-size="11.2" text-anchor="middle" stroke="#000" stroke-width="0.25">6.0</text>
<line x1="81.1" y1="365.1" x2="239.5" y2="249.5" stroke="#c24c55" stroke-width="1.2"/>
<rect x="79.70" y="381.20" width="4.4" height="4.4" fill="#000"/>
<rect x="97.60" y="350.30" width="4.4" height="4.4" fill="#000"/>
<rect x="116.50" y="324.30" width="4.4" height="4.4" fill="#000"/>
<rect x="134.90" y="313.40" width="4.4" height="4.4" fill="#000"/>
<rect x="170.20" y="294.60" width="4.4" height="4.4" fill="#000"/>
<rect x="187.60" y="279.50" width="4.4" height="4.4" fill="#000"/>
<rect x="204.30" y="271.10" width="4.4" height="4.4" fill="#000"/>
<rect x="221.20" y="263.90" width="4.4" height="4.4" fill="#000"/>
<rect x="237.80" y="256.20" width="4.4" height="4.4" fill="#000"/>
<text x="236.2" y="382.8" font-family="Liberation Serif" font-weight="bold" font-size="31" text-anchor="middle" stroke="#000" stroke-width="0.6">1</text>
<text font-family="Liberation Serif" font-weight="bold" font-size="17.5" text-anchor="middle" stroke="#000" stroke-width="0.2" textLength="160" lengthAdjust="spacingAndGlyphs" transform="translate(20.2,334.6) rotate(-90)">[DNA]/[<tspan font-style="italic">&#400;</tspan><tspan font-size="10.5" dy="3">a</tspan><tspan dy="-3">-</tspan><tspan font-style="italic">&#400;</tspan><tspan font-size="10.5" dy="3">f</tspan><tspan dy="-3">] x 10</tspan><tspan font-size="10.5" dy="-6.5">-8</tspan><tspan dy="6.5"> M</tspan></text>
<line x1="315" y1="244.4" x2="315" y2="412.6" stroke="#111" stroke-width="1.5"/>
<line x1="314.3" y1="412" x2="536.5" y2="412" stroke="#111" stroke-width="1.5"/>
<line x1="311.8" y1="378.9" x2="315" y2="378.9" stroke="#111" stroke-width="1.2"/>
<line x1="311.8" y1="325.02" x2="315" y2="325.02" stroke="#111" stroke-width="1.2"/>
<line x1="311.8" y1="271.14" x2="315" y2="271.14" stroke="#111" stroke-width="1.2"/>
<line x1="313.3" y1="405.84" x2="315" y2="405.84" stroke="#111" stroke-width="1"/>
<line x1="313.3" y1="351.96" x2="315" y2="351.96" stroke="#111" stroke-width="1"/>
<line x1="313.3" y1="298.08" x2="315" y2="298.08" stroke="#111" stroke-width="1"/>
<line x1="313.3" y1="244.19999999999996" x2="315" y2="244.19999999999996" stroke="#111" stroke-width="1"/>
<line x1="315.8" y1="412" x2="315.8" y2="415.7" stroke="#111" stroke-width="1.2"/>
<line x1="378.74" y1="412" x2="378.74" y2="415.7" stroke="#111" stroke-width="1.2"/>
<line x1="441.68" y1="412" x2="441.68" y2="415.7" stroke="#111" stroke-width="1.2"/>
<line x1="504.62" y1="412" x2="504.62" y2="415.7" stroke="#111" stroke-width="1.2"/>
<line x1="347.27" y1="412" x2="347.27" y2="414" stroke="#111" stroke-width="1"/>
<line x1="410.21000000000004" y1="412" x2="410.21000000000004" y2="414" stroke="#111" stroke-width="1"/>
<line x1="473.15" y1="412" x2="473.15" y2="414" stroke="#111" stroke-width="1"/>
<line x1="536.09" y1="412" x2="536.09" y2="414" stroke="#111" stroke-width="1"/>
<text x="308.9" y="382.29999999999995" font-family="Liberation Serif" font-weight="bold" font-size="10.4" text-anchor="end" stroke="#000" stroke-width="0.25">0.0</text>
<text x="308.9" y="328.41999999999996" font-family="Liberation Serif" font-weight="bold" font-size="10.4" text-anchor="end" stroke="#000" stroke-width="0.25">4.0</text>
<text x="308.9" y="274.53999999999996" font-family="Liberation Serif" font-weight="bold" font-size="10.4" text-anchor="end" stroke="#000" stroke-width="0.25">8.0</text>
<text x="315.25" y="423.9" font-family="Liberation Serif" font-weight="bold" font-size="11.3" text-anchor="middle" stroke="#000" stroke-width="0.25">0.0</text>
<text x="379.5" y="423.9" font-family="Liberation Serif" font-weight="bold" font-size="11.3" text-anchor="middle" stroke="#000" stroke-width="0.25">2.0</text>
<text x="442.5" y="423.9" font-family="Liberation Serif" font-weight="bold" font-size="11.3" text-anchor="middle" stroke="#000" stroke-width="0.25">4.0</text>
<text x="506.3" y="423.9" font-family="Liberation Serif" font-weight="bold" font-size="11.3" text-anchor="middle" stroke="#000" stroke-width="0.25">6.0</text>
<line x1="336.7" y1="379.2" x2="506.4" y2="260.5" stroke="#843840" stroke-width="1.05"/>
<rect x="335.00" y="384.70" width="4.4" height="4.4" fill="#000"/>
<rect x="414.80" y="314.40" width="4.4" height="4.4" fill="#000"/>
<rect x="433.40" y="306.40" width="4.4" height="4.4" fill="#000"/>
<rect x="451.80" y="290.20" width="4.4" height="4.4" fill="#000"/>
<rect x="469.80" y="279.40" width="4.4" height="4.4" fill="#000"/>
<rect x="487.60" y="272.80" width="4.4" height="4.4" fill="#000"/>
<rect x="504.60" y="267.50" width="4.4" height="4.4" fill="#000"/>
<text x="514" y="384.8" font-family="Liberation Serif" font-weight="bold" font-size="31" text-anchor="middle" stroke="#000" stroke-width="0.6">2</text>
<line x1="39.8" y1="435.2" x2="211" y2="435.2" stroke="#000" stroke-width="3"/>
<text x="217.6" y="442.2" font-family="Liberation Serif" font-weight="bold" font-size="16.8" textLength="113.2" lengthAdjust="spacingAndGlyphs">[DNA] x 10<tspan font-size="10.5" dy="-6.5">-5</tspan><tspan dy="6.5"> M</tspan></text>
<line x1="339.8" y1="434.5" x2="537" y2="434.5" stroke="#000" stroke-width="3"/>
</svg>
</body></html>
